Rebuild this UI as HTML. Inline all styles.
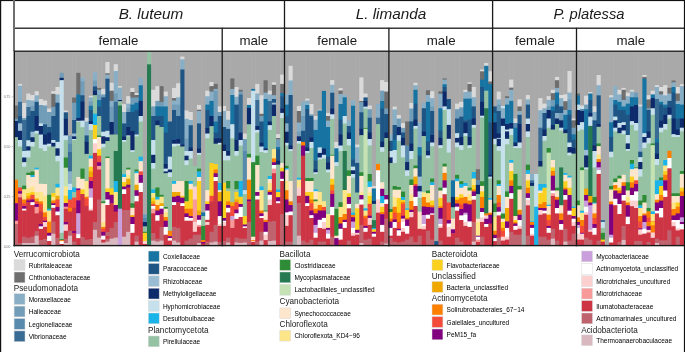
<!DOCTYPE html>
<html><head><meta charset="utf-8"><style>
html,body{margin:0;padding:0;background:#fff;}
body{width:685px;height:352px;overflow:hidden;position:relative;font-family:"Liberation Sans",sans-serif;color:#111;}
svg{position:absolute;left:0;top:0;}
.t{position:absolute;white-space:nowrap;line-height:1;}
</style></head><body>
<svg width="685" height="352" viewBox="0 0 685 352">
<rect x="13.80" y="51.00" width="4.76" height="55.00" fill="#a9a9a9"/>
<rect x="13.80" y="105.50" width="4.76" height="13.80" fill="#6e6e6e"/>
<rect x="13.80" y="118.80" width="4.76" height="2.70" fill="#729db9"/>
<rect x="13.80" y="121.00" width="4.76" height="16.70" fill="#0d2a6a"/>
<rect x="13.80" y="137.20" width="4.76" height="43.00" fill="#96c2a4"/>
<rect x="13.80" y="179.70" width="4.76" height="24.00" fill="#fd7f00"/>
<rect x="13.80" y="203.20" width="4.76" height="18.00" fill="#800080"/>
<rect x="13.80" y="220.70" width="4.76" height="3.80" fill="#f89a9a"/>
<rect x="13.80" y="224.00" width="4.76" height="21.50" fill="#bf636f"/>
<rect x="17.96" y="51.00" width="4.76" height="33.40" fill="#a9a9a9"/>
<rect x="17.96" y="83.90" width="4.76" height="2.30" fill="#dadada"/>
<rect x="17.96" y="85.70" width="4.76" height="16.60" fill="#88afc6"/>
<rect x="17.96" y="101.80" width="4.76" height="14.70" fill="#386c95"/>
<rect x="17.96" y="116.00" width="4.76" height="7.90" fill="#1e5585"/>
<rect x="17.96" y="123.40" width="4.76" height="7.90" fill="#9bbdd4"/>
<rect x="17.96" y="130.80" width="4.76" height="9.70" fill="#0d2a6a"/>
<rect x="17.96" y="140.00" width="4.76" height="7.00" fill="#c6e0ec"/>
<rect x="17.96" y="146.50" width="4.76" height="41.50" fill="#96c2a4"/>
<rect x="17.96" y="187.50" width="4.76" height="4.20" fill="#f44a3a"/>
<rect x="17.96" y="191.20" width="4.76" height="2.90" fill="#800080"/>
<rect x="17.96" y="193.60" width="4.76" height="4.20" fill="#f89a9a"/>
<rect x="17.96" y="197.30" width="4.76" height="46.20" fill="#cd3545"/>
<rect x="17.96" y="243.00" width="4.76" height="2.50" fill="#bf636f"/>
<rect x="22.13" y="51.00" width="4.76" height="52.50" fill="#a9a9a9"/>
<rect x="22.13" y="103.00" width="4.76" height="15.50" fill="#dadada"/>
<rect x="22.13" y="118.00" width="4.76" height="2.50" fill="#729db9"/>
<rect x="22.13" y="120.00" width="4.76" height="31.50" fill="#386c95"/>
<rect x="22.13" y="151.00" width="4.76" height="7.00" fill="#c6e0ec"/>
<rect x="22.13" y="157.50" width="4.76" height="5.20" fill="#0d2a6a"/>
<rect x="22.13" y="162.20" width="4.76" height="5.10" fill="#c6e0ec"/>
<rect x="22.13" y="166.80" width="4.76" height="19.30" fill="#96c2a4"/>
<rect x="22.13" y="185.60" width="4.76" height="4.20" fill="#2e8b36"/>
<rect x="22.13" y="189.30" width="4.76" height="10.70" fill="#fde68a"/>
<rect x="22.13" y="199.50" width="4.76" height="4.20" fill="#fd7f00"/>
<rect x="22.13" y="203.20" width="4.76" height="3.30" fill="#f44a3a"/>
<rect x="22.13" y="206.00" width="4.76" height="3.20" fill="#800080"/>
<rect x="22.13" y="208.70" width="4.76" height="2.30" fill="#ffffff"/>
<rect x="22.13" y="210.50" width="4.76" height="26.70" fill="#cd3545"/>
<rect x="22.13" y="236.70" width="4.76" height="6.80" fill="#bf636f"/>
<rect x="22.13" y="243.00" width="4.76" height="2.50" fill="#d9b9bf"/>
<rect x="26.29" y="51.00" width="4.76" height="43.00" fill="#a9a9a9"/>
<rect x="26.29" y="93.50" width="4.76" height="7.00" fill="#dadada"/>
<rect x="26.29" y="100.00" width="4.76" height="7.50" fill="#88afc6"/>
<rect x="26.29" y="107.00" width="4.76" height="9.50" fill="#386c95"/>
<rect x="26.29" y="116.00" width="4.76" height="24.80" fill="#1e5585"/>
<rect x="26.29" y="140.30" width="4.76" height="6.50" fill="#c6e0ec"/>
<rect x="26.29" y="146.30" width="4.76" height="4.70" fill="#0d2a6a"/>
<rect x="26.29" y="150.50" width="4.76" height="7.40" fill="#c6e0ec"/>
<rect x="26.29" y="157.40" width="4.76" height="15.80" fill="#96c2a4"/>
<rect x="26.29" y="172.70" width="4.76" height="2.80" fill="#2e8b36"/>
<rect x="26.29" y="175.00" width="4.76" height="13.90" fill="#fde6cc"/>
<rect x="26.29" y="188.40" width="4.76" height="5.10" fill="#fde68a"/>
<rect x="26.29" y="193.00" width="4.76" height="3.30" fill="#fbd01e"/>
<rect x="26.29" y="195.80" width="4.76" height="3.20" fill="#f0a800"/>
<rect x="26.29" y="198.50" width="4.76" height="2.40" fill="#f44a3a"/>
<rect x="26.29" y="200.40" width="4.76" height="2.30" fill="#800080"/>
<rect x="26.29" y="202.20" width="4.76" height="36.00" fill="#cd3545"/>
<rect x="26.29" y="237.70" width="4.76" height="5.80" fill="#bf636f"/>
<rect x="26.29" y="243.00" width="4.76" height="2.50" fill="#d9b9bf"/>
<rect x="30.45" y="51.00" width="4.76" height="44.50" fill="#a9a9a9"/>
<rect x="30.45" y="95.00" width="4.76" height="6.00" fill="#dadada"/>
<rect x="30.45" y="100.50" width="4.76" height="6.00" fill="#88afc6"/>
<rect x="30.45" y="106.00" width="4.76" height="5.50" fill="#729db9"/>
<rect x="30.45" y="111.00" width="4.76" height="21.20" fill="#1e5585"/>
<rect x="30.45" y="131.70" width="4.76" height="6.00" fill="#9bbdd4"/>
<rect x="30.45" y="137.20" width="4.76" height="5.20" fill="#0d2a6a"/>
<rect x="30.45" y="141.90" width="4.76" height="5.10" fill="#c6e0ec"/>
<rect x="30.45" y="146.50" width="4.76" height="25.40" fill="#96c2a4"/>
<rect x="30.45" y="171.40" width="4.76" height="4.10" fill="#2e8b36"/>
<rect x="30.45" y="175.00" width="4.76" height="2.50" fill="#1ab4e8"/>
<rect x="30.45" y="177.00" width="4.76" height="10.00" fill="#fde6cc"/>
<rect x="30.45" y="186.50" width="4.76" height="6.00" fill="#fde68a"/>
<rect x="30.45" y="192.00" width="4.76" height="3.30" fill="#fbd01e"/>
<rect x="30.45" y="194.80" width="4.76" height="5.20" fill="#f44a3a"/>
<rect x="30.45" y="199.50" width="4.76" height="3.20" fill="#800080"/>
<rect x="30.45" y="202.20" width="4.76" height="3.30" fill="#ffffff"/>
<rect x="30.45" y="205.00" width="4.76" height="32.20" fill="#cd3545"/>
<rect x="30.45" y="236.70" width="4.76" height="6.80" fill="#bf636f"/>
<rect x="30.45" y="243.00" width="4.76" height="2.50" fill="#d9b9bf"/>
<rect x="34.61" y="51.00" width="4.76" height="40.80" fill="#a9a9a9"/>
<rect x="34.61" y="91.30" width="4.76" height="4.50" fill="#dadada"/>
<rect x="34.61" y="95.30" width="4.76" height="7.00" fill="#88afc6"/>
<rect x="34.61" y="101.80" width="4.76" height="14.70" fill="#1e5585"/>
<rect x="34.61" y="116.00" width="4.76" height="15.30" fill="#0d2a6a"/>
<rect x="34.61" y="130.80" width="4.76" height="3.20" fill="#c6e0ec"/>
<rect x="34.61" y="133.50" width="4.76" height="34.70" fill="#96c2a4"/>
<rect x="34.61" y="167.70" width="4.76" height="2.30" fill="#1ab4e8"/>
<rect x="34.61" y="169.50" width="4.76" height="23.00" fill="#fde6cc"/>
<rect x="34.61" y="192.00" width="4.76" height="7.00" fill="#fde68a"/>
<rect x="34.61" y="198.50" width="4.76" height="3.30" fill="#f0a800"/>
<rect x="34.61" y="201.30" width="4.76" height="3.20" fill="#f44a3a"/>
<rect x="34.61" y="204.00" width="4.76" height="3.40" fill="#800080"/>
<rect x="34.61" y="206.90" width="4.76" height="6.90" fill="#f89a9a"/>
<rect x="34.61" y="213.30" width="4.76" height="18.50" fill="#cd3545"/>
<rect x="34.61" y="231.30" width="4.76" height="4.90" fill="#bf636f"/>
<rect x="34.61" y="235.70" width="4.76" height="9.80" fill="#d9b9bf"/>
<rect x="38.78" y="51.00" width="4.76" height="48.50" fill="#a9a9a9"/>
<rect x="38.78" y="99.00" width="4.76" height="6.50" fill="#dadada"/>
<rect x="38.78" y="105.00" width="4.76" height="18.90" fill="#729db9"/>
<rect x="38.78" y="123.40" width="4.76" height="3.10" fill="#c6e0ec"/>
<rect x="38.78" y="126.00" width="4.76" height="9.00" fill="#0d2a6a"/>
<rect x="38.78" y="134.50" width="4.76" height="14.30" fill="#c6e0ec"/>
<rect x="38.78" y="148.30" width="4.76" height="36.00" fill="#96c2a4"/>
<rect x="38.78" y="183.80" width="4.76" height="8.70" fill="#fde6cc"/>
<rect x="38.78" y="192.00" width="4.76" height="9.80" fill="#fde68a"/>
<rect x="38.78" y="201.30" width="4.76" height="3.20" fill="#fd7f00"/>
<rect x="38.78" y="204.00" width="4.76" height="8.00" fill="#f44a3a"/>
<rect x="38.78" y="211.50" width="4.76" height="13.00" fill="#cd3545"/>
<rect x="38.78" y="224.00" width="4.76" height="2.90" fill="#800080"/>
<rect x="38.78" y="226.40" width="4.76" height="2.90" fill="#ffffff"/>
<rect x="38.78" y="228.80" width="4.76" height="11.80" fill="#cd3545"/>
<rect x="38.78" y="240.10" width="4.76" height="5.40" fill="#bf636f"/>
<rect x="42.94" y="51.00" width="4.76" height="50.00" fill="#a9a9a9"/>
<rect x="42.94" y="100.50" width="4.76" height="5.50" fill="#dadada"/>
<rect x="42.94" y="105.50" width="4.76" height="19.30" fill="#729db9"/>
<rect x="42.94" y="124.30" width="4.76" height="10.70" fill="#1e5585"/>
<rect x="42.94" y="134.50" width="4.76" height="10.60" fill="#0d2a6a"/>
<rect x="42.94" y="144.60" width="4.76" height="6.90" fill="#c6e0ec"/>
<rect x="42.94" y="151.00" width="4.76" height="33.50" fill="#96c2a4"/>
<rect x="42.94" y="184.00" width="4.76" height="12.30" fill="#fde6cc"/>
<rect x="42.94" y="195.80" width="4.76" height="17.10" fill="#fde68a"/>
<rect x="42.94" y="212.40" width="4.76" height="5.10" fill="#fd7f00"/>
<rect x="42.94" y="217.00" width="4.76" height="4.20" fill="#f44a3a"/>
<rect x="42.94" y="220.70" width="4.76" height="1.80" fill="#800080"/>
<rect x="42.94" y="222.00" width="4.76" height="5.40" fill="#fdd0d0"/>
<rect x="42.94" y="226.90" width="4.76" height="12.70" fill="#cd3545"/>
<rect x="42.94" y="239.10" width="4.76" height="6.40" fill="#bf636f"/>
<rect x="47.10" y="51.00" width="4.76" height="58.10" fill="#a9a9a9"/>
<rect x="47.10" y="108.60" width="4.76" height="3.90" fill="#dadada"/>
<rect x="47.10" y="112.00" width="4.76" height="15.50" fill="#729db9"/>
<rect x="47.10" y="127.00" width="4.76" height="6.10" fill="#1e5585"/>
<rect x="47.10" y="132.60" width="4.76" height="11.60" fill="#0d2a6a"/>
<rect x="47.10" y="143.70" width="4.76" height="3.30" fill="#c6e0ec"/>
<rect x="47.10" y="146.50" width="4.76" height="48.80" fill="#96c2a4"/>
<rect x="47.10" y="194.80" width="4.76" height="14.40" fill="#2e8b36"/>
<rect x="47.10" y="208.70" width="4.76" height="2.30" fill="#1ab4e8"/>
<rect x="47.10" y="210.50" width="4.76" height="11.60" fill="#fde68a"/>
<rect x="47.10" y="221.60" width="4.76" height="11.70" fill="#fd7f00"/>
<rect x="47.10" y="232.80" width="4.76" height="3.40" fill="#800080"/>
<rect x="47.10" y="235.70" width="4.76" height="5.80" fill="#ffffff"/>
<rect x="47.10" y="241.00" width="4.76" height="4.50" fill="#cd3545"/>
<rect x="51.26" y="51.00" width="4.76" height="40.80" fill="#a9a9a9"/>
<rect x="51.26" y="91.30" width="4.76" height="3.00" fill="#dadada"/>
<rect x="51.26" y="93.80" width="4.76" height="13.50" fill="#6e6e6e"/>
<rect x="51.26" y="106.80" width="4.76" height="9.70" fill="#729db9"/>
<rect x="51.26" y="116.00" width="4.76" height="24.50" fill="#1e5585"/>
<rect x="51.26" y="140.00" width="4.76" height="3.30" fill="#c6e0ec"/>
<rect x="51.26" y="142.80" width="4.76" height="4.20" fill="#0d2a6a"/>
<rect x="51.26" y="146.50" width="4.76" height="47.00" fill="#96c2a4"/>
<rect x="51.26" y="193.00" width="4.76" height="4.20" fill="#fbd01e"/>
<rect x="51.26" y="196.70" width="4.76" height="4.20" fill="#fde68a"/>
<rect x="51.26" y="200.40" width="4.76" height="3.30" fill="#fd7f00"/>
<rect x="51.26" y="203.20" width="4.76" height="2.30" fill="#800080"/>
<rect x="51.26" y="205.00" width="4.76" height="3.30" fill="#ffffff"/>
<rect x="51.26" y="207.80" width="4.76" height="14.30" fill="#cd3545"/>
<rect x="51.26" y="221.60" width="4.76" height="12.60" fill="#bf636f"/>
<rect x="51.26" y="233.70" width="4.76" height="11.80" fill="#d9b9bf"/>
<rect x="55.43" y="51.00" width="4.76" height="36.50" fill="#a9a9a9"/>
<rect x="55.43" y="87.00" width="4.76" height="7.90" fill="#dadada"/>
<rect x="55.43" y="94.40" width="4.76" height="8.80" fill="#88afc6"/>
<rect x="55.43" y="102.70" width="4.76" height="39.70" fill="#1e5585"/>
<rect x="55.43" y="141.90" width="4.76" height="6.90" fill="#c6e0ec"/>
<rect x="55.43" y="148.30" width="4.76" height="7.90" fill="#0d2a6a"/>
<rect x="55.43" y="155.70" width="4.76" height="6.00" fill="#c6e0ec"/>
<rect x="55.43" y="161.20" width="4.76" height="23.10" fill="#96c2a4"/>
<rect x="55.43" y="183.80" width="4.76" height="4.20" fill="#1ab4e8"/>
<rect x="55.43" y="187.50" width="4.76" height="8.80" fill="#fde68a"/>
<rect x="55.43" y="195.80" width="4.76" height="4.20" fill="#f0a800"/>
<rect x="55.43" y="199.50" width="4.76" height="7.90" fill="#f44a3a"/>
<rect x="55.43" y="206.90" width="4.76" height="5.10" fill="#800080"/>
<rect x="55.43" y="211.50" width="4.76" height="4.20" fill="#ffffff"/>
<rect x="55.43" y="215.20" width="4.76" height="23.40" fill="#cd3545"/>
<rect x="55.43" y="238.10" width="4.76" height="7.40" fill="#bf636f"/>
<rect x="59.59" y="51.00" width="4.76" height="22.30" fill="#a9a9a9"/>
<rect x="59.59" y="72.80" width="4.76" height="5.50" fill="#729db9"/>
<rect x="59.59" y="77.80" width="4.76" height="2.90" fill="#0d2a6a"/>
<rect x="59.59" y="80.20" width="4.76" height="153.10" fill="#c6e0ec"/>
<rect x="59.59" y="232.80" width="4.76" height="6.80" fill="#96c2a4"/>
<rect x="59.59" y="239.10" width="4.76" height="1.50" fill="#2e8b36"/>
<rect x="59.59" y="240.10" width="4.76" height="1.50" fill="#fd7f00"/>
<rect x="59.59" y="241.10" width="4.76" height="3.40" fill="#ffffff"/>
<rect x="59.59" y="244.00" width="4.76" height="1.50" fill="#cd3545"/>
<rect x="63.75" y="51.00" width="4.76" height="60.00" fill="#a9a9a9"/>
<rect x="63.75" y="110.50" width="4.76" height="2.30" fill="#dadada"/>
<rect x="63.75" y="112.30" width="4.76" height="7.00" fill="#1e5585"/>
<rect x="63.75" y="118.80" width="4.76" height="17.10" fill="#0d2a6a"/>
<rect x="63.75" y="135.40" width="4.76" height="5.10" fill="#c6e0ec"/>
<rect x="63.75" y="140.00" width="4.76" height="18.00" fill="#96c2a4"/>
<rect x="63.75" y="157.50" width="4.76" height="10.70" fill="#2e8b36"/>
<rect x="63.75" y="167.70" width="4.76" height="19.30" fill="#c4e2b4"/>
<rect x="63.75" y="186.50" width="4.76" height="9.80" fill="#fde68a"/>
<rect x="63.75" y="195.80" width="4.76" height="7.70" fill="#fbd01e"/>
<rect x="63.75" y="203.00" width="4.76" height="4.20" fill="#800080"/>
<rect x="63.75" y="206.70" width="4.76" height="2.50" fill="#f89a9a"/>
<rect x="63.75" y="208.70" width="4.76" height="13.80" fill="#cd3545"/>
<rect x="63.75" y="222.00" width="4.76" height="2.90" fill="#800080"/>
<rect x="63.75" y="224.40" width="4.76" height="6.90" fill="#fdd0d0"/>
<rect x="63.75" y="230.80" width="4.76" height="8.30" fill="#cd3545"/>
<rect x="63.75" y="238.60" width="4.76" height="4.90" fill="#bf636f"/>
<rect x="63.75" y="243.00" width="4.76" height="2.50" fill="#d9b9bf"/>
<rect x="67.92" y="51.00" width="4.76" height="84.90" fill="#a9a9a9"/>
<rect x="67.92" y="135.40" width="4.76" height="8.80" fill="#729db9"/>
<rect x="67.92" y="143.70" width="4.76" height="8.80" fill="#588aad"/>
<rect x="67.92" y="152.00" width="4.76" height="19.90" fill="#386c95"/>
<rect x="67.92" y="171.40" width="4.76" height="12.90" fill="#88afc6"/>
<rect x="67.92" y="183.80" width="4.76" height="6.70" fill="#c6e0ec"/>
<rect x="67.92" y="190.00" width="4.76" height="10.00" fill="#1ab4e8"/>
<rect x="67.92" y="199.50" width="4.76" height="8.80" fill="#f44a3a"/>
<rect x="67.92" y="207.80" width="4.76" height="4.20" fill="#fd7f00"/>
<rect x="67.92" y="211.50" width="4.76" height="19.80" fill="#cd3545"/>
<rect x="67.92" y="230.80" width="4.76" height="5.40" fill="#bf636f"/>
<rect x="67.92" y="235.70" width="4.76" height="9.80" fill="#d9b9bf"/>
<rect x="72.08" y="51.00" width="4.76" height="47.00" fill="#a9a9a9"/>
<rect x="72.08" y="97.50" width="4.76" height="5.70" fill="#6e6e6e"/>
<rect x="72.08" y="102.70" width="4.76" height="17.80" fill="#729db9"/>
<rect x="72.08" y="120.00" width="4.76" height="14.00" fill="#1e5585"/>
<rect x="72.08" y="133.50" width="4.76" height="3.30" fill="#9bbdd4"/>
<rect x="72.08" y="136.30" width="4.76" height="3.20" fill="#0d2a6a"/>
<rect x="72.08" y="139.00" width="4.76" height="1.50" fill="#c6e0ec"/>
<rect x="72.08" y="140.00" width="4.76" height="48.00" fill="#96c2a4"/>
<rect x="72.08" y="187.50" width="4.76" height="5.00" fill="#1ab4e8"/>
<rect x="72.08" y="192.00" width="4.76" height="6.10" fill="#96c2a4"/>
<rect x="72.08" y="197.60" width="4.76" height="10.70" fill="#f44a3a"/>
<rect x="72.08" y="207.80" width="4.76" height="23.70" fill="#cd3545"/>
<rect x="72.08" y="231.00" width="4.76" height="2.50" fill="#800080"/>
<rect x="72.08" y="233.00" width="4.76" height="9.10" fill="#cd3545"/>
<rect x="72.08" y="241.60" width="4.76" height="3.90" fill="#bf636f"/>
<rect x="76.24" y="51.00" width="4.76" height="22.30" fill="#a9a9a9"/>
<rect x="76.24" y="72.80" width="4.76" height="22.10" fill="#6e6e6e"/>
<rect x="76.24" y="94.40" width="4.76" height="24.00" fill="#1774a2"/>
<rect x="76.24" y="117.90" width="4.76" height="3.40" fill="#0d2a6a"/>
<rect x="76.24" y="120.80" width="4.76" height="1.40" fill="#c6e0ec"/>
<rect x="76.24" y="121.70" width="4.76" height="55.80" fill="#96c2a4"/>
<rect x="76.24" y="177.00" width="4.76" height="11.90" fill="#fde6cc"/>
<rect x="76.24" y="188.40" width="4.76" height="2.30" fill="#800080"/>
<rect x="76.24" y="190.20" width="4.76" height="10.70" fill="#f44a3a"/>
<rect x="76.24" y="200.40" width="4.76" height="13.40" fill="#800080"/>
<rect x="76.24" y="213.30" width="4.76" height="21.40" fill="#c9a0dc"/>
<rect x="76.24" y="234.20" width="4.76" height="4.40" fill="#ffffff"/>
<rect x="76.24" y="238.10" width="4.76" height="7.40" fill="#cd3545"/>
<rect x="80.40" y="51.00" width="4.76" height="26.80" fill="#a9a9a9"/>
<rect x="80.40" y="77.30" width="4.76" height="4.30" fill="#88afc6"/>
<rect x="80.40" y="81.10" width="4.76" height="14.60" fill="#729db9"/>
<rect x="80.40" y="95.20" width="4.76" height="6.70" fill="#1e5585"/>
<rect x="80.40" y="101.40" width="4.76" height="19.70" fill="#0d2a6a"/>
<rect x="80.40" y="120.60" width="4.76" height="7.00" fill="#c6e0ec"/>
<rect x="80.40" y="127.10" width="4.76" height="42.00" fill="#96c2a4"/>
<rect x="80.40" y="168.60" width="4.76" height="10.70" fill="#2e8b36"/>
<rect x="80.40" y="178.80" width="4.76" height="11.00" fill="#fde6cc"/>
<rect x="80.40" y="189.30" width="4.76" height="5.20" fill="#fbd01e"/>
<rect x="80.40" y="194.00" width="4.76" height="43.70" fill="#cd3545"/>
<rect x="80.40" y="237.20" width="4.76" height="8.30" fill="#bf636f"/>
<rect x="84.57" y="51.00" width="4.76" height="67.30" fill="#a9a9a9"/>
<rect x="84.57" y="117.80" width="4.76" height="4.20" fill="#dadada"/>
<rect x="84.57" y="121.50" width="4.76" height="14.40" fill="#88afc6"/>
<rect x="84.57" y="135.40" width="4.76" height="7.00" fill="#1e5585"/>
<rect x="84.57" y="141.90" width="4.76" height="12.50" fill="#0d2a6a"/>
<rect x="84.57" y="153.90" width="4.76" height="27.60" fill="#96c2a4"/>
<rect x="84.57" y="181.00" width="4.76" height="16.20" fill="#fde68a"/>
<rect x="84.57" y="196.70" width="4.76" height="2.30" fill="#fd7f00"/>
<rect x="84.57" y="198.50" width="4.76" height="8.00" fill="#f44a3a"/>
<rect x="84.57" y="206.00" width="4.76" height="34.10" fill="#cd3545"/>
<rect x="84.57" y="239.60" width="4.76" height="5.90" fill="#bf636f"/>
<rect x="88.73" y="51.00" width="4.76" height="45.30" fill="#a9a9a9"/>
<rect x="88.73" y="95.80" width="4.76" height="2.00" fill="#dadada"/>
<rect x="88.73" y="97.30" width="4.76" height="4.60" fill="#88afc6"/>
<rect x="88.73" y="101.40" width="4.76" height="4.90" fill="#729db9"/>
<rect x="88.73" y="105.80" width="4.76" height="4.70" fill="#1774a2"/>
<rect x="88.73" y="110.00" width="4.76" height="11.50" fill="#1e5585"/>
<rect x="88.73" y="121.00" width="4.76" height="3.50" fill="#0d2a6a"/>
<rect x="88.73" y="124.00" width="4.76" height="6.50" fill="#c6e0ec"/>
<rect x="88.73" y="130.00" width="4.76" height="26.20" fill="#96c2a4"/>
<rect x="88.73" y="155.70" width="4.76" height="3.30" fill="#1ab4e8"/>
<rect x="88.73" y="158.50" width="4.76" height="8.80" fill="#fde6cc"/>
<rect x="88.73" y="166.80" width="4.76" height="5.10" fill="#fbd01e"/>
<rect x="88.73" y="171.40" width="4.76" height="6.10" fill="#f0a800"/>
<rect x="88.73" y="177.00" width="4.76" height="4.50" fill="#f44a3a"/>
<rect x="88.73" y="181.00" width="4.76" height="7.90" fill="#800080"/>
<rect x="88.73" y="188.40" width="4.76" height="9.70" fill="#c9a0dc"/>
<rect x="88.73" y="197.60" width="4.76" height="11.60" fill="#ffffff"/>
<rect x="88.73" y="208.70" width="4.76" height="2.30" fill="#fdd0d0"/>
<rect x="88.73" y="210.50" width="4.76" height="29.10" fill="#cd3545"/>
<rect x="88.73" y="239.10" width="4.76" height="6.40" fill="#bf636f"/>
<rect x="92.89" y="51.00" width="4.76" height="21.80" fill="#a9a9a9"/>
<rect x="92.89" y="72.30" width="4.76" height="8.40" fill="#88afc6"/>
<rect x="92.89" y="80.20" width="4.76" height="6.70" fill="#729db9"/>
<rect x="92.89" y="86.40" width="4.76" height="4.90" fill="#1e5585"/>
<rect x="92.89" y="90.80" width="4.76" height="4.90" fill="#0d2a6a"/>
<rect x="92.89" y="95.20" width="4.76" height="19.00" fill="#96c2a4"/>
<rect x="92.89" y="113.70" width="4.76" height="11.80" fill="#1ab4e8"/>
<rect x="92.89" y="125.00" width="4.76" height="14.60" fill="#fbd01e"/>
<rect x="92.89" y="139.10" width="4.76" height="4.70" fill="#ffffff"/>
<rect x="92.89" y="143.30" width="4.76" height="10.10" fill="#fdd0d0"/>
<rect x="92.89" y="152.90" width="4.76" height="69.60" fill="#cd3545"/>
<rect x="92.89" y="222.00" width="4.76" height="8.30" fill="#bf636f"/>
<rect x="92.89" y="229.80" width="4.76" height="15.70" fill="#d9b9bf"/>
<rect x="97.05" y="51.00" width="4.76" height="37.40" fill="#a9a9a9"/>
<rect x="97.05" y="87.90" width="4.76" height="2.40" fill="#6e6e6e"/>
<rect x="97.05" y="89.80" width="4.76" height="5.10" fill="#88afc6"/>
<rect x="97.05" y="94.40" width="4.76" height="6.10" fill="#729db9"/>
<rect x="97.05" y="100.00" width="4.76" height="6.90" fill="#1774a2"/>
<rect x="97.05" y="106.40" width="4.76" height="10.10" fill="#1e5585"/>
<rect x="97.05" y="116.00" width="4.76" height="19.90" fill="#96c2a4"/>
<rect x="97.05" y="135.40" width="4.76" height="2.10" fill="#2e8b36"/>
<rect x="97.05" y="137.00" width="4.76" height="12.70" fill="#fde6cc"/>
<rect x="97.05" y="149.20" width="4.76" height="7.00" fill="#fbd01e"/>
<rect x="97.05" y="155.70" width="4.76" height="7.00" fill="#f44a3a"/>
<rect x="97.05" y="162.20" width="4.76" height="4.20" fill="#800080"/>
<rect x="97.05" y="165.90" width="4.76" height="4.10" fill="#f89a9a"/>
<rect x="97.05" y="169.50" width="4.76" height="30.50" fill="#cd3545"/>
<rect x="97.05" y="199.50" width="4.76" height="38.60" fill="#bf636f"/>
<rect x="97.05" y="237.60" width="4.76" height="7.90" fill="#d9b9bf"/>
<rect x="101.22" y="51.00" width="4.76" height="38.40" fill="#a9a9a9"/>
<rect x="101.22" y="88.90" width="4.76" height="6.00" fill="#dadada"/>
<rect x="101.22" y="94.40" width="4.76" height="3.30" fill="#729db9"/>
<rect x="101.22" y="97.20" width="4.76" height="35.00" fill="#1e5585"/>
<rect x="101.22" y="131.70" width="4.76" height="5.10" fill="#c6e0ec"/>
<rect x="101.22" y="136.30" width="4.76" height="7.90" fill="#0d2a6a"/>
<rect x="101.22" y="143.70" width="4.76" height="4.20" fill="#c6e0ec"/>
<rect x="101.22" y="147.40" width="4.76" height="54.40" fill="#96c2a4"/>
<rect x="101.22" y="201.30" width="4.76" height="2.40" fill="#2e8b36"/>
<rect x="101.22" y="203.20" width="4.76" height="19.30" fill="#fde6cc"/>
<rect x="101.22" y="222.00" width="4.76" height="5.40" fill="#fde68a"/>
<rect x="101.22" y="226.90" width="4.76" height="2.40" fill="#fd7f00"/>
<rect x="101.22" y="228.80" width="4.76" height="3.50" fill="#f44a3a"/>
<rect x="101.22" y="231.80" width="4.76" height="4.40" fill="#800080"/>
<rect x="101.22" y="235.70" width="4.76" height="4.40" fill="#ffffff"/>
<rect x="101.22" y="239.60" width="4.76" height="3.40" fill="#cd3545"/>
<rect x="101.22" y="242.50" width="4.76" height="3.00" fill="#d9b9bf"/>
<rect x="105.38" y="51.00" width="4.76" height="11.60" fill="#a9a9a9"/>
<rect x="105.38" y="62.10" width="4.76" height="11.60" fill="#dadada"/>
<rect x="105.38" y="73.20" width="4.76" height="1.90" fill="#6e6e6e"/>
<rect x="105.38" y="74.60" width="4.76" height="4.60" fill="#88afc6"/>
<rect x="105.38" y="78.70" width="4.76" height="52.60" fill="#1e5585"/>
<rect x="105.38" y="130.80" width="4.76" height="6.90" fill="#c6e0ec"/>
<rect x="105.38" y="137.20" width="4.76" height="4.30" fill="#0d2a6a"/>
<rect x="105.38" y="141.00" width="4.76" height="16.10" fill="#96c2a4"/>
<rect x="105.38" y="156.60" width="4.76" height="2.00" fill="#2e8b36"/>
<rect x="105.38" y="158.10" width="4.76" height="30.80" fill="#fde6cc"/>
<rect x="105.38" y="188.40" width="4.76" height="4.10" fill="#fbd01e"/>
<rect x="105.38" y="192.00" width="4.76" height="8.00" fill="#800080"/>
<rect x="105.38" y="199.50" width="4.76" height="6.00" fill="#ffffff"/>
<rect x="105.38" y="205.00" width="4.76" height="27.50" fill="#cd3545"/>
<rect x="105.38" y="232.00" width="4.76" height="4.50" fill="#bf636f"/>
<rect x="105.38" y="236.00" width="4.76" height="3.10" fill="#cd3545"/>
<rect x="105.38" y="238.60" width="4.76" height="3.50" fill="#bf636f"/>
<rect x="105.38" y="241.60" width="4.76" height="3.90" fill="#d9b9bf"/>
<rect x="109.54" y="51.00" width="4.76" height="32.30" fill="#a9a9a9"/>
<rect x="109.54" y="82.80" width="4.76" height="8.40" fill="#dadada"/>
<rect x="109.54" y="90.70" width="4.76" height="10.70" fill="#6e6e6e"/>
<rect x="109.54" y="100.90" width="4.76" height="6.00" fill="#88afc6"/>
<rect x="109.54" y="106.40" width="4.76" height="16.10" fill="#729db9"/>
<rect x="109.54" y="122.00" width="4.76" height="13.00" fill="#0d2a6a"/>
<rect x="109.54" y="134.50" width="4.76" height="54.40" fill="#96c2a4"/>
<rect x="109.54" y="188.40" width="4.76" height="6.90" fill="#fbd01e"/>
<rect x="109.54" y="194.80" width="4.76" height="8.90" fill="#800080"/>
<rect x="109.54" y="203.20" width="4.76" height="25.20" fill="#cd3545"/>
<rect x="109.54" y="227.90" width="4.76" height="11.20" fill="#bf636f"/>
<rect x="109.54" y="238.60" width="4.76" height="6.90" fill="#d9b9bf"/>
<rect x="113.71" y="51.00" width="4.76" height="13.80" fill="#a9a9a9"/>
<rect x="113.71" y="64.30" width="4.76" height="7.20" fill="#dadada"/>
<rect x="113.71" y="71.00" width="4.76" height="23.00" fill="#88afc6"/>
<rect x="113.71" y="93.50" width="4.76" height="8.80" fill="#729db9"/>
<rect x="113.71" y="101.80" width="4.76" height="33.20" fill="#386c95"/>
<rect x="113.71" y="134.50" width="4.76" height="17.00" fill="#96c2a4"/>
<rect x="113.71" y="151.00" width="4.76" height="30.50" fill="#257a52"/>
<rect x="113.71" y="181.00" width="4.76" height="11.50" fill="#1ab4e8"/>
<rect x="113.71" y="192.00" width="4.76" height="13.50" fill="#fde68a"/>
<rect x="113.71" y="205.00" width="4.76" height="7.00" fill="#800080"/>
<rect x="113.71" y="211.50" width="4.76" height="11.00" fill="#cd3545"/>
<rect x="113.71" y="222.00" width="4.76" height="16.10" fill="#bf636f"/>
<rect x="113.71" y="237.60" width="4.76" height="7.90" fill="#d9b9bf"/>
<rect x="117.87" y="51.00" width="4.76" height="35.60" fill="#a9a9a9"/>
<rect x="117.87" y="86.10" width="4.76" height="2.00" fill="#dadada"/>
<rect x="117.87" y="87.60" width="4.76" height="12.90" fill="#88afc6"/>
<rect x="117.87" y="100.00" width="4.76" height="1.70" fill="#0d2a6a"/>
<rect x="117.87" y="101.20" width="4.76" height="4.80" fill="#96c2a4"/>
<rect x="117.87" y="105.50" width="4.76" height="103.70" fill="#257a52"/>
<rect x="117.87" y="208.70" width="4.76" height="36.80" fill="#c9a0dc"/>
<rect x="122.03" y="51.00" width="4.76" height="53.70" fill="#a9a9a9"/>
<rect x="122.03" y="104.20" width="4.76" height="8.30" fill="#dadada"/>
<rect x="122.03" y="112.00" width="4.76" height="11.90" fill="#88afc6"/>
<rect x="122.03" y="123.40" width="4.76" height="13.40" fill="#1e5585"/>
<rect x="122.03" y="136.30" width="4.76" height="4.20" fill="#0d2a6a"/>
<rect x="122.03" y="140.00" width="4.76" height="2.40" fill="#c6e0ec"/>
<rect x="122.03" y="141.90" width="4.76" height="32.80" fill="#96c2a4"/>
<rect x="122.03" y="174.20" width="4.76" height="3.30" fill="#1ab4e8"/>
<rect x="122.03" y="177.00" width="4.76" height="5.50" fill="#fde6cc"/>
<rect x="122.03" y="182.00" width="4.76" height="5.00" fill="#fbd01e"/>
<rect x="122.03" y="186.50" width="4.76" height="3.30" fill="#800080"/>
<rect x="122.03" y="189.30" width="4.76" height="5.20" fill="#ffffff"/>
<rect x="122.03" y="194.00" width="4.76" height="16.50" fill="#cd3545"/>
<rect x="122.03" y="210.00" width="4.76" height="27.20" fill="#bf636f"/>
<rect x="122.03" y="236.70" width="4.76" height="8.80" fill="#d9b9bf"/>
<rect x="126.19" y="51.00" width="4.76" height="45.70" fill="#a9a9a9"/>
<rect x="126.19" y="96.20" width="4.76" height="7.90" fill="#dadada"/>
<rect x="126.19" y="103.60" width="4.76" height="5.10" fill="#88afc6"/>
<rect x="126.19" y="108.20" width="4.76" height="4.30" fill="#729db9"/>
<rect x="126.19" y="112.00" width="4.76" height="15.50" fill="#1e5585"/>
<rect x="126.19" y="127.00" width="4.76" height="8.90" fill="#0d2a6a"/>
<rect x="126.19" y="135.40" width="4.76" height="1.40" fill="#c6e0ec"/>
<rect x="126.19" y="136.30" width="4.76" height="31.90" fill="#96c2a4"/>
<rect x="126.19" y="167.70" width="4.76" height="2.30" fill="#2e8b36"/>
<rect x="126.19" y="169.50" width="4.76" height="6.00" fill="#fde6cc"/>
<rect x="126.19" y="175.00" width="4.76" height="4.30" fill="#fde68a"/>
<rect x="126.19" y="178.80" width="4.76" height="6.40" fill="#f0a800"/>
<rect x="126.19" y="184.70" width="4.76" height="3.30" fill="#800080"/>
<rect x="126.19" y="187.50" width="4.76" height="23.00" fill="#cd3545"/>
<rect x="126.19" y="210.00" width="4.76" height="22.30" fill="#bf636f"/>
<rect x="126.19" y="231.80" width="4.76" height="13.70" fill="#d9b9bf"/>
<rect x="130.36" y="51.00" width="4.76" height="37.40" fill="#a9a9a9"/>
<rect x="130.36" y="87.90" width="4.76" height="4.60" fill="#dadada"/>
<rect x="130.36" y="92.00" width="4.76" height="6.00" fill="#6e6e6e"/>
<rect x="130.36" y="97.50" width="4.76" height="7.60" fill="#729db9"/>
<rect x="130.36" y="104.60" width="4.76" height="7.90" fill="#1774a2"/>
<rect x="130.36" y="112.00" width="4.76" height="19.50" fill="#1e5585"/>
<rect x="130.36" y="131.00" width="4.76" height="19.70" fill="#0d2a6a"/>
<rect x="130.36" y="150.20" width="4.76" height="2.30" fill="#c6e0ec"/>
<rect x="130.36" y="152.00" width="4.76" height="51.70" fill="#96c2a4"/>
<rect x="130.36" y="203.20" width="4.76" height="5.10" fill="#2e8b36"/>
<rect x="130.36" y="207.80" width="4.76" height="7.90" fill="#fde6cc"/>
<rect x="130.36" y="215.20" width="4.76" height="2.30" fill="#f0a800"/>
<rect x="130.36" y="217.00" width="4.76" height="7.50" fill="#800080"/>
<rect x="130.36" y="224.00" width="4.76" height="9.30" fill="#ffffff"/>
<rect x="130.36" y="232.80" width="4.76" height="12.70" fill="#cd3545"/>
<rect x="134.52" y="51.00" width="4.76" height="42.60" fill="#a9a9a9"/>
<rect x="134.52" y="93.10" width="4.76" height="2.40" fill="#dadada"/>
<rect x="134.52" y="95.00" width="4.76" height="3.00" fill="#6e6e6e"/>
<rect x="134.52" y="97.50" width="4.76" height="5.70" fill="#729db9"/>
<rect x="134.52" y="102.70" width="4.76" height="7.80" fill="#1774a2"/>
<rect x="134.52" y="110.00" width="4.76" height="25.00" fill="#1e5585"/>
<rect x="134.52" y="134.50" width="4.76" height="2.30" fill="#c6e0ec"/>
<rect x="134.52" y="136.30" width="4.76" height="33.70" fill="#96c2a4"/>
<rect x="134.52" y="169.50" width="4.76" height="2.40" fill="#2e8b36"/>
<rect x="134.52" y="171.40" width="4.76" height="2.30" fill="#1ab4e8"/>
<rect x="134.52" y="173.20" width="4.76" height="12.00" fill="#fde6cc"/>
<rect x="134.52" y="184.70" width="4.76" height="6.00" fill="#f0a800"/>
<rect x="134.52" y="190.20" width="4.76" height="6.10" fill="#800080"/>
<rect x="134.52" y="195.80" width="4.76" height="6.00" fill="#ffffff"/>
<rect x="134.52" y="201.30" width="4.76" height="34.90" fill="#cd3545"/>
<rect x="134.52" y="235.70" width="4.76" height="6.40" fill="#bf636f"/>
<rect x="134.52" y="241.60" width="4.76" height="3.90" fill="#d9b9bf"/>
<rect x="138.68" y="51.00" width="4.76" height="27.30" fill="#a9a9a9"/>
<rect x="138.68" y="77.80" width="4.76" height="7.90" fill="#88afc6"/>
<rect x="138.68" y="85.20" width="4.76" height="16.20" fill="#1774a2"/>
<rect x="138.68" y="100.90" width="4.76" height="15.60" fill="#0d2a6a"/>
<rect x="138.68" y="116.00" width="4.76" height="6.00" fill="#c6e0ec"/>
<rect x="138.68" y="121.50" width="4.76" height="35.60" fill="#96c2a4"/>
<rect x="138.68" y="156.60" width="4.76" height="5.10" fill="#1ab4e8"/>
<rect x="138.68" y="161.20" width="4.76" height="10.70" fill="#fde6cc"/>
<rect x="138.68" y="171.40" width="4.76" height="4.10" fill="#f44a3a"/>
<rect x="138.68" y="175.00" width="4.76" height="8.30" fill="#800080"/>
<rect x="138.68" y="182.80" width="4.76" height="9.70" fill="#ffffff"/>
<rect x="138.68" y="192.00" width="4.76" height="53.50" fill="#cd3545"/>
<rect x="142.84" y="51.00" width="4.76" height="163.70" fill="#a9a9a9"/>
<rect x="142.84" y="214.20" width="4.76" height="4.30" fill="#729db9"/>
<rect x="142.84" y="218.00" width="4.76" height="4.50" fill="#588aad"/>
<rect x="142.84" y="222.00" width="4.76" height="4.90" fill="#0d2a6a"/>
<rect x="142.84" y="226.40" width="4.76" height="5.90" fill="#96c2a4"/>
<rect x="142.84" y="231.80" width="4.76" height="1.50" fill="#2e8b36"/>
<rect x="142.84" y="232.80" width="4.76" height="8.70" fill="#fbd01e"/>
<rect x="142.84" y="241.00" width="4.76" height="3.50" fill="#fdd0d0"/>
<rect x="142.84" y="244.00" width="4.76" height="1.50" fill="#cd3545"/>
<rect x="147.01" y="51.00" width="4.76" height="13.80" fill="#96c2a4"/>
<rect x="147.01" y="64.30" width="4.76" height="181.20" fill="#257a52"/>
<rect x="151.17" y="51.00" width="4.76" height="39.30" fill="#a9a9a9"/>
<rect x="151.17" y="89.80" width="4.76" height="17.10" fill="#dadada"/>
<rect x="151.17" y="106.40" width="4.76" height="10.10" fill="#729db9"/>
<rect x="151.17" y="116.00" width="4.76" height="24.50" fill="#1e5585"/>
<rect x="151.17" y="140.00" width="4.76" height="15.30" fill="#c6e0ec"/>
<rect x="151.17" y="154.80" width="4.76" height="8.70" fill="#0d2a6a"/>
<rect x="151.17" y="163.00" width="4.76" height="6.10" fill="#c6e0ec"/>
<rect x="151.17" y="168.60" width="4.76" height="21.20" fill="#96c2a4"/>
<rect x="151.17" y="189.30" width="4.76" height="4.20" fill="#1ab4e8"/>
<rect x="151.17" y="193.00" width="4.76" height="5.10" fill="#fde68a"/>
<rect x="151.17" y="197.60" width="4.76" height="4.20" fill="#fbd01e"/>
<rect x="151.17" y="201.30" width="4.76" height="3.20" fill="#f0a800"/>
<rect x="151.17" y="204.00" width="4.76" height="2.50" fill="#f44a3a"/>
<rect x="151.17" y="206.00" width="4.76" height="3.20" fill="#ffffff"/>
<rect x="151.17" y="208.70" width="4.76" height="5.10" fill="#f89a9a"/>
<rect x="151.17" y="213.30" width="4.76" height="20.50" fill="#cd3545"/>
<rect x="151.17" y="233.30" width="4.76" height="7.80" fill="#bf636f"/>
<rect x="151.17" y="240.60" width="4.76" height="4.90" fill="#d9b9bf"/>
<rect x="155.33" y="51.00" width="4.76" height="35.60" fill="#a9a9a9"/>
<rect x="155.33" y="86.10" width="4.76" height="15.30" fill="#dadada"/>
<rect x="155.33" y="100.90" width="4.76" height="6.00" fill="#729db9"/>
<rect x="155.33" y="106.40" width="4.76" height="10.10" fill="#1774a2"/>
<rect x="155.33" y="116.00" width="4.76" height="5.10" fill="#1e5585"/>
<rect x="155.33" y="120.60" width="4.76" height="5.10" fill="#0d2a6a"/>
<rect x="155.33" y="125.20" width="4.76" height="62.80" fill="#96c2a4"/>
<rect x="155.33" y="187.50" width="4.76" height="9.70" fill="#2e8b36"/>
<rect x="155.33" y="196.70" width="4.76" height="3.30" fill="#1ab4e8"/>
<rect x="155.33" y="199.50" width="4.76" height="6.00" fill="#fde68a"/>
<rect x="155.33" y="205.00" width="4.76" height="6.00" fill="#fd7f00"/>
<rect x="155.33" y="210.50" width="4.76" height="5.20" fill="#800080"/>
<rect x="155.33" y="215.20" width="4.76" height="6.00" fill="#ffffff"/>
<rect x="155.33" y="220.70" width="4.76" height="18.40" fill="#cd3545"/>
<rect x="155.33" y="238.60" width="4.76" height="3.50" fill="#bf636f"/>
<rect x="155.33" y="241.60" width="4.76" height="3.90" fill="#d9b9bf"/>
<rect x="159.50" y="51.00" width="4.76" height="35.60" fill="#a9a9a9"/>
<rect x="159.50" y="86.10" width="4.76" height="16.70" fill="#6e6e6e"/>
<rect x="159.50" y="102.30" width="4.76" height="4.60" fill="#729db9"/>
<rect x="159.50" y="106.40" width="4.76" height="10.10" fill="#1774a2"/>
<rect x="159.50" y="116.00" width="4.76" height="11.50" fill="#1e5585"/>
<rect x="159.50" y="127.00" width="4.76" height="68.30" fill="#96c2a4"/>
<rect x="159.50" y="194.80" width="4.76" height="2.40" fill="#2e8b36"/>
<rect x="159.50" y="196.70" width="4.76" height="7.00" fill="#fde68a"/>
<rect x="159.50" y="203.20" width="4.76" height="3.30" fill="#f0a800"/>
<rect x="159.50" y="206.00" width="4.76" height="3.20" fill="#ffffff"/>
<rect x="159.50" y="208.70" width="4.76" height="6.00" fill="#800080"/>
<rect x="159.50" y="214.20" width="4.76" height="13.20" fill="#cd3545"/>
<rect x="159.50" y="226.90" width="4.76" height="14.20" fill="#bf636f"/>
<rect x="159.50" y="240.60" width="4.76" height="4.90" fill="#d9b9bf"/>
<rect x="163.66" y="51.00" width="4.76" height="41.10" fill="#a9a9a9"/>
<rect x="163.66" y="91.60" width="4.76" height="5.10" fill="#dadada"/>
<rect x="163.66" y="96.20" width="4.76" height="10.70" fill="#88afc6"/>
<rect x="163.66" y="106.40" width="4.76" height="26.70" fill="#1774a2"/>
<rect x="163.66" y="132.60" width="4.76" height="31.90" fill="#1e5585"/>
<rect x="163.66" y="164.00" width="4.76" height="5.10" fill="#0d2a6a"/>
<rect x="163.66" y="168.60" width="4.76" height="3.30" fill="#c6e0ec"/>
<rect x="163.66" y="171.40" width="4.76" height="2.30" fill="#0d2a6a"/>
<rect x="163.66" y="173.20" width="4.76" height="34.20" fill="#96c2a4"/>
<rect x="163.66" y="206.90" width="4.76" height="2.30" fill="#2e8b36"/>
<rect x="163.66" y="208.70" width="4.76" height="4.20" fill="#fde6cc"/>
<rect x="163.66" y="212.40" width="4.76" height="5.10" fill="#fde68a"/>
<rect x="163.66" y="217.00" width="4.76" height="4.20" fill="#fd7f00"/>
<rect x="163.66" y="220.70" width="4.76" height="6.70" fill="#800080"/>
<rect x="163.66" y="226.90" width="4.76" height="8.30" fill="#ffffff"/>
<rect x="163.66" y="234.70" width="4.76" height="10.80" fill="#cd3545"/>
<rect x="167.82" y="51.00" width="4.76" height="71.00" fill="#a9a9a9"/>
<rect x="167.82" y="121.50" width="4.76" height="35.60" fill="#1e5585"/>
<rect x="167.82" y="156.60" width="4.76" height="13.40" fill="#c6e0ec"/>
<rect x="167.82" y="169.50" width="4.76" height="3.30" fill="#0d2a6a"/>
<rect x="167.82" y="172.30" width="4.76" height="5.20" fill="#c6e0ec"/>
<rect x="167.82" y="177.00" width="4.76" height="54.30" fill="#96c2a4"/>
<rect x="167.82" y="230.80" width="4.76" height="5.90" fill="#fd7f00"/>
<rect x="167.82" y="236.20" width="4.76" height="2.40" fill="#800080"/>
<rect x="167.82" y="238.10" width="4.76" height="3.00" fill="#ffffff"/>
<rect x="167.82" y="240.60" width="4.76" height="4.90" fill="#cd3545"/>
<rect x="171.98" y="51.00" width="4.76" height="37.40" fill="#a9a9a9"/>
<rect x="171.98" y="87.90" width="4.76" height="10.70" fill="#dadada"/>
<rect x="171.98" y="98.10" width="4.76" height="2.90" fill="#6e6e6e"/>
<rect x="171.98" y="100.50" width="4.76" height="4.60" fill="#88afc6"/>
<rect x="171.98" y="104.60" width="4.76" height="5.90" fill="#729db9"/>
<rect x="171.98" y="110.00" width="4.76" height="30.50" fill="#1e5585"/>
<rect x="171.98" y="140.00" width="4.76" height="4.20" fill="#0d2a6a"/>
<rect x="171.98" y="143.70" width="4.76" height="3.30" fill="#c6e0ec"/>
<rect x="171.98" y="146.50" width="4.76" height="35.00" fill="#96c2a4"/>
<rect x="171.98" y="181.00" width="4.76" height="3.30" fill="#1ab4e8"/>
<rect x="171.98" y="183.80" width="4.76" height="8.70" fill="#fde6cc"/>
<rect x="171.98" y="192.00" width="4.76" height="5.20" fill="#f0a800"/>
<rect x="171.98" y="196.70" width="4.76" height="6.00" fill="#800080"/>
<rect x="171.98" y="202.20" width="4.76" height="3.30" fill="#ffffff"/>
<rect x="171.98" y="205.00" width="4.76" height="22.40" fill="#cd3545"/>
<rect x="171.98" y="226.90" width="4.76" height="14.20" fill="#bf636f"/>
<rect x="171.98" y="240.60" width="4.76" height="4.90" fill="#d9b9bf"/>
<rect x="176.15" y="51.00" width="4.76" height="32.80" fill="#a9a9a9"/>
<rect x="176.15" y="83.30" width="4.76" height="14.40" fill="#dadada"/>
<rect x="176.15" y="97.20" width="4.76" height="7.90" fill="#88afc6"/>
<rect x="176.15" y="104.60" width="4.76" height="11.90" fill="#729db9"/>
<rect x="176.15" y="116.00" width="4.76" height="23.50" fill="#1e5585"/>
<rect x="176.15" y="139.00" width="4.76" height="5.20" fill="#0d2a6a"/>
<rect x="176.15" y="143.70" width="4.76" height="2.30" fill="#c6e0ec"/>
<rect x="176.15" y="145.50" width="4.76" height="36.00" fill="#96c2a4"/>
<rect x="176.15" y="181.00" width="4.76" height="11.50" fill="#fde6cc"/>
<rect x="176.15" y="192.00" width="4.76" height="4.30" fill="#f0a800"/>
<rect x="176.15" y="195.80" width="4.76" height="6.90" fill="#800080"/>
<rect x="176.15" y="202.20" width="4.76" height="26.20" fill="#cd3545"/>
<rect x="176.15" y="227.90" width="4.76" height="15.10" fill="#bf636f"/>
<rect x="176.15" y="242.50" width="4.76" height="3.00" fill="#d9b9bf"/>
<rect x="180.31" y="51.00" width="4.76" height="6.00" fill="#a9a9a9"/>
<rect x="180.31" y="56.50" width="4.76" height="3.30" fill="#dadada"/>
<rect x="180.31" y="59.30" width="4.76" height="10.70" fill="#88afc6"/>
<rect x="180.31" y="69.50" width="4.76" height="75.60" fill="#1e5585"/>
<rect x="180.31" y="144.60" width="4.76" height="2.40" fill="#0d2a6a"/>
<rect x="180.31" y="146.50" width="4.76" height="35.00" fill="#96c2a4"/>
<rect x="180.31" y="181.00" width="4.76" height="15.30" fill="#fde6cc"/>
<rect x="180.31" y="195.80" width="4.76" height="2.30" fill="#fbd01e"/>
<rect x="180.31" y="197.60" width="4.76" height="6.10" fill="#800080"/>
<rect x="180.31" y="203.20" width="4.76" height="3.30" fill="#ffffff"/>
<rect x="180.31" y="206.00" width="4.76" height="39.50" fill="#cd3545"/>
<rect x="184.47" y="51.00" width="4.76" height="60.00" fill="#a9a9a9"/>
<rect x="184.47" y="110.50" width="4.76" height="8.80" fill="#dadada"/>
<rect x="184.47" y="118.80" width="4.76" height="19.90" fill="#88afc6"/>
<rect x="184.47" y="138.20" width="4.76" height="13.30" fill="#729db9"/>
<rect x="184.47" y="151.00" width="4.76" height="5.20" fill="#c6e0ec"/>
<rect x="184.47" y="155.70" width="4.76" height="5.10" fill="#0d2a6a"/>
<rect x="184.47" y="160.30" width="4.76" height="5.20" fill="#c6e0ec"/>
<rect x="184.47" y="165.00" width="4.76" height="16.50" fill="#96c2a4"/>
<rect x="184.47" y="181.00" width="4.76" height="20.80" fill="#2e8b36"/>
<rect x="184.47" y="201.30" width="4.76" height="7.90" fill="#fbd01e"/>
<rect x="184.47" y="208.70" width="4.76" height="5.10" fill="#fd7f00"/>
<rect x="184.47" y="213.30" width="4.76" height="4.20" fill="#800080"/>
<rect x="184.47" y="217.00" width="4.76" height="4.20" fill="#ffffff"/>
<rect x="184.47" y="220.70" width="4.76" height="20.40" fill="#cd3545"/>
<rect x="184.47" y="240.60" width="4.76" height="4.90" fill="#bf636f"/>
<rect x="188.63" y="51.00" width="4.76" height="61.50" fill="#a9a9a9"/>
<rect x="188.63" y="112.00" width="4.76" height="8.50" fill="#dadada"/>
<rect x="188.63" y="120.00" width="4.76" height="5.70" fill="#88afc6"/>
<rect x="188.63" y="125.20" width="4.76" height="22.70" fill="#1e5585"/>
<rect x="188.63" y="147.40" width="4.76" height="4.10" fill="#0d2a6a"/>
<rect x="188.63" y="151.00" width="4.76" height="8.00" fill="#c6e0ec"/>
<rect x="188.63" y="158.50" width="4.76" height="23.00" fill="#96c2a4"/>
<rect x="188.63" y="181.00" width="4.76" height="3.30" fill="#1ab4e8"/>
<rect x="188.63" y="183.80" width="4.76" height="6.00" fill="#fde6cc"/>
<rect x="188.63" y="189.30" width="4.76" height="19.90" fill="#fbd01e"/>
<rect x="188.63" y="208.70" width="4.76" height="7.90" fill="#fd7f00"/>
<rect x="188.63" y="216.10" width="4.76" height="2.40" fill="#800080"/>
<rect x="188.63" y="218.00" width="4.76" height="3.20" fill="#ffffff"/>
<rect x="188.63" y="220.70" width="4.76" height="18.40" fill="#cd3545"/>
<rect x="188.63" y="238.60" width="4.76" height="6.90" fill="#bf636f"/>
<rect x="192.80" y="51.00" width="4.76" height="115.40" fill="#a9a9a9"/>
<rect x="192.80" y="165.90" width="4.76" height="21.10" fill="#96c2a4"/>
<rect x="192.80" y="186.50" width="4.76" height="13.50" fill="#fdd0d0"/>
<rect x="192.80" y="199.50" width="4.76" height="23.00" fill="#f89a9a"/>
<rect x="192.80" y="222.00" width="4.76" height="10.30" fill="#fdd0d0"/>
<rect x="192.80" y="231.80" width="4.76" height="3.40" fill="#cd3545"/>
<rect x="192.80" y="234.70" width="4.76" height="10.80" fill="#bf636f"/>
<rect x="196.96" y="51.00" width="4.76" height="54.40" fill="#a9a9a9"/>
<rect x="196.96" y="104.90" width="4.76" height="5.30" fill="#dadada"/>
<rect x="196.96" y="109.70" width="4.76" height="1.80" fill="#6e6e6e"/>
<rect x="196.96" y="111.00" width="4.76" height="12.90" fill="#88afc6"/>
<rect x="196.96" y="123.40" width="4.76" height="25.40" fill="#1e5585"/>
<rect x="196.96" y="148.30" width="4.76" height="5.10" fill="#0d2a6a"/>
<rect x="196.96" y="152.90" width="4.76" height="2.40" fill="#c6e0ec"/>
<rect x="196.96" y="154.80" width="4.76" height="14.30" fill="#96c2a4"/>
<rect x="196.96" y="168.60" width="4.76" height="3.30" fill="#2e8b36"/>
<rect x="196.96" y="171.40" width="4.76" height="6.10" fill="#1ab4e8"/>
<rect x="196.96" y="177.00" width="4.76" height="4.50" fill="#fde6cc"/>
<rect x="196.96" y="181.00" width="4.76" height="30.00" fill="#fbd01e"/>
<rect x="196.96" y="210.50" width="4.76" height="5.20" fill="#f0a800"/>
<rect x="196.96" y="215.20" width="4.76" height="5.10" fill="#800080"/>
<rect x="196.96" y="219.80" width="4.76" height="5.60" fill="#ffffff"/>
<rect x="196.96" y="224.90" width="4.76" height="2.50" fill="#f89a9a"/>
<rect x="196.96" y="226.90" width="4.76" height="8.30" fill="#cd3545"/>
<rect x="196.96" y="234.70" width="4.76" height="8.80" fill="#bf636f"/>
<rect x="196.96" y="243.00" width="4.76" height="2.50" fill="#d9b9bf"/>
<rect x="201.12" y="51.00" width="4.76" height="161.90" fill="#a9a9a9"/>
<rect x="201.12" y="212.40" width="4.76" height="4.20" fill="#1774a2"/>
<rect x="201.12" y="216.10" width="4.76" height="10.30" fill="#96c2a4"/>
<rect x="201.12" y="225.90" width="4.76" height="14.70" fill="#2e8b36"/>
<rect x="201.12" y="240.10" width="4.76" height="2.40" fill="#fd7f00"/>
<rect x="201.12" y="242.00" width="4.76" height="2.00" fill="#800080"/>
<rect x="201.12" y="243.50" width="4.76" height="2.00" fill="#cd3545"/>
<rect x="205.29" y="51.00" width="4.76" height="40.20" fill="#a9a9a9"/>
<rect x="205.29" y="90.70" width="4.76" height="6.00" fill="#dadada"/>
<rect x="205.29" y="96.20" width="4.76" height="8.90" fill="#88afc6"/>
<rect x="205.29" y="104.60" width="4.76" height="5.90" fill="#1774a2"/>
<rect x="205.29" y="110.00" width="4.76" height="18.50" fill="#1e5585"/>
<rect x="205.29" y="128.00" width="4.76" height="6.00" fill="#0d2a6a"/>
<rect x="205.29" y="133.50" width="4.76" height="5.20" fill="#c6e0ec"/>
<rect x="205.29" y="138.20" width="4.76" height="52.50" fill="#96c2a4"/>
<rect x="205.29" y="190.20" width="4.76" height="11.60" fill="#fde6cc"/>
<rect x="205.29" y="201.30" width="4.76" height="3.20" fill="#fbd01e"/>
<rect x="205.29" y="204.00" width="4.76" height="7.00" fill="#800080"/>
<rect x="205.29" y="210.50" width="4.76" height="9.80" fill="#ffffff"/>
<rect x="205.29" y="219.80" width="4.76" height="2.70" fill="#cd3545"/>
<rect x="205.29" y="222.00" width="4.76" height="3.40" fill="#fdd0d0"/>
<rect x="205.29" y="224.90" width="4.76" height="17.20" fill="#cd3545"/>
<rect x="205.29" y="241.60" width="4.76" height="3.90" fill="#bf636f"/>
<rect x="209.45" y="51.00" width="4.76" height="31.50" fill="#a9a9a9"/>
<rect x="209.45" y="82.00" width="4.76" height="4.60" fill="#dadada"/>
<rect x="209.45" y="86.10" width="4.76" height="6.00" fill="#6e6e6e"/>
<rect x="209.45" y="91.60" width="4.76" height="9.80" fill="#88afc6"/>
<rect x="209.45" y="100.90" width="4.76" height="15.60" fill="#1774a2"/>
<rect x="209.45" y="116.00" width="4.76" height="10.70" fill="#0d2a6a"/>
<rect x="209.45" y="126.20" width="4.76" height="37.30" fill="#96c2a4"/>
<rect x="209.45" y="163.00" width="4.76" height="33.30" fill="#fbd01e"/>
<rect x="209.45" y="195.80" width="4.76" height="6.00" fill="#f44a3a"/>
<rect x="209.45" y="201.30" width="4.76" height="31.00" fill="#cd3545"/>
<rect x="209.45" y="231.80" width="4.76" height="11.20" fill="#bf636f"/>
<rect x="209.45" y="242.50" width="4.76" height="3.00" fill="#d9b9bf"/>
<rect x="213.61" y="51.00" width="4.76" height="33.40" fill="#a9a9a9"/>
<rect x="213.61" y="83.90" width="4.76" height="5.50" fill="#6e6e6e"/>
<rect x="213.61" y="88.90" width="4.76" height="2.30" fill="#88afc6"/>
<rect x="213.61" y="90.70" width="4.76" height="31.30" fill="#729db9"/>
<rect x="213.61" y="121.50" width="4.76" height="11.60" fill="#1774a2"/>
<rect x="213.61" y="132.60" width="4.76" height="6.10" fill="#1e5585"/>
<rect x="213.61" y="138.20" width="4.76" height="6.00" fill="#0d2a6a"/>
<rect x="213.61" y="143.70" width="4.76" height="20.80" fill="#96c2a4"/>
<rect x="213.61" y="164.00" width="4.76" height="6.00" fill="#fbd01e"/>
<rect x="213.61" y="169.50" width="4.76" height="4.20" fill="#fd7f00"/>
<rect x="213.61" y="173.20" width="4.76" height="4.30" fill="#800080"/>
<rect x="213.61" y="177.00" width="4.76" height="4.50" fill="#ffffff"/>
<rect x="213.61" y="181.00" width="4.76" height="44.40" fill="#cd3545"/>
<rect x="213.61" y="224.90" width="4.76" height="17.20" fill="#bf636f"/>
<rect x="213.61" y="241.60" width="4.76" height="3.90" fill="#d9b9bf"/>
<rect x="217.77" y="51.00" width="4.76" height="55.90" fill="#a9a9a9"/>
<rect x="217.77" y="106.40" width="4.76" height="6.10" fill="#dadada"/>
<rect x="217.77" y="112.00" width="4.76" height="4.50" fill="#729db9"/>
<rect x="217.77" y="116.00" width="4.76" height="22.70" fill="#1e5585"/>
<rect x="217.77" y="138.20" width="4.76" height="5.10" fill="#0d2a6a"/>
<rect x="217.77" y="142.80" width="4.76" height="2.30" fill="#c6e0ec"/>
<rect x="217.77" y="144.60" width="4.76" height="38.70" fill="#96c2a4"/>
<rect x="217.77" y="182.80" width="4.76" height="7.90" fill="#1ab4e8"/>
<rect x="217.77" y="190.20" width="4.76" height="2.30" fill="#fde6cc"/>
<rect x="217.77" y="192.00" width="4.76" height="9.80" fill="#f0a800"/>
<rect x="217.77" y="201.30" width="4.76" height="15.30" fill="#800080"/>
<rect x="217.77" y="216.10" width="4.76" height="8.40" fill="#ffffff"/>
<rect x="217.77" y="224.00" width="4.76" height="2.40" fill="#fdd0d0"/>
<rect x="217.77" y="225.90" width="4.76" height="16.60" fill="#cd3545"/>
<rect x="217.77" y="242.00" width="4.76" height="3.50" fill="#bf636f"/>
<rect x="221.94" y="51.00" width="4.76" height="55.50" fill="#a9a9a9"/>
<rect x="221.94" y="106.00" width="4.76" height="5.50" fill="#dadada"/>
<rect x="221.94" y="111.00" width="4.76" height="16.50" fill="#88afc6"/>
<rect x="221.94" y="127.00" width="4.76" height="18.10" fill="#1e5585"/>
<rect x="221.94" y="144.60" width="4.76" height="6.90" fill="#0d2a6a"/>
<rect x="221.94" y="151.00" width="4.76" height="9.80" fill="#c6e0ec"/>
<rect x="221.94" y="160.30" width="4.76" height="23.00" fill="#96c2a4"/>
<rect x="221.94" y="182.80" width="4.76" height="35.70" fill="#fbd01e"/>
<rect x="221.94" y="218.00" width="4.76" height="3.20" fill="#800080"/>
<rect x="221.94" y="220.70" width="4.76" height="1.80" fill="#ffffff"/>
<rect x="221.94" y="222.00" width="4.76" height="4.40" fill="#fdd0d0"/>
<rect x="221.94" y="225.90" width="4.76" height="15.60" fill="#cd3545"/>
<rect x="221.94" y="241.00" width="4.76" height="4.50" fill="#bf636f"/>
<rect x="226.10" y="51.00" width="4.76" height="60.50" fill="#a9a9a9"/>
<rect x="226.10" y="111.00" width="4.76" height="9.20" fill="#dadada"/>
<rect x="226.10" y="119.70" width="4.76" height="9.70" fill="#88afc6"/>
<rect x="226.10" y="128.90" width="4.76" height="22.60" fill="#1e5585"/>
<rect x="226.10" y="151.00" width="4.76" height="5.20" fill="#0d2a6a"/>
<rect x="226.10" y="155.70" width="4.76" height="5.10" fill="#c6e0ec"/>
<rect x="226.10" y="160.30" width="4.76" height="21.20" fill="#96c2a4"/>
<rect x="226.10" y="181.00" width="4.76" height="7.90" fill="#2e8b36"/>
<rect x="226.10" y="188.40" width="4.76" height="3.30" fill="#96c2a4"/>
<rect x="226.10" y="191.20" width="4.76" height="10.60" fill="#fbd01e"/>
<rect x="226.10" y="201.30" width="4.76" height="4.20" fill="#fd7f00"/>
<rect x="226.10" y="205.00" width="4.76" height="3.30" fill="#800080"/>
<rect x="226.10" y="207.80" width="4.76" height="5.10" fill="#ffffff"/>
<rect x="226.10" y="212.40" width="4.76" height="25.80" fill="#cd3545"/>
<rect x="226.10" y="237.70" width="4.76" height="5.30" fill="#bf636f"/>
<rect x="226.10" y="242.50" width="4.76" height="3.00" fill="#d9b9bf"/>
<rect x="230.26" y="51.00" width="4.76" height="27.80" fill="#a9a9a9"/>
<rect x="230.26" y="78.30" width="4.76" height="11.10" fill="#6e6e6e"/>
<rect x="230.26" y="88.90" width="4.76" height="6.60" fill="#88afc6"/>
<rect x="230.26" y="95.00" width="4.76" height="29.80" fill="#1774a2"/>
<rect x="230.26" y="124.30" width="4.76" height="14.40" fill="#c6e0ec"/>
<rect x="230.26" y="138.20" width="4.76" height="64.50" fill="#96c2a4"/>
<rect x="230.26" y="202.20" width="4.76" height="4.30" fill="#f0a800"/>
<rect x="230.26" y="206.00" width="4.76" height="10.60" fill="#f44a3a"/>
<rect x="230.26" y="216.10" width="4.76" height="4.20" fill="#c9a0dc"/>
<rect x="230.26" y="219.80" width="4.76" height="8.60" fill="#f89a9a"/>
<rect x="230.26" y="227.90" width="4.76" height="17.60" fill="#cd3545"/>
<rect x="234.42" y="51.00" width="4.76" height="36.50" fill="#a9a9a9"/>
<rect x="234.42" y="87.00" width="4.76" height="10.30" fill="#dadada"/>
<rect x="234.42" y="96.80" width="4.76" height="8.30" fill="#88afc6"/>
<rect x="234.42" y="104.60" width="4.76" height="35.90" fill="#1e5585"/>
<rect x="234.42" y="140.00" width="4.76" height="11.50" fill="#0d2a6a"/>
<rect x="234.42" y="151.00" width="4.76" height="5.20" fill="#c6e0ec"/>
<rect x="234.42" y="155.70" width="4.76" height="25.80" fill="#96c2a4"/>
<rect x="234.42" y="181.00" width="4.76" height="8.80" fill="#2e8b36"/>
<rect x="234.42" y="189.30" width="4.76" height="3.20" fill="#96c2a4"/>
<rect x="234.42" y="192.00" width="4.76" height="8.00" fill="#fbd01e"/>
<rect x="234.42" y="199.50" width="4.76" height="3.20" fill="#f0a800"/>
<rect x="234.42" y="202.20" width="4.76" height="7.90" fill="#f44a3a"/>
<rect x="234.42" y="209.60" width="4.76" height="4.20" fill="#800080"/>
<rect x="234.42" y="213.30" width="4.76" height="6.10" fill="#ffffff"/>
<rect x="234.42" y="218.90" width="4.76" height="19.30" fill="#cd3545"/>
<rect x="234.42" y="237.70" width="4.76" height="5.30" fill="#bf636f"/>
<rect x="234.42" y="242.50" width="4.76" height="3.00" fill="#d9b9bf"/>
<rect x="238.59" y="51.00" width="4.76" height="39.30" fill="#a9a9a9"/>
<rect x="238.59" y="89.80" width="4.76" height="2.30" fill="#6e6e6e"/>
<rect x="238.59" y="91.60" width="4.76" height="3.30" fill="#729db9"/>
<rect x="238.59" y="94.40" width="4.76" height="38.70" fill="#386c95"/>
<rect x="238.59" y="132.60" width="4.76" height="7.90" fill="#0d2a6a"/>
<rect x="238.59" y="140.00" width="4.76" height="6.00" fill="#c6e0ec"/>
<rect x="238.59" y="145.50" width="4.76" height="36.00" fill="#96c2a4"/>
<rect x="238.59" y="181.00" width="4.76" height="16.20" fill="#1ab4e8"/>
<rect x="238.59" y="196.70" width="4.76" height="7.80" fill="#fbd01e"/>
<rect x="238.59" y="204.00" width="4.76" height="3.40" fill="#800080"/>
<rect x="238.59" y="206.90" width="4.76" height="10.60" fill="#ffffff"/>
<rect x="238.59" y="217.00" width="4.76" height="22.10" fill="#cd3545"/>
<rect x="238.59" y="238.60" width="4.76" height="4.90" fill="#bf636f"/>
<rect x="238.59" y="243.00" width="4.76" height="2.50" fill="#d9b9bf"/>
<rect x="242.75" y="51.00" width="4.76" height="83.00" fill="#a9a9a9"/>
<rect x="242.75" y="133.50" width="4.76" height="6.10" fill="#dadada"/>
<rect x="242.75" y="139.10" width="4.76" height="12.40" fill="#729db9"/>
<rect x="242.75" y="151.00" width="4.76" height="39.70" fill="#588aad"/>
<rect x="242.75" y="190.20" width="4.76" height="4.30" fill="#c6e0ec"/>
<rect x="242.75" y="194.00" width="4.76" height="22.60" fill="#96c2a4"/>
<rect x="242.75" y="216.10" width="4.76" height="8.90" fill="#fbd01e"/>
<rect x="242.75" y="224.50" width="4.76" height="2.40" fill="#800080"/>
<rect x="242.75" y="226.40" width="4.76" height="2.00" fill="#ffffff"/>
<rect x="242.75" y="227.90" width="4.76" height="11.20" fill="#cd3545"/>
<rect x="242.75" y="238.60" width="4.76" height="4.40" fill="#bf636f"/>
<rect x="242.75" y="242.50" width="4.76" height="3.00" fill="#d9b9bf"/>
<rect x="246.91" y="51.00" width="4.76" height="47.60" fill="#a9a9a9"/>
<rect x="246.91" y="98.10" width="4.76" height="7.30" fill="#dadada"/>
<rect x="246.91" y="104.90" width="4.76" height="3.50" fill="#1774a2"/>
<rect x="246.91" y="107.90" width="4.76" height="16.90" fill="#0d2a6a"/>
<rect x="246.91" y="124.30" width="4.76" height="30.10" fill="#96c2a4"/>
<rect x="246.91" y="153.90" width="4.76" height="4.10" fill="#2e8b36"/>
<rect x="246.91" y="157.50" width="4.76" height="22.70" fill="#fde6cc"/>
<rect x="246.91" y="179.70" width="4.76" height="20.30" fill="#fd7f00"/>
<rect x="246.91" y="199.50" width="4.76" height="2.30" fill="#800080"/>
<rect x="246.91" y="201.30" width="4.76" height="21.20" fill="#cd3545"/>
<rect x="246.91" y="222.00" width="4.76" height="23.50" fill="#bf636f"/>
<rect x="251.08" y="51.00" width="4.76" height="38.40" fill="#a9a9a9"/>
<rect x="251.08" y="88.90" width="4.76" height="2.30" fill="#1774a2"/>
<rect x="251.08" y="90.70" width="4.76" height="72.00" fill="#c6e0ec"/>
<rect x="251.08" y="162.20" width="4.76" height="75.00" fill="#2e8b36"/>
<rect x="251.08" y="236.70" width="4.76" height="3.90" fill="#fde6cc"/>
<rect x="251.08" y="240.10" width="4.76" height="1.50" fill="#fd7f00"/>
<rect x="251.08" y="241.10" width="4.76" height="1.40" fill="#fdd0d0"/>
<rect x="251.08" y="242.00" width="4.76" height="3.50" fill="#cd3545"/>
<rect x="255.24" y="51.00" width="4.76" height="33.40" fill="#a9a9a9"/>
<rect x="255.24" y="83.90" width="4.76" height="10.10" fill="#dadada"/>
<rect x="255.24" y="93.50" width="4.76" height="7.00" fill="#88afc6"/>
<rect x="255.24" y="100.00" width="4.76" height="26.50" fill="#386c95"/>
<rect x="255.24" y="126.00" width="4.76" height="4.40" fill="#0d2a6a"/>
<rect x="255.24" y="129.90" width="4.76" height="3.20" fill="#c6e0ec"/>
<rect x="255.24" y="132.60" width="4.76" height="23.60" fill="#96c2a4"/>
<rect x="255.24" y="155.70" width="4.76" height="9.80" fill="#2e8b36"/>
<rect x="255.24" y="165.00" width="4.76" height="27.50" fill="#fde6cc"/>
<rect x="255.24" y="192.00" width="4.76" height="4.30" fill="#800080"/>
<rect x="255.24" y="195.80" width="4.76" height="4.20" fill="#ffffff"/>
<rect x="255.24" y="199.50" width="4.76" height="42.60" fill="#cd3545"/>
<rect x="255.24" y="241.60" width="4.76" height="3.90" fill="#bf636f"/>
<rect x="259.40" y="51.00" width="4.76" height="44.80" fill="#a9a9a9"/>
<rect x="259.40" y="95.30" width="4.76" height="19.00" fill="#dadada"/>
<rect x="259.40" y="113.80" width="4.76" height="2.70" fill="#6e6e6e"/>
<rect x="259.40" y="116.00" width="4.76" height="6.00" fill="#729db9"/>
<rect x="259.40" y="121.50" width="4.76" height="21.80" fill="#1e5585"/>
<rect x="259.40" y="142.80" width="4.76" height="4.20" fill="#0d2a6a"/>
<rect x="259.40" y="146.50" width="4.76" height="6.00" fill="#c6e0ec"/>
<rect x="259.40" y="152.00" width="4.76" height="35.00" fill="#96c2a4"/>
<rect x="259.40" y="186.50" width="4.76" height="4.20" fill="#1ab4e8"/>
<rect x="259.40" y="190.20" width="4.76" height="20.80" fill="#fde68a"/>
<rect x="259.40" y="210.50" width="4.76" height="3.30" fill="#fd7f00"/>
<rect x="259.40" y="213.30" width="4.76" height="3.30" fill="#800080"/>
<rect x="259.40" y="216.10" width="4.76" height="2.40" fill="#ffffff"/>
<rect x="259.40" y="218.00" width="4.76" height="14.30" fill="#cd3545"/>
<rect x="259.40" y="231.80" width="4.76" height="9.30" fill="#bf636f"/>
<rect x="259.40" y="240.60" width="4.76" height="4.90" fill="#d9b9bf"/>
<rect x="263.56" y="51.00" width="4.76" height="29.70" fill="#a9a9a9"/>
<rect x="263.56" y="80.20" width="4.76" height="12.90" fill="#6e6e6e"/>
<rect x="263.56" y="92.60" width="4.76" height="6.90" fill="#88afc6"/>
<rect x="263.56" y="99.00" width="4.76" height="49.80" fill="#1774a2"/>
<rect x="263.56" y="148.30" width="4.76" height="2.40" fill="#0d2a6a"/>
<rect x="263.56" y="150.20" width="4.76" height="3.20" fill="#c6e0ec"/>
<rect x="263.56" y="152.90" width="4.76" height="58.10" fill="#96c2a4"/>
<rect x="263.56" y="210.50" width="4.76" height="1.50" fill="#2e8b36"/>
<rect x="263.56" y="211.50" width="4.76" height="8.80" fill="#fde6cc"/>
<rect x="263.56" y="219.80" width="4.76" height="2.70" fill="#fd7f00"/>
<rect x="263.56" y="222.00" width="4.76" height="10.30" fill="#800080"/>
<rect x="263.56" y="231.80" width="4.76" height="3.40" fill="#ffffff"/>
<rect x="263.56" y="234.70" width="4.76" height="5.90" fill="#fdd0d0"/>
<rect x="263.56" y="240.10" width="4.76" height="5.40" fill="#cd3545"/>
<rect x="267.73" y="51.00" width="4.76" height="40.20" fill="#a9a9a9"/>
<rect x="267.73" y="90.70" width="4.76" height="4.20" fill="#dadada"/>
<rect x="267.73" y="94.40" width="4.76" height="7.10" fill="#88afc6"/>
<rect x="267.73" y="101.00" width="4.76" height="21.00" fill="#386c95"/>
<rect x="267.73" y="121.50" width="4.76" height="4.20" fill="#0d2a6a"/>
<rect x="267.73" y="125.20" width="4.76" height="5.20" fill="#c6e0ec"/>
<rect x="267.73" y="129.90" width="4.76" height="46.60" fill="#96c2a4"/>
<rect x="267.73" y="176.00" width="4.76" height="3.50" fill="#1ab4e8"/>
<rect x="267.73" y="179.00" width="4.76" height="4.50" fill="#fde6cc"/>
<rect x="267.73" y="183.00" width="4.76" height="7.70" fill="#fde68a"/>
<rect x="267.73" y="190.20" width="4.76" height="2.30" fill="#fd7f00"/>
<rect x="267.73" y="192.00" width="4.76" height="3.30" fill="#800080"/>
<rect x="267.73" y="194.80" width="4.76" height="5.20" fill="#ffffff"/>
<rect x="267.73" y="199.50" width="4.76" height="6.00" fill="#fdd0d0"/>
<rect x="267.73" y="205.00" width="4.76" height="17.10" fill="#cd3545"/>
<rect x="267.73" y="221.60" width="4.76" height="20.00" fill="#bf636f"/>
<rect x="267.73" y="241.10" width="4.76" height="4.40" fill="#d9b9bf"/>
<rect x="271.89" y="51.00" width="4.76" height="31.90" fill="#a9a9a9"/>
<rect x="271.89" y="82.40" width="4.76" height="2.90" fill="#dadada"/>
<rect x="271.89" y="84.80" width="4.76" height="11.00" fill="#6e6e6e"/>
<rect x="271.89" y="95.30" width="4.76" height="4.20" fill="#88afc6"/>
<rect x="271.89" y="99.00" width="4.76" height="4.20" fill="#1e5585"/>
<rect x="271.89" y="102.70" width="4.76" height="2.40" fill="#9bbdd4"/>
<rect x="271.89" y="104.60" width="4.76" height="11.90" fill="#0d2a6a"/>
<rect x="271.89" y="116.00" width="4.76" height="33.70" fill="#96c2a4"/>
<rect x="271.89" y="149.20" width="4.76" height="9.80" fill="#fde68a"/>
<rect x="271.89" y="158.50" width="4.76" height="4.20" fill="#fd7f00"/>
<rect x="271.89" y="162.20" width="4.76" height="3.30" fill="#800080"/>
<rect x="271.89" y="165.00" width="4.76" height="4.10" fill="#ffffff"/>
<rect x="271.89" y="168.60" width="4.76" height="5.10" fill="#f89a9a"/>
<rect x="271.89" y="173.20" width="4.76" height="48.30" fill="#cd3545"/>
<rect x="271.89" y="221.00" width="4.76" height="20.10" fill="#bf636f"/>
<rect x="271.89" y="240.60" width="4.76" height="4.90" fill="#d9b9bf"/>
<rect x="276.05" y="51.00" width="4.76" height="83.70" fill="#a9a9a9"/>
<rect x="276.05" y="134.20" width="4.76" height="4.30" fill="#dadada"/>
<rect x="276.05" y="138.00" width="4.76" height="1.80" fill="#6e6e6e"/>
<rect x="276.05" y="139.30" width="4.76" height="8.20" fill="#729db9"/>
<rect x="276.05" y="147.00" width="4.76" height="3.00" fill="#1774a2"/>
<rect x="276.05" y="149.50" width="4.76" height="11.80" fill="#1e5585"/>
<rect x="276.05" y="160.80" width="4.76" height="4.30" fill="#0d2a6a"/>
<rect x="276.05" y="164.60" width="4.76" height="25.40" fill="#96c2a4"/>
<rect x="276.05" y="189.50" width="4.76" height="3.00" fill="#1ab4e8"/>
<rect x="276.05" y="192.00" width="4.76" height="5.70" fill="#fbd01e"/>
<rect x="276.05" y="197.20" width="4.76" height="4.60" fill="#800080"/>
<rect x="276.05" y="201.30" width="4.76" height="2.40" fill="#ffffff"/>
<rect x="276.05" y="203.20" width="4.76" height="42.30" fill="#cd3545"/>
<rect x="280.21" y="51.00" width="4.76" height="24.10" fill="#a9a9a9"/>
<rect x="280.21" y="74.60" width="4.76" height="9.80" fill="#dadada"/>
<rect x="280.21" y="83.90" width="4.76" height="9.70" fill="#6e6e6e"/>
<rect x="280.21" y="93.10" width="4.76" height="3.60" fill="#1774a2"/>
<rect x="280.21" y="96.20" width="4.76" height="12.50" fill="#1e5585"/>
<rect x="280.21" y="108.20" width="4.76" height="5.20" fill="#0d2a6a"/>
<rect x="280.21" y="112.90" width="4.76" height="5.60" fill="#c6e0ec"/>
<rect x="280.21" y="118.00" width="4.76" height="45.50" fill="#96c2a4"/>
<rect x="280.21" y="163.00" width="4.76" height="5.20" fill="#fde6cc"/>
<rect x="280.21" y="167.70" width="4.76" height="4.20" fill="#fbd01e"/>
<rect x="280.21" y="171.40" width="4.76" height="7.90" fill="#800080"/>
<rect x="280.21" y="178.80" width="4.76" height="2.70" fill="#ffffff"/>
<rect x="280.21" y="181.00" width="4.76" height="33.70" fill="#cd3545"/>
<rect x="280.21" y="214.20" width="4.76" height="31.30" fill="#bf636f"/>
<rect x="284.38" y="51.00" width="4.76" height="43.70" fill="#a9a9a9"/>
<rect x="284.38" y="94.20" width="4.76" height="10.90" fill="#88afc6"/>
<rect x="284.38" y="104.60" width="4.76" height="11.90" fill="#1774a2"/>
<rect x="284.38" y="116.00" width="4.76" height="7.90" fill="#1e5585"/>
<rect x="284.38" y="123.40" width="4.76" height="8.80" fill="#88afc6"/>
<rect x="284.38" y="131.70" width="4.76" height="11.60" fill="#0d2a6a"/>
<rect x="284.38" y="142.80" width="4.76" height="3.20" fill="#c6e0ec"/>
<rect x="284.38" y="145.50" width="4.76" height="20.90" fill="#96c2a4"/>
<rect x="284.38" y="165.90" width="4.76" height="2.60" fill="#2e8b36"/>
<rect x="284.38" y="168.00" width="4.76" height="2.00" fill="#1ab4e8"/>
<rect x="284.38" y="169.50" width="4.76" height="12.00" fill="#fde6cc"/>
<rect x="284.38" y="181.00" width="4.76" height="9.70" fill="#fde68a"/>
<rect x="284.38" y="190.20" width="4.76" height="9.80" fill="#fd7f00"/>
<rect x="284.38" y="199.50" width="4.76" height="13.40" fill="#800080"/>
<rect x="284.38" y="212.40" width="4.76" height="3.10" fill="#ffffff"/>
<rect x="284.38" y="215.00" width="4.76" height="11.40" fill="#fdd0d0"/>
<rect x="284.38" y="225.90" width="4.76" height="16.20" fill="#cd3545"/>
<rect x="284.38" y="241.60" width="4.76" height="3.90" fill="#bf636f"/>
<rect x="288.54" y="51.00" width="4.76" height="15.30" fill="#a9a9a9"/>
<rect x="288.54" y="65.80" width="4.76" height="15.20" fill="#dadada"/>
<rect x="288.54" y="80.50" width="4.76" height="15.00" fill="#88afc6"/>
<rect x="288.54" y="95.00" width="4.76" height="51.00" fill="#1e5585"/>
<rect x="288.54" y="145.50" width="4.76" height="4.20" fill="#0d2a6a"/>
<rect x="288.54" y="149.20" width="4.76" height="2.30" fill="#c6e0ec"/>
<rect x="288.54" y="151.00" width="4.76" height="30.50" fill="#96c2a4"/>
<rect x="288.54" y="181.00" width="4.76" height="20.80" fill="#fde6cc"/>
<rect x="288.54" y="201.30" width="4.76" height="4.20" fill="#fd7f00"/>
<rect x="288.54" y="205.00" width="4.76" height="7.00" fill="#800080"/>
<rect x="288.54" y="211.50" width="4.76" height="4.20" fill="#ffffff"/>
<rect x="288.54" y="215.20" width="4.76" height="26.90" fill="#cd3545"/>
<rect x="288.54" y="241.60" width="4.76" height="3.90" fill="#bf636f"/>
<rect x="292.70" y="51.00" width="4.76" height="194.50" fill="#a9a9a9"/>
<rect x="296.87" y="51.00" width="4.76" height="55.50" fill="#a9a9a9"/>
<rect x="296.87" y="106.00" width="4.76" height="5.50" fill="#dadada"/>
<rect x="296.87" y="111.00" width="4.76" height="12.00" fill="#6e6e6e"/>
<rect x="296.87" y="122.50" width="4.76" height="9.70" fill="#88afc6"/>
<rect x="296.87" y="131.70" width="4.76" height="5.10" fill="#729db9"/>
<rect x="296.87" y="136.30" width="4.76" height="5.20" fill="#0d2a6a"/>
<rect x="296.87" y="141.00" width="4.76" height="3.20" fill="#c6e0ec"/>
<rect x="296.87" y="143.70" width="4.76" height="34.50" fill="#96c2a4"/>
<rect x="296.87" y="177.70" width="4.76" height="2.50" fill="#1ab4e8"/>
<rect x="296.87" y="179.70" width="4.76" height="8.30" fill="#fde68a"/>
<rect x="296.87" y="187.50" width="4.76" height="8.80" fill="#fdd0d0"/>
<rect x="296.87" y="195.80" width="4.76" height="7.90" fill="#cd3545"/>
<rect x="296.87" y="203.20" width="4.76" height="33.00" fill="#bf636f"/>
<rect x="296.87" y="235.70" width="4.76" height="9.80" fill="#d9b9bf"/>
<rect x="301.03" y="51.00" width="4.76" height="51.30" fill="#a9a9a9"/>
<rect x="301.03" y="101.80" width="4.76" height="14.70" fill="#88afc6"/>
<rect x="301.03" y="116.00" width="4.76" height="15.30" fill="#729db9"/>
<rect x="301.03" y="130.80" width="4.76" height="11.60" fill="#1e5585"/>
<rect x="301.03" y="141.90" width="4.76" height="4.10" fill="#fd7f00"/>
<rect x="301.03" y="145.50" width="4.76" height="10.70" fill="#800080"/>
<rect x="301.03" y="155.70" width="4.76" height="85.40" fill="#cd3545"/>
<rect x="301.03" y="240.60" width="4.76" height="4.90" fill="#bf636f"/>
<rect x="305.19" y="51.00" width="4.76" height="48.10" fill="#a9a9a9"/>
<rect x="305.19" y="98.60" width="4.76" height="2.40" fill="#dadada"/>
<rect x="305.19" y="100.50" width="4.76" height="5.00" fill="#88afc6"/>
<rect x="305.19" y="105.00" width="4.76" height="4.50" fill="#1774a2"/>
<rect x="305.19" y="109.00" width="4.76" height="38.90" fill="#1e5585"/>
<rect x="305.19" y="147.40" width="4.76" height="4.10" fill="#0d2a6a"/>
<rect x="305.19" y="151.00" width="4.76" height="2.50" fill="#c6e0ec"/>
<rect x="305.19" y="153.00" width="4.76" height="25.50" fill="#96c2a4"/>
<rect x="305.19" y="178.00" width="4.76" height="3.50" fill="#2e8b36"/>
<rect x="305.19" y="181.00" width="4.76" height="11.50" fill="#fde6cc"/>
<rect x="305.19" y="192.00" width="4.76" height="4.30" fill="#fbd01e"/>
<rect x="305.19" y="195.80" width="4.76" height="7.90" fill="#800080"/>
<rect x="305.19" y="203.20" width="4.76" height="3.30" fill="#ffffff"/>
<rect x="305.19" y="206.00" width="4.76" height="37.00" fill="#cd3545"/>
<rect x="305.19" y="242.50" width="4.76" height="3.00" fill="#bf636f"/>
<rect x="309.35" y="51.00" width="4.76" height="53.50" fill="#a9a9a9"/>
<rect x="309.35" y="104.00" width="4.76" height="10.80" fill="#dadada"/>
<rect x="309.35" y="114.30" width="4.76" height="2.20" fill="#729db9"/>
<rect x="309.35" y="116.00" width="4.76" height="21.70" fill="#1e5585"/>
<rect x="309.35" y="137.20" width="4.76" height="5.20" fill="#0d2a6a"/>
<rect x="309.35" y="141.90" width="4.76" height="6.60" fill="#c6e0ec"/>
<rect x="309.35" y="148.00" width="4.76" height="30.50" fill="#96c2a4"/>
<rect x="309.35" y="178.00" width="4.76" height="3.50" fill="#2e8b36"/>
<rect x="309.35" y="181.00" width="4.76" height="11.50" fill="#fde6cc"/>
<rect x="309.35" y="192.00" width="4.76" height="8.00" fill="#fbd01e"/>
<rect x="309.35" y="199.50" width="4.76" height="4.20" fill="#fd7f00"/>
<rect x="309.35" y="203.20" width="4.76" height="7.80" fill="#f44a3a"/>
<rect x="309.35" y="210.50" width="4.76" height="5.20" fill="#800080"/>
<rect x="309.35" y="215.20" width="4.76" height="3.30" fill="#ffffff"/>
<rect x="309.35" y="218.00" width="4.76" height="22.10" fill="#cd3545"/>
<rect x="309.35" y="239.60" width="4.76" height="5.90" fill="#bf636f"/>
<rect x="313.52" y="51.00" width="4.76" height="65.50" fill="#a9a9a9"/>
<rect x="313.52" y="116.00" width="4.76" height="4.20" fill="#dadada"/>
<rect x="313.52" y="119.70" width="4.76" height="10.70" fill="#88afc6"/>
<rect x="313.52" y="129.90" width="4.76" height="30.90" fill="#1774a2"/>
<rect x="313.52" y="160.30" width="4.76" height="9.70" fill="#1e5585"/>
<rect x="313.52" y="169.50" width="4.76" height="3.30" fill="#0d2a6a"/>
<rect x="313.52" y="172.30" width="4.76" height="2.20" fill="#c6e0ec"/>
<rect x="313.52" y="174.00" width="4.76" height="15.80" fill="#96c2a4"/>
<rect x="313.52" y="189.30" width="4.76" height="2.40" fill="#1ab4e8"/>
<rect x="313.52" y="191.20" width="4.76" height="8.80" fill="#fde6cc"/>
<rect x="313.52" y="199.50" width="4.76" height="2.30" fill="#2e8b36"/>
<rect x="313.52" y="201.30" width="4.76" height="7.90" fill="#fde68a"/>
<rect x="313.52" y="208.70" width="4.76" height="5.10" fill="#fd7f00"/>
<rect x="313.52" y="213.30" width="4.76" height="12.10" fill="#800080"/>
<rect x="313.52" y="224.90" width="4.76" height="8.40" fill="#c9a0dc"/>
<rect x="313.52" y="232.80" width="4.76" height="5.40" fill="#ffffff"/>
<rect x="313.52" y="237.70" width="4.76" height="7.80" fill="#cd3545"/>
<rect x="317.68" y="51.00" width="4.76" height="59.20" fill="#a9a9a9"/>
<rect x="317.68" y="109.70" width="4.76" height="1.30" fill="#dadada"/>
<rect x="317.68" y="110.50" width="4.76" height="37.40" fill="#1774a2"/>
<rect x="317.68" y="147.40" width="4.76" height="6.00" fill="#c6e0ec"/>
<rect x="317.68" y="152.90" width="4.76" height="5.10" fill="#0d2a6a"/>
<rect x="317.68" y="157.50" width="4.76" height="2.40" fill="#c6e0ec"/>
<rect x="317.68" y="159.40" width="4.76" height="33.10" fill="#96c2a4"/>
<rect x="317.68" y="192.00" width="4.76" height="13.50" fill="#fde68a"/>
<rect x="317.68" y="205.00" width="4.76" height="6.00" fill="#fd7f00"/>
<rect x="317.68" y="210.50" width="4.76" height="9.80" fill="#800080"/>
<rect x="317.68" y="219.80" width="4.76" height="8.60" fill="#ffffff"/>
<rect x="317.68" y="227.90" width="4.76" height="14.20" fill="#cd3545"/>
<rect x="317.68" y="241.60" width="4.76" height="3.90" fill="#bf636f"/>
<rect x="321.84" y="51.00" width="4.76" height="40.40" fill="#a9a9a9"/>
<rect x="321.84" y="90.90" width="4.76" height="57.90" fill="#1774a2"/>
<rect x="321.84" y="148.30" width="4.76" height="7.00" fill="#0d2a6a"/>
<rect x="321.84" y="154.80" width="4.76" height="4.20" fill="#c6e0ec"/>
<rect x="321.84" y="158.50" width="4.76" height="43.30" fill="#96c2a4"/>
<rect x="321.84" y="201.30" width="4.76" height="6.10" fill="#fde68a"/>
<rect x="321.84" y="206.90" width="4.76" height="4.10" fill="#f44a3a"/>
<rect x="321.84" y="210.50" width="4.76" height="7.90" fill="#800080"/>
<rect x="321.84" y="217.90" width="4.76" height="4.60" fill="#ffffff"/>
<rect x="321.84" y="222.00" width="4.76" height="7.30" fill="#fdd0d0"/>
<rect x="321.84" y="228.80" width="4.76" height="13.30" fill="#cd3545"/>
<rect x="321.84" y="241.60" width="4.76" height="3.90" fill="#bf636f"/>
<rect x="326.00" y="51.00" width="4.76" height="62.40" fill="#a9a9a9"/>
<rect x="326.00" y="112.90" width="4.76" height="3.60" fill="#dadada"/>
<rect x="326.00" y="116.00" width="4.76" height="5.10" fill="#6e6e6e"/>
<rect x="326.00" y="120.60" width="4.76" height="6.90" fill="#88afc6"/>
<rect x="326.00" y="127.00" width="4.76" height="30.10" fill="#1774a2"/>
<rect x="326.00" y="156.60" width="4.76" height="6.10" fill="#1e5585"/>
<rect x="326.00" y="162.20" width="4.76" height="7.80" fill="#0d2a6a"/>
<rect x="326.00" y="169.50" width="4.76" height="3.30" fill="#c6e0ec"/>
<rect x="326.00" y="172.30" width="4.76" height="42.40" fill="#96c2a4"/>
<rect x="326.00" y="214.20" width="4.76" height="14.20" fill="#fde68a"/>
<rect x="326.00" y="227.90" width="4.76" height="2.40" fill="#800080"/>
<rect x="326.00" y="229.80" width="4.76" height="4.40" fill="#c9a0dc"/>
<rect x="326.00" y="233.70" width="4.76" height="5.40" fill="#ffffff"/>
<rect x="326.00" y="238.60" width="4.76" height="6.90" fill="#cd3545"/>
<rect x="330.17" y="51.00" width="4.76" height="29.70" fill="#a9a9a9"/>
<rect x="330.17" y="80.20" width="4.76" height="5.10" fill="#dadada"/>
<rect x="330.17" y="84.80" width="4.76" height="8.40" fill="#88afc6"/>
<rect x="330.17" y="92.70" width="4.76" height="16.40" fill="#1e5585"/>
<rect x="330.17" y="108.60" width="4.76" height="6.20" fill="#0d2a6a"/>
<rect x="330.17" y="114.30" width="4.76" height="5.10" fill="#c6e0ec"/>
<rect x="330.17" y="118.90" width="4.76" height="36.40" fill="#96c2a4"/>
<rect x="330.17" y="154.80" width="4.76" height="1.40" fill="#2e8b36"/>
<rect x="330.17" y="155.70" width="4.76" height="23.60" fill="#fde6cc"/>
<rect x="330.17" y="178.80" width="4.76" height="6.40" fill="#fbd01e"/>
<rect x="330.17" y="184.70" width="4.76" height="6.00" fill="#fd7f00"/>
<rect x="330.17" y="190.20" width="4.76" height="4.20" fill="#f44a3a"/>
<rect x="330.17" y="193.90" width="4.76" height="13.50" fill="#800080"/>
<rect x="330.17" y="206.90" width="4.76" height="8.80" fill="#ffffff"/>
<rect x="330.17" y="215.20" width="4.76" height="22.00" fill="#cd3545"/>
<rect x="330.17" y="236.70" width="4.76" height="8.80" fill="#bf636f"/>
<rect x="334.33" y="51.00" width="4.76" height="91.40" fill="#a9a9a9"/>
<rect x="334.33" y="141.90" width="4.76" height="6.90" fill="#dadada"/>
<rect x="334.33" y="148.30" width="4.76" height="14.40" fill="#1774a2"/>
<rect x="334.33" y="162.20" width="4.76" height="4.20" fill="#c6e0ec"/>
<rect x="334.33" y="165.90" width="4.76" height="43.30" fill="#96c2a4"/>
<rect x="334.33" y="208.70" width="4.76" height="27.50" fill="#2e8b36"/>
<rect x="334.33" y="235.70" width="4.76" height="2.90" fill="#fde6cc"/>
<rect x="334.33" y="238.10" width="4.76" height="7.40" fill="#800080"/>
<rect x="338.49" y="51.00" width="4.76" height="37.70" fill="#a9a9a9"/>
<rect x="338.49" y="88.20" width="4.76" height="2.80" fill="#dadada"/>
<rect x="338.49" y="90.50" width="4.76" height="3.90" fill="#6e6e6e"/>
<rect x="338.49" y="93.90" width="4.76" height="10.60" fill="#88afc6"/>
<rect x="338.49" y="104.00" width="4.76" height="16.20" fill="#1774a2"/>
<rect x="338.49" y="119.70" width="4.76" height="15.30" fill="#1e5585"/>
<rect x="338.49" y="134.50" width="4.76" height="11.50" fill="#0d2a6a"/>
<rect x="338.49" y="145.50" width="4.76" height="6.00" fill="#c6e0ec"/>
<rect x="338.49" y="151.00" width="4.76" height="51.70" fill="#96c2a4"/>
<rect x="338.49" y="202.20" width="4.76" height="5.20" fill="#2e8b36"/>
<rect x="338.49" y="206.90" width="4.76" height="10.60" fill="#fde68a"/>
<rect x="338.49" y="217.00" width="4.76" height="7.00" fill="#fd7f00"/>
<rect x="338.49" y="223.50" width="4.76" height="5.80" fill="#800080"/>
<rect x="338.49" y="228.80" width="4.76" height="11.30" fill="#ffffff"/>
<rect x="338.49" y="239.60" width="4.76" height="5.90" fill="#cd3545"/>
<rect x="342.66" y="51.00" width="4.76" height="44.50" fill="#a9a9a9"/>
<rect x="342.66" y="95.00" width="4.76" height="2.80" fill="#88afc6"/>
<rect x="342.66" y="97.30" width="4.76" height="19.20" fill="#1774a2"/>
<rect x="342.66" y="116.00" width="4.76" height="7.90" fill="#c6e0ec"/>
<rect x="342.66" y="123.40" width="4.76" height="28.10" fill="#96c2a4"/>
<rect x="342.66" y="151.00" width="4.76" height="39.50" fill="#257a52"/>
<rect x="342.66" y="190.00" width="4.76" height="24.50" fill="#fde68a"/>
<rect x="342.66" y="214.00" width="4.76" height="6.30" fill="#fd7f00"/>
<rect x="342.66" y="219.80" width="4.76" height="2.70" fill="#800080"/>
<rect x="342.66" y="222.00" width="4.76" height="6.40" fill="#ffffff"/>
<rect x="342.66" y="227.90" width="4.76" height="17.60" fill="#cd3545"/>
<rect x="346.82" y="51.00" width="4.76" height="70.00" fill="#a9a9a9"/>
<rect x="346.82" y="120.50" width="4.76" height="6.00" fill="#88afc6"/>
<rect x="346.82" y="126.00" width="4.76" height="7.00" fill="#1e5585"/>
<rect x="346.82" y="132.50" width="4.76" height="7.00" fill="#0d2a6a"/>
<rect x="346.82" y="139.00" width="4.76" height="6.90" fill="#c6e0ec"/>
<rect x="346.82" y="145.40" width="4.76" height="25.40" fill="#96c2a4"/>
<rect x="346.82" y="170.30" width="4.76" height="6.10" fill="#2e8b36"/>
<rect x="346.82" y="175.90" width="4.76" height="18.00" fill="#fde6cc"/>
<rect x="346.82" y="193.40" width="4.76" height="4.10" fill="#fbd01e"/>
<rect x="346.82" y="197.00" width="4.76" height="7.40" fill="#800080"/>
<rect x="346.82" y="203.90" width="4.76" height="4.90" fill="#ffffff"/>
<rect x="346.82" y="208.30" width="4.76" height="32.80" fill="#cd3545"/>
<rect x="346.82" y="240.60" width="4.76" height="4.90" fill="#bf636f"/>
<rect x="350.98" y="51.00" width="4.76" height="49.70" fill="#a9a9a9"/>
<rect x="350.98" y="100.20" width="4.76" height="6.00" fill="#88afc6"/>
<rect x="350.98" y="105.70" width="4.76" height="54.00" fill="#1774a2"/>
<rect x="350.98" y="159.20" width="4.76" height="7.90" fill="#1e5585"/>
<rect x="350.98" y="166.60" width="4.76" height="4.20" fill="#c6e0ec"/>
<rect x="350.98" y="170.30" width="4.76" height="4.20" fill="#0d2a6a"/>
<rect x="350.98" y="174.00" width="4.76" height="4.20" fill="#c6e0ec"/>
<rect x="350.98" y="177.70" width="4.76" height="35.50" fill="#96c2a4"/>
<rect x="350.98" y="212.70" width="4.76" height="2.70" fill="#1ab4e8"/>
<rect x="350.98" y="214.90" width="4.76" height="2.80" fill="#fd7f00"/>
<rect x="350.98" y="217.20" width="4.76" height="4.90" fill="#800080"/>
<rect x="350.98" y="221.60" width="4.76" height="6.80" fill="#c9a0dc"/>
<rect x="350.98" y="227.90" width="4.76" height="5.40" fill="#ffffff"/>
<rect x="350.98" y="232.80" width="4.76" height="3.40" fill="#fdd0d0"/>
<rect x="350.98" y="235.70" width="4.76" height="9.80" fill="#cd3545"/>
<rect x="355.14" y="51.00" width="4.76" height="94.00" fill="#a9a9a9"/>
<rect x="355.14" y="144.50" width="4.76" height="3.20" fill="#dadada"/>
<rect x="355.14" y="147.20" width="4.76" height="16.20" fill="#88afc6"/>
<rect x="355.14" y="162.90" width="4.76" height="30.10" fill="#1e5585"/>
<rect x="355.14" y="192.50" width="4.76" height="11.90" fill="#96c2a4"/>
<rect x="355.14" y="203.90" width="4.76" height="4.90" fill="#fde6cc"/>
<rect x="355.14" y="208.30" width="4.76" height="22.00" fill="#fbd01e"/>
<rect x="355.14" y="229.80" width="4.76" height="3.50" fill="#800080"/>
<rect x="355.14" y="232.80" width="4.76" height="2.40" fill="#fdd0d0"/>
<rect x="355.14" y="234.70" width="4.76" height="10.80" fill="#cd3545"/>
<rect x="359.31" y="51.00" width="4.76" height="26.90" fill="#a9a9a9"/>
<rect x="359.31" y="77.40" width="4.76" height="24.10" fill="#dadada"/>
<rect x="359.31" y="101.00" width="4.76" height="1.50" fill="#6e6e6e"/>
<rect x="359.31" y="102.00" width="4.76" height="10.70" fill="#729db9"/>
<rect x="359.31" y="112.20" width="4.76" height="17.10" fill="#1e5585"/>
<rect x="359.31" y="128.80" width="4.76" height="6.90" fill="#0d2a6a"/>
<rect x="359.31" y="135.20" width="4.76" height="37.50" fill="#96c2a4"/>
<rect x="359.31" y="172.20" width="4.76" height="4.20" fill="#2e8b36"/>
<rect x="359.31" y="175.90" width="4.76" height="17.10" fill="#fde6cc"/>
<rect x="359.31" y="192.50" width="4.76" height="3.00" fill="#fde68a"/>
<rect x="359.31" y="195.00" width="4.76" height="4.90" fill="#800080"/>
<rect x="359.31" y="199.40" width="4.76" height="5.70" fill="#ffffff"/>
<rect x="359.31" y="204.60" width="4.76" height="20.80" fill="#cd3545"/>
<rect x="359.31" y="224.90" width="4.76" height="18.60" fill="#bf636f"/>
<rect x="359.31" y="243.00" width="4.76" height="2.50" fill="#d9b9bf"/>
<rect x="363.47" y="51.00" width="4.76" height="43.00" fill="#a9a9a9"/>
<rect x="363.47" y="93.50" width="4.76" height="4.40" fill="#dadada"/>
<rect x="363.47" y="97.40" width="4.76" height="4.10" fill="#1e5585"/>
<rect x="363.47" y="101.00" width="4.76" height="6.10" fill="#0d2a6a"/>
<rect x="363.47" y="106.60" width="4.76" height="2.40" fill="#c6e0ec"/>
<rect x="363.47" y="108.50" width="4.76" height="19.90" fill="#96c2a4"/>
<rect x="363.47" y="127.90" width="4.76" height="1.40" fill="#2e8b36"/>
<rect x="363.47" y="128.80" width="4.76" height="80.00" fill="#c4e2b4"/>
<rect x="363.47" y="208.30" width="4.76" height="2.70" fill="#1ab4e8"/>
<rect x="363.47" y="210.50" width="4.76" height="5.70" fill="#fde68a"/>
<rect x="363.47" y="215.70" width="4.76" height="2.70" fill="#fd7f00"/>
<rect x="363.47" y="217.90" width="4.76" height="8.50" fill="#f44a3a"/>
<rect x="363.47" y="225.90" width="4.76" height="2.50" fill="#800080"/>
<rect x="363.47" y="227.90" width="4.76" height="4.40" fill="#ffffff"/>
<rect x="363.47" y="231.80" width="4.76" height="8.30" fill="#cd3545"/>
<rect x="363.47" y="239.60" width="4.76" height="5.90" fill="#bf636f"/>
<rect x="367.63" y="51.00" width="4.76" height="55.00" fill="#a9a9a9"/>
<rect x="367.63" y="105.50" width="4.76" height="4.20" fill="#dadada"/>
<rect x="367.63" y="109.20" width="4.76" height="9.00" fill="#729db9"/>
<rect x="367.63" y="117.70" width="4.76" height="15.30" fill="#1e5585"/>
<rect x="367.63" y="132.50" width="4.76" height="7.00" fill="#0d2a6a"/>
<rect x="367.63" y="139.00" width="4.76" height="6.90" fill="#c6e0ec"/>
<rect x="367.63" y="145.40" width="4.76" height="29.10" fill="#96c2a4"/>
<rect x="367.63" y="174.00" width="4.76" height="7.90" fill="#2e8b36"/>
<rect x="367.63" y="181.40" width="4.76" height="6.00" fill="#1ab4e8"/>
<rect x="367.63" y="186.90" width="4.76" height="6.10" fill="#fde6cc"/>
<rect x="367.63" y="192.50" width="4.76" height="4.00" fill="#fde68a"/>
<rect x="367.63" y="196.00" width="4.76" height="8.40" fill="#fbd01e"/>
<rect x="367.63" y="203.90" width="4.76" height="12.30" fill="#f44a3a"/>
<rect x="367.63" y="215.70" width="4.76" height="2.70" fill="#800080"/>
<rect x="367.63" y="217.90" width="4.76" height="7.50" fill="#fdd0d0"/>
<rect x="367.63" y="224.90" width="4.76" height="14.20" fill="#cd3545"/>
<rect x="367.63" y="238.60" width="4.76" height="6.90" fill="#bf636f"/>
<rect x="371.80" y="51.00" width="4.76" height="135.50" fill="#a9a9a9"/>
<rect x="371.80" y="186.00" width="4.76" height="3.00" fill="#dadada"/>
<rect x="371.80" y="188.50" width="4.76" height="12.90" fill="#1774a2"/>
<rect x="371.80" y="200.90" width="4.76" height="3.50" fill="#0d2a6a"/>
<rect x="371.80" y="203.90" width="4.76" height="16.70" fill="#96c2a4"/>
<rect x="371.80" y="220.10" width="4.76" height="8.30" fill="#257a52"/>
<rect x="371.80" y="227.90" width="4.76" height="1.90" fill="#1ab4e8"/>
<rect x="371.80" y="229.30" width="4.76" height="3.00" fill="#fbd01e"/>
<rect x="371.80" y="231.80" width="4.76" height="2.40" fill="#800080"/>
<rect x="371.80" y="233.70" width="4.76" height="3.50" fill="#ffffff"/>
<rect x="371.80" y="236.70" width="4.76" height="8.80" fill="#cd3545"/>
<rect x="375.96" y="51.00" width="4.76" height="53.40" fill="#a9a9a9"/>
<rect x="375.96" y="103.90" width="4.76" height="14.30" fill="#88afc6"/>
<rect x="375.96" y="117.70" width="4.76" height="7.00" fill="#386c95"/>
<rect x="375.96" y="124.20" width="4.76" height="40.20" fill="#96c2a4"/>
<rect x="375.96" y="163.90" width="4.76" height="6.90" fill="#fd7f00"/>
<rect x="375.96" y="170.30" width="4.76" height="29.60" fill="#ffffff"/>
<rect x="375.96" y="199.40" width="4.76" height="13.80" fill="#fdd0d0"/>
<rect x="375.96" y="212.70" width="4.76" height="32.80" fill="#cd3545"/>
<rect x="380.12" y="51.00" width="4.76" height="29.70" fill="#a9a9a9"/>
<rect x="380.12" y="80.20" width="4.76" height="11.00" fill="#dadada"/>
<rect x="380.12" y="90.70" width="4.76" height="10.80" fill="#729db9"/>
<rect x="380.12" y="101.00" width="4.76" height="8.00" fill="#1774a2"/>
<rect x="380.12" y="108.50" width="4.76" height="33.70" fill="#1e5585"/>
<rect x="380.12" y="141.70" width="4.76" height="6.00" fill="#0d2a6a"/>
<rect x="380.12" y="147.20" width="4.76" height="5.10" fill="#c6e0ec"/>
<rect x="380.12" y="151.80" width="4.76" height="31.00" fill="#96c2a4"/>
<rect x="380.12" y="182.30" width="4.76" height="7.00" fill="#fde6cc"/>
<rect x="380.12" y="188.80" width="4.76" height="7.70" fill="#800080"/>
<rect x="380.12" y="196.00" width="4.76" height="7.60" fill="#1ab4e8"/>
<rect x="380.12" y="203.10" width="4.76" height="4.20" fill="#fde6cc"/>
<rect x="380.12" y="206.80" width="4.76" height="5.70" fill="#fbd01e"/>
<rect x="380.12" y="212.00" width="4.76" height="2.70" fill="#fd7f00"/>
<rect x="380.12" y="214.20" width="4.76" height="11.20" fill="#800080"/>
<rect x="380.12" y="224.90" width="4.76" height="7.40" fill="#ffffff"/>
<rect x="380.12" y="231.80" width="4.76" height="10.30" fill="#cd3545"/>
<rect x="380.12" y="241.60" width="4.76" height="3.90" fill="#bf636f"/>
<rect x="384.28" y="51.00" width="4.76" height="31.50" fill="#a9a9a9"/>
<rect x="384.28" y="82.00" width="4.76" height="10.10" fill="#dadada"/>
<rect x="384.28" y="91.60" width="4.76" height="17.40" fill="#6e6e6e"/>
<rect x="384.28" y="108.50" width="4.76" height="6.00" fill="#729db9"/>
<rect x="384.28" y="114.00" width="4.76" height="19.00" fill="#1e5585"/>
<rect x="384.28" y="132.50" width="4.76" height="6.00" fill="#0d2a6a"/>
<rect x="384.28" y="138.00" width="4.76" height="57.50" fill="#96c2a4"/>
<rect x="384.28" y="195.00" width="4.76" height="4.90" fill="#800080"/>
<rect x="384.28" y="199.40" width="4.76" height="5.00" fill="#ffffff"/>
<rect x="384.28" y="203.90" width="4.76" height="15.20" fill="#cd3545"/>
<rect x="384.28" y="218.60" width="4.76" height="25.40" fill="#bf636f"/>
<rect x="384.28" y="243.50" width="4.76" height="2.00" fill="#d9b9bf"/>
<rect x="388.45" y="51.00" width="4.76" height="83.80" fill="#a9a9a9"/>
<rect x="388.45" y="134.30" width="4.76" height="7.00" fill="#88afc6"/>
<rect x="388.45" y="140.80" width="4.76" height="10.70" fill="#1e5585"/>
<rect x="388.45" y="151.00" width="4.76" height="6.90" fill="#c6e0ec"/>
<rect x="388.45" y="157.40" width="4.76" height="6.10" fill="#0d2a6a"/>
<rect x="388.45" y="163.00" width="4.76" height="46.50" fill="#96c2a4"/>
<rect x="388.45" y="209.00" width="4.76" height="3.50" fill="#2e8b36"/>
<rect x="388.45" y="212.00" width="4.76" height="7.10" fill="#fbd01e"/>
<rect x="388.45" y="218.60" width="4.76" height="3.50" fill="#fd7f00"/>
<rect x="388.45" y="221.60" width="4.76" height="6.80" fill="#800080"/>
<rect x="388.45" y="227.90" width="4.76" height="8.30" fill="#ffffff"/>
<rect x="388.45" y="235.70" width="4.76" height="2.90" fill="#cd3545"/>
<rect x="388.45" y="238.10" width="4.76" height="7.40" fill="#bf636f"/>
<rect x="392.61" y="51.00" width="4.76" height="56.10" fill="#a9a9a9"/>
<rect x="392.61" y="106.60" width="4.76" height="3.30" fill="#dadada"/>
<rect x="392.61" y="109.40" width="4.76" height="16.10" fill="#88afc6"/>
<rect x="392.61" y="125.00" width="4.76" height="15.40" fill="#1e5585"/>
<rect x="392.61" y="139.90" width="4.76" height="10.60" fill="#1774a2"/>
<rect x="392.61" y="150.00" width="4.76" height="13.50" fill="#c6e0ec"/>
<rect x="392.61" y="163.00" width="4.76" height="23.50" fill="#96c2a4"/>
<rect x="392.61" y="186.00" width="4.76" height="4.20" fill="#2e8b36"/>
<rect x="392.61" y="189.70" width="4.76" height="7.80" fill="#fde6cc"/>
<rect x="392.61" y="197.00" width="4.76" height="10.30" fill="#fde68a"/>
<rect x="392.61" y="206.80" width="4.76" height="6.40" fill="#fd7f00"/>
<rect x="392.61" y="212.70" width="4.76" height="7.20" fill="#f44a3a"/>
<rect x="392.61" y="219.40" width="4.76" height="3.10" fill="#800080"/>
<rect x="392.61" y="222.00" width="4.76" height="6.40" fill="#ffffff"/>
<rect x="392.61" y="227.90" width="4.76" height="14.20" fill="#cd3545"/>
<rect x="392.61" y="241.60" width="4.76" height="3.90" fill="#bf636f"/>
<rect x="396.77" y="51.00" width="4.76" height="64.40" fill="#a9a9a9"/>
<rect x="396.77" y="114.90" width="4.76" height="4.20" fill="#dadada"/>
<rect x="396.77" y="118.60" width="4.76" height="8.80" fill="#729db9"/>
<rect x="396.77" y="126.90" width="4.76" height="8.80" fill="#0d2a6a"/>
<rect x="396.77" y="135.20" width="4.76" height="6.10" fill="#c6e0ec"/>
<rect x="396.77" y="140.80" width="4.76" height="46.70" fill="#96c2a4"/>
<rect x="396.77" y="187.00" width="4.76" height="3.20" fill="#2e8b36"/>
<rect x="396.77" y="189.70" width="4.76" height="8.80" fill="#fde6cc"/>
<rect x="396.77" y="198.00" width="4.76" height="15.20" fill="#fbd01e"/>
<rect x="396.77" y="212.70" width="4.76" height="9.80" fill="#fd7f00"/>
<rect x="396.77" y="222.00" width="4.76" height="7.30" fill="#f44a3a"/>
<rect x="396.77" y="228.80" width="4.76" height="2.00" fill="#800080"/>
<rect x="396.77" y="230.30" width="4.76" height="5.90" fill="#ffffff"/>
<rect x="396.77" y="235.70" width="4.76" height="7.30" fill="#cd3545"/>
<rect x="396.77" y="242.50" width="4.76" height="3.00" fill="#bf636f"/>
<rect x="400.93" y="51.00" width="4.76" height="72.70" fill="#a9a9a9"/>
<rect x="400.93" y="123.20" width="4.76" height="5.20" fill="#dadada"/>
<rect x="400.93" y="127.90" width="4.76" height="5.10" fill="#729db9"/>
<rect x="400.93" y="132.50" width="4.76" height="6.00" fill="#1e5585"/>
<rect x="400.93" y="138.00" width="4.76" height="7.90" fill="#0d2a6a"/>
<rect x="400.93" y="145.40" width="4.76" height="12.50" fill="#c6e0ec"/>
<rect x="400.93" y="157.40" width="4.76" height="34.70" fill="#96c2a4"/>
<rect x="400.93" y="191.60" width="4.76" height="5.90" fill="#2e8b36"/>
<rect x="400.93" y="197.00" width="4.76" height="3.40" fill="#1ab4e8"/>
<rect x="400.93" y="199.90" width="4.76" height="2.60" fill="#fbd01e"/>
<rect x="400.93" y="202.00" width="4.76" height="2.40" fill="#fd7f00"/>
<rect x="400.93" y="203.90" width="4.76" height="12.30" fill="#f44a3a"/>
<rect x="400.93" y="215.70" width="4.76" height="3.40" fill="#800080"/>
<rect x="400.93" y="218.60" width="4.76" height="3.90" fill="#fdd0d0"/>
<rect x="400.93" y="222.00" width="4.76" height="6.40" fill="#ffffff"/>
<rect x="400.93" y="227.90" width="4.76" height="4.40" fill="#fdd0d0"/>
<rect x="400.93" y="231.80" width="4.76" height="10.30" fill="#cd3545"/>
<rect x="400.93" y="241.60" width="4.76" height="3.90" fill="#bf636f"/>
<rect x="405.10" y="51.00" width="4.76" height="70.90" fill="#a9a9a9"/>
<rect x="405.10" y="121.40" width="4.76" height="24.50" fill="#6e6e6e"/>
<rect x="405.10" y="145.40" width="4.76" height="17.10" fill="#588aad"/>
<rect x="405.10" y="162.00" width="4.76" height="8.80" fill="#0d2a6a"/>
<rect x="405.10" y="170.30" width="4.76" height="6.10" fill="#c6e0ec"/>
<rect x="405.10" y="175.90" width="4.76" height="32.90" fill="#96c2a4"/>
<rect x="405.10" y="208.30" width="4.76" height="2.00" fill="#1ab4e8"/>
<rect x="405.10" y="209.80" width="4.76" height="8.60" fill="#fbd01e"/>
<rect x="405.10" y="217.90" width="4.76" height="2.00" fill="#fd7f00"/>
<rect x="405.10" y="219.40" width="4.76" height="7.00" fill="#800080"/>
<rect x="405.10" y="225.90" width="4.76" height="8.30" fill="#ffffff"/>
<rect x="405.10" y="233.70" width="4.76" height="6.40" fill="#cd3545"/>
<rect x="405.10" y="239.60" width="4.76" height="5.90" fill="#bf636f"/>
<rect x="409.26" y="51.00" width="4.76" height="52.40" fill="#a9a9a9"/>
<rect x="409.26" y="102.90" width="4.76" height="6.10" fill="#dadada"/>
<rect x="409.26" y="108.50" width="4.76" height="13.40" fill="#729db9"/>
<rect x="409.26" y="121.40" width="4.76" height="22.70" fill="#1e5585"/>
<rect x="409.26" y="143.60" width="4.76" height="7.90" fill="#0d2a6a"/>
<rect x="409.26" y="151.00" width="4.76" height="8.50" fill="#c6e0ec"/>
<rect x="409.26" y="159.00" width="4.76" height="21.00" fill="#96c2a4"/>
<rect x="409.26" y="179.50" width="4.76" height="6.00" fill="#2e8b36"/>
<rect x="409.26" y="185.00" width="4.76" height="9.80" fill="#fde6cc"/>
<rect x="409.26" y="194.30" width="4.76" height="7.20" fill="#fde68a"/>
<rect x="409.26" y="201.00" width="4.76" height="9.30" fill="#fd7f00"/>
<rect x="409.26" y="209.80" width="4.76" height="2.70" fill="#800080"/>
<rect x="409.26" y="212.00" width="4.76" height="5.70" fill="#fdd0d0"/>
<rect x="409.26" y="217.20" width="4.76" height="20.00" fill="#cd3545"/>
<rect x="409.26" y="236.70" width="4.76" height="8.80" fill="#bf636f"/>
<rect x="413.42" y="51.00" width="4.76" height="32.30" fill="#a9a9a9"/>
<rect x="413.42" y="82.80" width="4.76" height="2.90" fill="#dadada"/>
<rect x="413.42" y="85.20" width="4.76" height="5.10" fill="#88afc6"/>
<rect x="413.42" y="89.80" width="4.76" height="14.30" fill="#1774a2"/>
<rect x="413.42" y="103.60" width="4.76" height="16.30" fill="#1e5585"/>
<rect x="413.42" y="119.40" width="4.76" height="7.00" fill="#0d2a6a"/>
<rect x="413.42" y="125.90" width="4.76" height="3.20" fill="#c6e0ec"/>
<rect x="413.42" y="128.60" width="4.76" height="37.40" fill="#96c2a4"/>
<rect x="413.42" y="165.50" width="4.76" height="3.30" fill="#2e8b36"/>
<rect x="413.42" y="168.30" width="4.76" height="8.80" fill="#fde6cc"/>
<rect x="413.42" y="176.60" width="4.76" height="7.90" fill="#f0a800"/>
<rect x="413.42" y="184.00" width="4.76" height="2.40" fill="#f44a3a"/>
<rect x="413.42" y="185.90" width="4.76" height="11.50" fill="#800080"/>
<rect x="413.42" y="196.90" width="4.76" height="9.60" fill="#ffffff"/>
<rect x="413.42" y="206.00" width="4.76" height="36.50" fill="#cd3545"/>
<rect x="413.42" y="242.00" width="4.76" height="3.50" fill="#bf636f"/>
<rect x="417.59" y="51.00" width="4.76" height="71.70" fill="#a9a9a9"/>
<rect x="417.59" y="122.20" width="4.76" height="25.40" fill="#88afc6"/>
<rect x="417.59" y="147.10" width="4.76" height="8.80" fill="#1774a2"/>
<rect x="417.59" y="155.40" width="4.76" height="21.70" fill="#1e5585"/>
<rect x="417.59" y="176.60" width="4.76" height="9.80" fill="#9bbdd4"/>
<rect x="417.59" y="185.90" width="4.76" height="6.00" fill="#0d2a6a"/>
<rect x="417.59" y="191.40" width="4.76" height="7.00" fill="#c6e0ec"/>
<rect x="417.59" y="197.90" width="4.76" height="14.30" fill="#96c2a4"/>
<rect x="417.59" y="211.70" width="4.76" height="17.60" fill="#fde6cc"/>
<rect x="417.59" y="228.80" width="4.76" height="7.40" fill="#cd3545"/>
<rect x="417.59" y="235.70" width="4.76" height="9.80" fill="#bf636f"/>
<rect x="421.75" y="51.00" width="4.76" height="52.20" fill="#a9a9a9"/>
<rect x="421.75" y="102.70" width="4.76" height="6.00" fill="#88afc6"/>
<rect x="421.75" y="108.20" width="4.76" height="23.70" fill="#1e5585"/>
<rect x="421.75" y="131.40" width="4.76" height="5.10" fill="#0d2a6a"/>
<rect x="421.75" y="136.00" width="4.76" height="56.80" fill="#96c2a4"/>
<rect x="421.75" y="192.30" width="4.76" height="5.20" fill="#fde68a"/>
<rect x="421.75" y="197.00" width="4.76" height="10.00" fill="#fd7f00"/>
<rect x="421.75" y="206.50" width="4.76" height="9.00" fill="#800080"/>
<rect x="421.75" y="215.00" width="4.76" height="9.50" fill="#c9a0dc"/>
<rect x="421.75" y="224.00" width="4.76" height="2.40" fill="#ffffff"/>
<rect x="421.75" y="225.90" width="4.76" height="3.90" fill="#fdd0d0"/>
<rect x="421.75" y="229.30" width="4.76" height="16.20" fill="#cd3545"/>
<rect x="425.91" y="51.00" width="4.76" height="39.70" fill="#a9a9a9"/>
<rect x="425.91" y="90.20" width="4.76" height="5.30" fill="#6e6e6e"/>
<rect x="425.91" y="95.00" width="4.76" height="7.30" fill="#88afc6"/>
<rect x="425.91" y="101.80" width="4.76" height="40.20" fill="#1774a2"/>
<rect x="425.91" y="141.50" width="4.76" height="9.80" fill="#1e5585"/>
<rect x="425.91" y="150.80" width="4.76" height="5.10" fill="#0d2a6a"/>
<rect x="425.91" y="155.40" width="4.76" height="3.30" fill="#c6e0ec"/>
<rect x="425.91" y="158.20" width="4.76" height="32.80" fill="#96c2a4"/>
<rect x="425.91" y="190.50" width="4.76" height="3.20" fill="#2e8b36"/>
<rect x="425.91" y="193.20" width="4.76" height="9.80" fill="#fde68a"/>
<rect x="425.91" y="202.50" width="4.76" height="5.00" fill="#fd7f00"/>
<rect x="425.91" y="207.00" width="4.76" height="8.20" fill="#800080"/>
<rect x="425.91" y="214.70" width="4.76" height="4.50" fill="#ffffff"/>
<rect x="425.91" y="218.70" width="4.76" height="12.60" fill="#cd3545"/>
<rect x="425.91" y="230.80" width="4.76" height="14.70" fill="#bf636f"/>
<rect x="430.07" y="51.00" width="4.76" height="40.80" fill="#a9a9a9"/>
<rect x="430.07" y="91.30" width="4.76" height="7.30" fill="#dadada"/>
<rect x="430.07" y="98.10" width="4.76" height="8.80" fill="#88afc6"/>
<rect x="430.07" y="106.40" width="4.76" height="5.10" fill="#729db9"/>
<rect x="430.07" y="111.00" width="4.76" height="24.50" fill="#1e5585"/>
<rect x="430.07" y="135.00" width="4.76" height="8.00" fill="#0d2a6a"/>
<rect x="430.07" y="142.50" width="4.76" height="4.20" fill="#c6e0ec"/>
<rect x="430.07" y="146.20" width="4.76" height="32.80" fill="#96c2a4"/>
<rect x="430.07" y="178.50" width="4.76" height="4.20" fill="#2e8b36"/>
<rect x="430.07" y="182.20" width="4.76" height="3.30" fill="#1ab4e8"/>
<rect x="430.07" y="185.00" width="4.76" height="16.10" fill="#fde6cc"/>
<rect x="430.07" y="200.60" width="4.76" height="5.20" fill="#fbd01e"/>
<rect x="430.07" y="205.30" width="4.76" height="2.50" fill="#fd7f00"/>
<rect x="430.07" y="207.30" width="4.76" height="6.60" fill="#800080"/>
<rect x="430.07" y="213.40" width="4.76" height="1.80" fill="#ffffff"/>
<rect x="430.07" y="214.70" width="4.76" height="25.40" fill="#cd3545"/>
<rect x="430.07" y="239.60" width="4.76" height="5.90" fill="#bf636f"/>
<rect x="434.24" y="51.00" width="4.76" height="190.60" fill="#a9a9a9"/>
<rect x="434.24" y="241.10" width="4.76" height="4.40" fill="#1e5585"/>
<rect x="438.40" y="51.00" width="4.76" height="40.80" fill="#a9a9a9"/>
<rect x="438.40" y="91.30" width="4.76" height="3.00" fill="#6e6e6e"/>
<rect x="438.40" y="93.80" width="4.76" height="14.90" fill="#88afc6"/>
<rect x="438.40" y="108.20" width="4.76" height="22.80" fill="#1774a2"/>
<rect x="438.40" y="130.50" width="4.76" height="7.90" fill="#1e5585"/>
<rect x="438.40" y="137.90" width="4.76" height="7.80" fill="#0d2a6a"/>
<rect x="438.40" y="145.20" width="4.76" height="3.30" fill="#c6e0ec"/>
<rect x="438.40" y="148.00" width="4.76" height="40.20" fill="#96c2a4"/>
<rect x="438.40" y="187.70" width="4.76" height="3.30" fill="#2e8b36"/>
<rect x="438.40" y="190.50" width="4.76" height="7.90" fill="#fde6cc"/>
<rect x="438.40" y="197.90" width="4.76" height="8.80" fill="#fbd01e"/>
<rect x="438.40" y="206.20" width="4.76" height="2.30" fill="#fd7f00"/>
<rect x="438.40" y="208.00" width="4.76" height="11.20" fill="#800080"/>
<rect x="438.40" y="218.70" width="4.76" height="5.80" fill="#c9a0dc"/>
<rect x="438.40" y="224.00" width="4.76" height="2.40" fill="#ffffff"/>
<rect x="438.40" y="225.90" width="4.76" height="2.50" fill="#fdd0d0"/>
<rect x="438.40" y="227.90" width="4.76" height="13.20" fill="#cd3545"/>
<rect x="438.40" y="240.60" width="4.76" height="4.90" fill="#bf636f"/>
<rect x="442.56" y="51.00" width="4.76" height="27.80" fill="#a9a9a9"/>
<rect x="442.56" y="78.30" width="4.76" height="1.80" fill="#6e6e6e"/>
<rect x="442.56" y="79.60" width="4.76" height="5.10" fill="#88afc6"/>
<rect x="442.56" y="84.20" width="4.76" height="3.30" fill="#1774a2"/>
<rect x="442.56" y="87.00" width="4.76" height="5.10" fill="#1e5585"/>
<rect x="442.56" y="91.60" width="4.76" height="15.30" fill="#0d2a6a"/>
<rect x="442.56" y="106.40" width="4.76" height="4.10" fill="#c6e0ec"/>
<rect x="442.56" y="110.00" width="4.76" height="54.20" fill="#96c2a4"/>
<rect x="442.56" y="163.70" width="4.76" height="3.30" fill="#2e8b36"/>
<rect x="442.56" y="166.50" width="4.76" height="6.90" fill="#fde6cc"/>
<rect x="442.56" y="172.90" width="4.76" height="7.90" fill="#fd7f00"/>
<rect x="442.56" y="180.30" width="4.76" height="7.90" fill="#800080"/>
<rect x="442.56" y="187.70" width="4.76" height="7.00" fill="#ffffff"/>
<rect x="442.56" y="194.20" width="4.76" height="51.30" fill="#cd3545"/>
<rect x="446.72" y="51.00" width="4.76" height="48.50" fill="#a9a9a9"/>
<rect x="446.72" y="99.00" width="4.76" height="10.70" fill="#1e5585"/>
<rect x="446.72" y="109.20" width="4.76" height="16.20" fill="#c6e0ec"/>
<rect x="446.72" y="124.90" width="4.76" height="14.40" fill="#0d2a6a"/>
<rect x="446.72" y="138.80" width="4.76" height="14.30" fill="#c6e0ec"/>
<rect x="446.72" y="152.60" width="4.76" height="50.40" fill="#96c2a4"/>
<rect x="446.72" y="202.50" width="4.76" height="18.00" fill="#f44a3a"/>
<rect x="446.72" y="220.00" width="4.76" height="4.00" fill="#800080"/>
<rect x="446.72" y="223.50" width="4.76" height="3.90" fill="#ffffff"/>
<rect x="446.72" y="226.90" width="4.76" height="10.30" fill="#fdd0d0"/>
<rect x="446.72" y="236.70" width="4.76" height="8.80" fill="#cd3545"/>
<rect x="450.89" y="51.00" width="4.76" height="129.80" fill="#a9a9a9"/>
<rect x="450.89" y="180.30" width="4.76" height="17.10" fill="#1774a2"/>
<rect x="450.89" y="196.90" width="4.76" height="10.90" fill="#0d2a6a"/>
<rect x="450.89" y="207.30" width="4.76" height="11.90" fill="#96c2a4"/>
<rect x="450.89" y="218.70" width="4.76" height="11.10" fill="#fde6cc"/>
<rect x="450.89" y="229.30" width="4.76" height="4.50" fill="#800080"/>
<rect x="450.89" y="233.30" width="4.76" height="12.20" fill="#cd3545"/>
<rect x="455.05" y="51.00" width="4.76" height="53.10" fill="#a9a9a9"/>
<rect x="455.05" y="103.60" width="4.76" height="6.10" fill="#dadada"/>
<rect x="455.05" y="109.20" width="4.76" height="9.80" fill="#729db9"/>
<rect x="455.05" y="118.50" width="4.76" height="15.20" fill="#1e5585"/>
<rect x="455.05" y="133.20" width="4.76" height="5.20" fill="#c6e0ec"/>
<rect x="455.05" y="137.90" width="4.76" height="5.10" fill="#0d2a6a"/>
<rect x="455.05" y="142.50" width="4.76" height="5.10" fill="#c6e0ec"/>
<rect x="455.05" y="147.10" width="4.76" height="28.20" fill="#96c2a4"/>
<rect x="455.05" y="174.80" width="4.76" height="4.20" fill="#2e8b36"/>
<rect x="455.05" y="178.50" width="4.76" height="3.20" fill="#1ab4e8"/>
<rect x="455.05" y="181.20" width="4.76" height="16.20" fill="#fde6cc"/>
<rect x="455.05" y="196.90" width="4.76" height="3.30" fill="#fbd01e"/>
<rect x="455.05" y="199.70" width="4.76" height="4.20" fill="#fd7f00"/>
<rect x="455.05" y="203.40" width="4.76" height="3.80" fill="#800080"/>
<rect x="455.05" y="206.70" width="4.76" height="4.50" fill="#ffffff"/>
<rect x="455.05" y="210.70" width="4.76" height="27.50" fill="#cd3545"/>
<rect x="455.05" y="237.70" width="4.76" height="7.80" fill="#bf636f"/>
<rect x="459.21" y="51.00" width="4.76" height="51.30" fill="#a9a9a9"/>
<rect x="459.21" y="101.80" width="4.76" height="6.10" fill="#dadada"/>
<rect x="459.21" y="107.40" width="4.76" height="9.70" fill="#729db9"/>
<rect x="459.21" y="116.60" width="4.76" height="20.80" fill="#1e5585"/>
<rect x="459.21" y="136.90" width="4.76" height="8.80" fill="#0d2a6a"/>
<rect x="459.21" y="145.20" width="4.76" height="5.20" fill="#c6e0ec"/>
<rect x="459.21" y="149.90" width="4.76" height="31.80" fill="#96c2a4"/>
<rect x="459.21" y="181.20" width="4.76" height="3.30" fill="#2e8b36"/>
<rect x="459.21" y="184.00" width="4.76" height="4.20" fill="#1ab4e8"/>
<rect x="459.21" y="187.70" width="4.76" height="7.00" fill="#fde6cc"/>
<rect x="459.21" y="194.20" width="4.76" height="4.20" fill="#fbd01e"/>
<rect x="459.21" y="197.90" width="4.76" height="6.90" fill="#fd7f00"/>
<rect x="459.21" y="204.30" width="4.76" height="5.20" fill="#f44a3a"/>
<rect x="459.21" y="209.00" width="4.76" height="6.90" fill="#800080"/>
<rect x="459.21" y="215.40" width="4.76" height="5.10" fill="#ffffff"/>
<rect x="459.21" y="220.00" width="4.76" height="22.10" fill="#cd3545"/>
<rect x="459.21" y="241.60" width="4.76" height="3.90" fill="#bf636f"/>
<rect x="463.38" y="51.00" width="4.76" height="39.30" fill="#a9a9a9"/>
<rect x="463.38" y="89.80" width="4.76" height="2.70" fill="#dadada"/>
<rect x="463.38" y="92.00" width="4.76" height="7.10" fill="#88afc6"/>
<rect x="463.38" y="98.60" width="4.76" height="22.20" fill="#1774a2"/>
<rect x="463.38" y="120.30" width="4.76" height="2.40" fill="#1e5585"/>
<rect x="463.38" y="122.20" width="4.76" height="11.50" fill="#0d2a6a"/>
<rect x="463.38" y="133.20" width="4.76" height="3.30" fill="#c6e0ec"/>
<rect x="463.38" y="136.00" width="4.76" height="47.50" fill="#96c2a4"/>
<rect x="463.38" y="183.00" width="4.76" height="3.40" fill="#1ab4e8"/>
<rect x="463.38" y="185.90" width="4.76" height="11.50" fill="#fde6cc"/>
<rect x="463.38" y="196.90" width="4.76" height="7.00" fill="#fd7f00"/>
<rect x="463.38" y="203.40" width="4.76" height="9.80" fill="#800080"/>
<rect x="463.38" y="212.70" width="4.76" height="2.50" fill="#c9a0dc"/>
<rect x="463.38" y="214.70" width="4.76" height="7.80" fill="#ffffff"/>
<rect x="463.38" y="222.00" width="4.76" height="4.40" fill="#fdd0d0"/>
<rect x="463.38" y="225.90" width="4.76" height="19.60" fill="#cd3545"/>
<rect x="467.54" y="51.00" width="4.76" height="31.90" fill="#a9a9a9"/>
<rect x="467.54" y="82.40" width="4.76" height="2.00" fill="#dadada"/>
<rect x="467.54" y="83.90" width="4.76" height="8.20" fill="#6e6e6e"/>
<rect x="467.54" y="91.60" width="4.76" height="7.50" fill="#88afc6"/>
<rect x="467.54" y="98.60" width="4.76" height="21.30" fill="#1774a2"/>
<rect x="467.54" y="119.40" width="4.76" height="18.00" fill="#1e5585"/>
<rect x="467.54" y="136.90" width="4.76" height="8.80" fill="#0d2a6a"/>
<rect x="467.54" y="145.20" width="4.76" height="3.30" fill="#c6e0ec"/>
<rect x="467.54" y="148.00" width="4.76" height="40.20" fill="#96c2a4"/>
<rect x="467.54" y="187.70" width="4.76" height="3.30" fill="#2e8b36"/>
<rect x="467.54" y="190.50" width="4.76" height="4.20" fill="#fde6cc"/>
<rect x="467.54" y="194.20" width="4.76" height="6.90" fill="#fde68a"/>
<rect x="467.54" y="200.60" width="4.76" height="4.20" fill="#fd7f00"/>
<rect x="467.54" y="204.30" width="4.76" height="17.60" fill="#800080"/>
<rect x="467.54" y="221.40" width="4.76" height="6.00" fill="#ffffff"/>
<rect x="467.54" y="226.90" width="4.76" height="18.60" fill="#cd3545"/>
<rect x="471.70" y="51.00" width="4.76" height="36.50" fill="#a9a9a9"/>
<rect x="471.70" y="87.00" width="4.76" height="10.70" fill="#dadada"/>
<rect x="471.70" y="97.20" width="4.76" height="9.70" fill="#88afc6"/>
<rect x="471.70" y="106.40" width="4.76" height="12.60" fill="#1e5585"/>
<rect x="471.70" y="118.50" width="4.76" height="6.90" fill="#0d2a6a"/>
<rect x="471.70" y="124.90" width="4.76" height="3.30" fill="#c6e0ec"/>
<rect x="471.70" y="127.70" width="4.76" height="44.80" fill="#96c2a4"/>
<rect x="471.70" y="172.00" width="4.76" height="7.00" fill="#1ab4e8"/>
<rect x="471.70" y="178.50" width="4.76" height="7.00" fill="#fde68a"/>
<rect x="471.70" y="185.00" width="4.76" height="5.00" fill="#fbd01e"/>
<rect x="471.70" y="189.50" width="4.76" height="2.40" fill="#fd7f00"/>
<rect x="471.70" y="191.40" width="4.76" height="5.10" fill="#800080"/>
<rect x="471.70" y="196.00" width="4.76" height="4.20" fill="#ffffff"/>
<rect x="471.70" y="199.70" width="4.76" height="22.80" fill="#cd3545"/>
<rect x="471.70" y="222.00" width="4.76" height="20.10" fill="#bf636f"/>
<rect x="471.70" y="241.60" width="4.76" height="3.90" fill="#d9b9bf"/>
<rect x="475.86" y="51.00" width="4.76" height="118.70" fill="#a9a9a9"/>
<rect x="475.86" y="169.20" width="4.76" height="11.60" fill="#6e6e6e"/>
<rect x="475.86" y="180.30" width="4.76" height="5.10" fill="#588aad"/>
<rect x="475.86" y="184.90" width="4.76" height="9.80" fill="#0d2a6a"/>
<rect x="475.86" y="194.20" width="4.76" height="25.00" fill="#96c2a4"/>
<rect x="475.86" y="218.70" width="4.76" height="3.80" fill="#fde6cc"/>
<rect x="475.86" y="222.00" width="4.76" height="14.20" fill="#fde68a"/>
<rect x="475.86" y="235.70" width="4.76" height="1.50" fill="#800080"/>
<rect x="475.86" y="236.70" width="4.76" height="3.40" fill="#ffffff"/>
<rect x="475.86" y="239.60" width="4.76" height="2.90" fill="#f89a9a"/>
<rect x="475.86" y="242.00" width="4.76" height="3.50" fill="#cd3545"/>
<rect x="480.03" y="51.00" width="4.76" height="19.00" fill="#a9a9a9"/>
<rect x="480.03" y="69.50" width="4.76" height="2.30" fill="#dadada"/>
<rect x="480.03" y="71.30" width="4.76" height="8.80" fill="#6e6e6e"/>
<rect x="480.03" y="79.60" width="4.76" height="7.90" fill="#1774a2"/>
<rect x="480.03" y="87.00" width="4.76" height="15.30" fill="#1e5585"/>
<rect x="480.03" y="101.80" width="4.76" height="14.40" fill="#0d2a6a"/>
<rect x="480.03" y="115.70" width="4.76" height="2.30" fill="#c6e0ec"/>
<rect x="480.03" y="117.50" width="4.76" height="64.20" fill="#96c2a4"/>
<rect x="480.03" y="181.20" width="4.76" height="5.20" fill="#2e8b36"/>
<rect x="480.03" y="185.90" width="4.76" height="6.00" fill="#fde6cc"/>
<rect x="480.03" y="191.40" width="4.76" height="6.00" fill="#fbd01e"/>
<rect x="480.03" y="196.90" width="4.76" height="11.60" fill="#fd7f00"/>
<rect x="480.03" y="208.00" width="4.76" height="4.50" fill="#800080"/>
<rect x="480.03" y="212.00" width="4.76" height="5.90" fill="#ffffff"/>
<rect x="480.03" y="217.40" width="4.76" height="5.10" fill="#fdd0d0"/>
<rect x="480.03" y="222.00" width="4.76" height="15.20" fill="#cd3545"/>
<rect x="480.03" y="236.70" width="4.76" height="8.80" fill="#bf636f"/>
<rect x="484.19" y="51.00" width="4.76" height="12.50" fill="#a9a9a9"/>
<rect x="484.19" y="63.00" width="4.76" height="3.30" fill="#dadada"/>
<rect x="484.19" y="65.80" width="4.76" height="25.40" fill="#1774a2"/>
<rect x="484.19" y="90.70" width="4.76" height="18.00" fill="#96c2a4"/>
<rect x="484.19" y="108.20" width="4.76" height="105.70" fill="#257a52"/>
<rect x="484.19" y="213.40" width="4.76" height="2.50" fill="#fd7f00"/>
<rect x="484.19" y="215.40" width="4.76" height="3.80" fill="#fdd0d0"/>
<rect x="484.19" y="218.70" width="4.76" height="5.80" fill="#800080"/>
<rect x="484.19" y="224.00" width="4.76" height="3.40" fill="#ffffff"/>
<rect x="484.19" y="226.90" width="4.76" height="18.60" fill="#cd3545"/>
<rect x="488.35" y="51.00" width="4.76" height="20.80" fill="#a9a9a9"/>
<rect x="488.35" y="71.30" width="4.76" height="10.70" fill="#dadada"/>
<rect x="488.35" y="81.50" width="4.76" height="3.00" fill="#6e6e6e"/>
<rect x="488.35" y="84.00" width="4.76" height="38.70" fill="#1774a2"/>
<rect x="488.35" y="122.20" width="4.76" height="53.10" fill="#1e5585"/>
<rect x="488.35" y="174.80" width="4.76" height="2.30" fill="#0d2a6a"/>
<rect x="488.35" y="176.60" width="4.76" height="2.40" fill="#c6e0ec"/>
<rect x="488.35" y="178.50" width="4.76" height="19.90" fill="#96c2a4"/>
<rect x="488.35" y="197.90" width="4.76" height="2.30" fill="#1ab4e8"/>
<rect x="488.35" y="199.70" width="4.76" height="13.50" fill="#fde6cc"/>
<rect x="488.35" y="212.70" width="4.76" height="2.50" fill="#fd7f00"/>
<rect x="488.35" y="214.70" width="4.76" height="9.30" fill="#800080"/>
<rect x="488.35" y="223.50" width="4.76" height="22.00" fill="#cd3545"/>
<rect x="492.51" y="51.00" width="4.76" height="55.90" fill="#a9a9a9"/>
<rect x="492.51" y="106.40" width="4.76" height="7.00" fill="#1e5585"/>
<rect x="492.51" y="112.90" width="4.76" height="9.80" fill="#1774a2"/>
<rect x="492.51" y="122.20" width="4.76" height="17.10" fill="#0d2a6a"/>
<rect x="492.51" y="138.80" width="4.76" height="6.00" fill="#c6e0ec"/>
<rect x="492.51" y="144.30" width="4.76" height="59.60" fill="#96c2a4"/>
<rect x="492.51" y="203.40" width="4.76" height="9.10" fill="#2e8b36"/>
<rect x="492.51" y="212.00" width="4.76" height="5.20" fill="#c4e2b4"/>
<rect x="492.51" y="216.70" width="4.76" height="14.60" fill="#fde68a"/>
<rect x="492.51" y="230.80" width="4.76" height="4.40" fill="#fd7f00"/>
<rect x="492.51" y="234.70" width="4.76" height="3.90" fill="#800080"/>
<rect x="492.51" y="238.10" width="4.76" height="3.50" fill="#ffffff"/>
<rect x="492.51" y="241.10" width="4.76" height="4.40" fill="#cd3545"/>
<rect x="496.68" y="51.00" width="4.76" height="41.10" fill="#a9a9a9"/>
<rect x="496.68" y="91.60" width="4.76" height="8.30" fill="#dadada"/>
<rect x="496.68" y="99.40" width="4.76" height="5.70" fill="#88afc6"/>
<rect x="496.68" y="104.60" width="4.76" height="6.90" fill="#729db9"/>
<rect x="496.68" y="111.00" width="4.76" height="22.70" fill="#1e5585"/>
<rect x="496.68" y="133.20" width="4.76" height="5.20" fill="#0d2a6a"/>
<rect x="496.68" y="137.90" width="4.76" height="1.40" fill="#c6e0ec"/>
<rect x="496.68" y="138.80" width="4.76" height="7.90" fill="#0d2a6a"/>
<rect x="496.68" y="146.20" width="4.76" height="5.10" fill="#c6e0ec"/>
<rect x="496.68" y="150.80" width="4.76" height="30.00" fill="#96c2a4"/>
<rect x="496.68" y="180.30" width="4.76" height="4.20" fill="#2e8b36"/>
<rect x="496.68" y="184.00" width="4.76" height="2.40" fill="#1ab4e8"/>
<rect x="496.68" y="185.90" width="4.76" height="9.60" fill="#fde6cc"/>
<rect x="496.68" y="195.00" width="4.76" height="8.00" fill="#fd7f00"/>
<rect x="496.68" y="202.50" width="4.76" height="5.10" fill="#f44a3a"/>
<rect x="496.68" y="207.10" width="4.76" height="5.10" fill="#800080"/>
<rect x="496.68" y="211.70" width="4.76" height="4.20" fill="#ffffff"/>
<rect x="496.68" y="215.40" width="4.76" height="22.80" fill="#cd3545"/>
<rect x="496.68" y="237.70" width="4.76" height="7.80" fill="#bf636f"/>
<rect x="500.84" y="51.00" width="4.76" height="55.50" fill="#a9a9a9"/>
<rect x="500.84" y="106.00" width="4.76" height="2.70" fill="#c6e0ec"/>
<rect x="500.84" y="108.20" width="4.76" height="10.80" fill="#88afc6"/>
<rect x="500.84" y="118.50" width="4.76" height="7.90" fill="#0d2a6a"/>
<rect x="500.84" y="125.90" width="4.76" height="88.10" fill="#c6e0ec"/>
<rect x="500.84" y="213.50" width="4.76" height="5.70" fill="#2e8b36"/>
<rect x="500.84" y="218.70" width="4.76" height="3.80" fill="#fde6cc"/>
<rect x="500.84" y="222.00" width="4.76" height="6.40" fill="#fbd01e"/>
<rect x="500.84" y="227.90" width="4.76" height="3.40" fill="#fd7f00"/>
<rect x="500.84" y="230.80" width="4.76" height="6.40" fill="#f44a3a"/>
<rect x="500.84" y="236.70" width="4.76" height="4.40" fill="#fdd0d0"/>
<rect x="500.84" y="240.60" width="4.76" height="4.90" fill="#cd3545"/>
<rect x="505.00" y="51.00" width="4.76" height="45.70" fill="#a9a9a9"/>
<rect x="505.00" y="96.20" width="4.76" height="2.40" fill="#6e6e6e"/>
<rect x="505.00" y="98.10" width="4.76" height="7.00" fill="#88afc6"/>
<rect x="505.00" y="104.60" width="4.76" height="19.90" fill="#1774a2"/>
<rect x="505.00" y="124.00" width="4.76" height="6.00" fill="#0d2a6a"/>
<rect x="505.00" y="129.50" width="4.76" height="2.40" fill="#c6e0ec"/>
<rect x="505.00" y="131.40" width="4.76" height="7.90" fill="#0d2a6a"/>
<rect x="505.00" y="138.80" width="4.76" height="6.00" fill="#c6e0ec"/>
<rect x="505.00" y="144.30" width="4.76" height="47.60" fill="#96c2a4"/>
<rect x="505.00" y="191.40" width="4.76" height="6.00" fill="#2e8b36"/>
<rect x="505.00" y="196.90" width="4.76" height="11.60" fill="#fde6cc"/>
<rect x="505.00" y="208.00" width="4.76" height="13.90" fill="#f0a800"/>
<rect x="505.00" y="221.40" width="4.76" height="7.00" fill="#800080"/>
<rect x="505.00" y="227.90" width="4.76" height="9.30" fill="#ffffff"/>
<rect x="505.00" y="236.70" width="4.76" height="3.40" fill="#fdd0d0"/>
<rect x="505.00" y="239.60" width="4.76" height="5.90" fill="#cd3545"/>
<rect x="509.17" y="51.00" width="4.76" height="29.10" fill="#a9a9a9"/>
<rect x="509.17" y="79.60" width="4.76" height="8.50" fill="#dadada"/>
<rect x="509.17" y="87.60" width="4.76" height="2.70" fill="#6e6e6e"/>
<rect x="509.17" y="89.80" width="4.76" height="11.60" fill="#88afc6"/>
<rect x="509.17" y="100.90" width="4.76" height="22.60" fill="#1774a2"/>
<rect x="509.17" y="123.00" width="4.76" height="6.10" fill="#0d2a6a"/>
<rect x="509.17" y="128.60" width="4.76" height="6.90" fill="#c6e0ec"/>
<rect x="509.17" y="135.00" width="4.76" height="25.50" fill="#96c2a4"/>
<rect x="509.17" y="160.00" width="4.76" height="3.30" fill="#1ab4e8"/>
<rect x="509.17" y="162.80" width="4.76" height="8.70" fill="#fde6cc"/>
<rect x="509.17" y="171.00" width="4.76" height="9.80" fill="#fbd01e"/>
<rect x="509.17" y="180.30" width="4.76" height="6.10" fill="#fd7f00"/>
<rect x="509.17" y="185.90" width="4.76" height="7.80" fill="#800080"/>
<rect x="509.17" y="193.20" width="4.76" height="6.10" fill="#ffffff"/>
<rect x="509.17" y="198.80" width="4.76" height="33.50" fill="#cd3545"/>
<rect x="509.17" y="231.80" width="4.76" height="13.70" fill="#bf636f"/>
<rect x="513.33" y="51.00" width="4.76" height="68.00" fill="#a9a9a9"/>
<rect x="513.33" y="118.50" width="4.76" height="5.00" fill="#dadada"/>
<rect x="513.33" y="123.00" width="4.76" height="5.20" fill="#588aad"/>
<rect x="513.33" y="127.70" width="4.76" height="15.30" fill="#1774a2"/>
<rect x="513.33" y="142.50" width="4.76" height="4.20" fill="#0d2a6a"/>
<rect x="513.33" y="146.20" width="4.76" height="2.30" fill="#c6e0ec"/>
<rect x="513.33" y="148.00" width="4.76" height="26.40" fill="#96c2a4"/>
<rect x="513.33" y="173.90" width="4.76" height="42.60" fill="#2e8b36"/>
<rect x="513.33" y="216.00" width="4.76" height="4.50" fill="#fde6cc"/>
<rect x="513.33" y="220.00" width="4.76" height="2.50" fill="#fbd01e"/>
<rect x="513.33" y="222.00" width="4.76" height="2.00" fill="#fd7f00"/>
<rect x="513.33" y="223.50" width="4.76" height="2.90" fill="#800080"/>
<rect x="513.33" y="225.90" width="4.76" height="4.40" fill="#ffffff"/>
<rect x="513.33" y="229.80" width="4.76" height="5.40" fill="#cd3545"/>
<rect x="513.33" y="234.70" width="4.76" height="10.80" fill="#bf636f"/>
<rect x="517.49" y="51.00" width="4.76" height="48.90" fill="#a9a9a9"/>
<rect x="517.49" y="99.40" width="4.76" height="7.50" fill="#dadada"/>
<rect x="517.49" y="106.40" width="4.76" height="5.10" fill="#6e6e6e"/>
<rect x="517.49" y="111.00" width="4.76" height="4.30" fill="#88afc6"/>
<rect x="517.49" y="114.80" width="4.76" height="9.70" fill="#1e5585"/>
<rect x="517.49" y="124.00" width="4.76" height="19.00" fill="#0d2a6a"/>
<rect x="517.49" y="142.50" width="4.76" height="6.00" fill="#c6e0ec"/>
<rect x="517.49" y="148.00" width="4.76" height="38.40" fill="#96c2a4"/>
<rect x="517.49" y="185.90" width="4.76" height="4.10" fill="#2e8b36"/>
<rect x="517.49" y="189.50" width="4.76" height="20.00" fill="#fde6cc"/>
<rect x="517.49" y="209.00" width="4.76" height="1.50" fill="#fde68a"/>
<rect x="517.49" y="210.00" width="4.76" height="5.20" fill="#fd7f00"/>
<rect x="517.49" y="214.70" width="4.76" height="5.80" fill="#800080"/>
<rect x="517.49" y="220.00" width="4.76" height="6.40" fill="#ffffff"/>
<rect x="517.49" y="225.90" width="4.76" height="3.40" fill="#fdd0d0"/>
<rect x="517.49" y="228.80" width="4.76" height="6.40" fill="#cd3545"/>
<rect x="517.49" y="234.70" width="4.76" height="10.80" fill="#bf636f"/>
<rect x="521.65" y="51.00" width="4.76" height="194.50" fill="#a9a9a9"/>
<rect x="525.82" y="51.00" width="4.76" height="44.50" fill="#a9a9a9"/>
<rect x="525.82" y="95.00" width="4.76" height="4.90" fill="#dadada"/>
<rect x="525.82" y="99.40" width="4.76" height="5.70" fill="#88afc6"/>
<rect x="525.82" y="104.60" width="4.76" height="14.40" fill="#1e5585"/>
<rect x="525.82" y="118.50" width="4.76" height="6.00" fill="#c6e0ec"/>
<rect x="525.82" y="124.00" width="4.76" height="7.90" fill="#0d2a6a"/>
<rect x="525.82" y="131.40" width="4.76" height="6.10" fill="#c6e0ec"/>
<rect x="525.82" y="137.00" width="4.76" height="28.10" fill="#96c2a4"/>
<rect x="525.82" y="164.60" width="4.76" height="6.10" fill="#2e8b36"/>
<rect x="525.82" y="170.20" width="4.76" height="4.20" fill="#1ab4e8"/>
<rect x="525.82" y="173.90" width="4.76" height="6.90" fill="#fde6cc"/>
<rect x="525.82" y="180.30" width="4.76" height="7.90" fill="#fbd01e"/>
<rect x="525.82" y="187.70" width="4.76" height="6.00" fill="#fd7f00"/>
<rect x="525.82" y="193.20" width="4.76" height="5.20" fill="#800080"/>
<rect x="525.82" y="197.90" width="4.76" height="2.30" fill="#ffffff"/>
<rect x="525.82" y="199.70" width="4.76" height="6.10" fill="#fdd0d0"/>
<rect x="525.82" y="205.30" width="4.76" height="30.90" fill="#cd3545"/>
<rect x="525.82" y="235.70" width="4.76" height="9.80" fill="#bf636f"/>
<rect x="529.98" y="51.00" width="4.76" height="123.40" fill="#a9a9a9"/>
<rect x="529.98" y="173.90" width="4.76" height="6.90" fill="#88afc6"/>
<rect x="529.98" y="180.30" width="4.76" height="3.20" fill="#386c95"/>
<rect x="529.98" y="183.00" width="4.76" height="3.40" fill="#0d2a6a"/>
<rect x="529.98" y="185.90" width="4.76" height="36.00" fill="#96c2a4"/>
<rect x="529.98" y="221.40" width="4.76" height="1.10" fill="#1ab4e8"/>
<rect x="529.98" y="222.00" width="4.76" height="3.40" fill="#fd7f00"/>
<rect x="529.98" y="224.90" width="4.76" height="3.50" fill="#800080"/>
<rect x="529.98" y="227.90" width="4.76" height="6.30" fill="#ffffff"/>
<rect x="529.98" y="233.70" width="4.76" height="2.50" fill="#fdd0d0"/>
<rect x="529.98" y="235.70" width="4.76" height="9.80" fill="#cd3545"/>
<rect x="534.14" y="51.00" width="4.76" height="123.40" fill="#a9a9a9"/>
<rect x="534.14" y="173.90" width="4.76" height="33.30" fill="#c6e0ec"/>
<rect x="534.14" y="206.70" width="4.76" height="38.80" fill="#1ab4e8"/>
<rect x="538.30" y="51.00" width="4.76" height="47.60" fill="#a9a9a9"/>
<rect x="538.30" y="98.10" width="4.76" height="12.60" fill="#dadada"/>
<rect x="538.30" y="110.20" width="4.76" height="18.00" fill="#88afc6"/>
<rect x="538.30" y="127.70" width="4.76" height="33.80" fill="#386c95"/>
<rect x="538.30" y="161.00" width="4.76" height="6.00" fill="#0d2a6a"/>
<rect x="538.30" y="166.50" width="4.76" height="18.00" fill="#96c2a4"/>
<rect x="538.30" y="184.00" width="4.76" height="7.00" fill="#1ab4e8"/>
<rect x="538.30" y="190.50" width="4.76" height="3.00" fill="#fde6cc"/>
<rect x="538.30" y="193.00" width="4.76" height="11.50" fill="#fbd01e"/>
<rect x="538.30" y="204.00" width="4.76" height="4.50" fill="#fd7f00"/>
<rect x="538.30" y="208.00" width="4.76" height="2.50" fill="#800080"/>
<rect x="538.30" y="210.00" width="4.76" height="5.20" fill="#fdd0d0"/>
<rect x="538.30" y="214.70" width="4.76" height="22.50" fill="#cd3545"/>
<rect x="538.30" y="236.70" width="4.76" height="8.80" fill="#bf636f"/>
<rect x="542.47" y="51.00" width="4.76" height="53.10" fill="#a9a9a9"/>
<rect x="542.47" y="103.60" width="4.76" height="5.10" fill="#dadada"/>
<rect x="542.47" y="108.20" width="4.76" height="5.30" fill="#88afc6"/>
<rect x="542.47" y="113.00" width="4.76" height="17.00" fill="#1e5585"/>
<rect x="542.47" y="129.50" width="4.76" height="7.00" fill="#0d2a6a"/>
<rect x="542.47" y="136.00" width="4.76" height="5.10" fill="#c6e0ec"/>
<rect x="542.47" y="140.60" width="4.76" height="43.90" fill="#96c2a4"/>
<rect x="542.47" y="184.00" width="4.76" height="4.20" fill="#1ab4e8"/>
<rect x="542.47" y="187.70" width="4.76" height="14.80" fill="#fbd01e"/>
<rect x="542.47" y="202.00" width="4.76" height="6.50" fill="#fd7f00"/>
<rect x="542.47" y="208.00" width="4.76" height="3.20" fill="#800080"/>
<rect x="542.47" y="210.70" width="4.76" height="3.20" fill="#ffffff"/>
<rect x="542.47" y="213.40" width="4.76" height="23.80" fill="#cd3545"/>
<rect x="542.47" y="236.70" width="4.76" height="8.80" fill="#bf636f"/>
<rect x="546.63" y="51.00" width="4.76" height="45.70" fill="#a9a9a9"/>
<rect x="546.63" y="96.20" width="4.76" height="4.20" fill="#dadada"/>
<rect x="546.63" y="99.90" width="4.76" height="7.00" fill="#88afc6"/>
<rect x="546.63" y="106.40" width="4.76" height="4.10" fill="#729db9"/>
<rect x="546.63" y="110.00" width="4.76" height="9.00" fill="#0d2a6a"/>
<rect x="546.63" y="118.50" width="4.76" height="9.70" fill="#c6e0ec"/>
<rect x="546.63" y="127.70" width="4.76" height="20.80" fill="#96c2a4"/>
<rect x="546.63" y="148.00" width="4.76" height="5.10" fill="#2e8b36"/>
<rect x="546.63" y="152.60" width="4.76" height="52.60" fill="#c4e2b4"/>
<rect x="546.63" y="204.70" width="4.76" height="1.80" fill="#1ab4e8"/>
<rect x="546.63" y="206.00" width="4.76" height="9.20" fill="#fde6cc"/>
<rect x="546.63" y="214.70" width="4.76" height="5.80" fill="#fd7f00"/>
<rect x="546.63" y="220.00" width="4.76" height="6.40" fill="#f44a3a"/>
<rect x="546.63" y="225.90" width="4.76" height="2.50" fill="#800080"/>
<rect x="546.63" y="227.90" width="4.76" height="5.40" fill="#ffffff"/>
<rect x="546.63" y="232.80" width="4.76" height="7.30" fill="#cd3545"/>
<rect x="546.63" y="239.60" width="4.76" height="5.90" fill="#bf636f"/>
<rect x="550.79" y="51.00" width="4.76" height="39.30" fill="#a9a9a9"/>
<rect x="550.79" y="89.80" width="4.76" height="3.80" fill="#dadada"/>
<rect x="550.79" y="93.10" width="4.76" height="7.40" fill="#6e6e6e"/>
<rect x="550.79" y="100.00" width="4.76" height="6.90" fill="#729db9"/>
<rect x="550.79" y="106.40" width="4.76" height="5.10" fill="#1774a2"/>
<rect x="550.79" y="111.00" width="4.76" height="14.50" fill="#1e5585"/>
<rect x="550.79" y="125.00" width="4.76" height="5.00" fill="#0d2a6a"/>
<rect x="550.79" y="129.50" width="4.76" height="31.00" fill="#96c2a4"/>
<rect x="550.79" y="160.00" width="4.76" height="7.90" fill="#fde6cc"/>
<rect x="550.79" y="167.40" width="4.76" height="4.10" fill="#fbd01e"/>
<rect x="550.79" y="171.00" width="4.76" height="5.20" fill="#fd7f00"/>
<rect x="550.79" y="175.70" width="4.76" height="15.30" fill="#800080"/>
<rect x="550.79" y="190.50" width="4.76" height="3.20" fill="#ffffff"/>
<rect x="550.79" y="193.20" width="4.76" height="3.30" fill="#f89a9a"/>
<rect x="550.79" y="196.00" width="4.76" height="33.30" fill="#cd3545"/>
<rect x="550.79" y="228.80" width="4.76" height="10.30" fill="#bf636f"/>
<rect x="550.79" y="238.60" width="4.76" height="6.90" fill="#d9b9bf"/>
<rect x="554.96" y="51.00" width="4.76" height="26.40" fill="#a9a9a9"/>
<rect x="554.96" y="76.90" width="4.76" height="3.80" fill="#dadada"/>
<rect x="554.96" y="80.20" width="4.76" height="8.20" fill="#6e6e6e"/>
<rect x="554.96" y="87.90" width="4.76" height="5.10" fill="#88afc6"/>
<rect x="554.96" y="92.50" width="4.76" height="12.60" fill="#1774a2"/>
<rect x="554.96" y="104.60" width="4.76" height="8.90" fill="#1e5585"/>
<rect x="554.96" y="113.00" width="4.76" height="6.00" fill="#88afc6"/>
<rect x="554.96" y="118.50" width="4.76" height="6.00" fill="#0d2a6a"/>
<rect x="554.96" y="124.00" width="4.76" height="64.20" fill="#96c2a4"/>
<rect x="554.96" y="187.70" width="4.76" height="3.30" fill="#2e8b36"/>
<rect x="554.96" y="190.50" width="4.76" height="6.90" fill="#fde6cc"/>
<rect x="554.96" y="196.90" width="4.76" height="3.30" fill="#fd7f00"/>
<rect x="554.96" y="199.70" width="4.76" height="8.80" fill="#800080"/>
<rect x="554.96" y="208.00" width="4.76" height="5.90" fill="#ffffff"/>
<rect x="554.96" y="213.40" width="4.76" height="27.70" fill="#cd3545"/>
<rect x="554.96" y="240.60" width="4.76" height="4.90" fill="#bf636f"/>
<rect x="559.12" y="51.00" width="4.76" height="44.50" fill="#a9a9a9"/>
<rect x="559.12" y="95.00" width="4.76" height="3.60" fill="#dadada"/>
<rect x="559.12" y="98.10" width="4.76" height="8.80" fill="#88afc6"/>
<rect x="559.12" y="106.40" width="4.76" height="7.10" fill="#1e5585"/>
<rect x="559.12" y="113.00" width="4.76" height="7.80" fill="#729db9"/>
<rect x="559.12" y="120.30" width="4.76" height="7.90" fill="#0d2a6a"/>
<rect x="559.12" y="127.70" width="4.76" height="3.30" fill="#c6e0ec"/>
<rect x="559.12" y="130.50" width="4.76" height="37.40" fill="#96c2a4"/>
<rect x="559.12" y="167.40" width="4.76" height="38.40" fill="#257a52"/>
<rect x="559.12" y="205.30" width="4.76" height="8.60" fill="#fde6cc"/>
<rect x="559.12" y="213.40" width="4.76" height="7.10" fill="#fd7f00"/>
<rect x="559.12" y="220.00" width="4.76" height="4.50" fill="#800080"/>
<rect x="559.12" y="224.00" width="4.76" height="6.30" fill="#ffffff"/>
<rect x="559.12" y="229.80" width="4.76" height="15.70" fill="#cd3545"/>
<rect x="563.28" y="51.00" width="4.76" height="43.90" fill="#a9a9a9"/>
<rect x="563.28" y="94.40" width="4.76" height="7.30" fill="#dadada"/>
<rect x="563.28" y="101.20" width="4.76" height="9.30" fill="#6e6e6e"/>
<rect x="563.28" y="110.00" width="4.76" height="5.30" fill="#88afc6"/>
<rect x="563.28" y="114.80" width="4.76" height="15.20" fill="#1774a2"/>
<rect x="563.28" y="129.50" width="4.76" height="4.20" fill="#0d2a6a"/>
<rect x="563.28" y="133.20" width="4.76" height="40.30" fill="#96c2a4"/>
<rect x="563.28" y="173.00" width="4.76" height="2.30" fill="#1ab4e8"/>
<rect x="563.28" y="174.80" width="4.76" height="6.90" fill="#fde6cc"/>
<rect x="563.28" y="181.20" width="4.76" height="7.00" fill="#fbd01e"/>
<rect x="563.28" y="187.70" width="4.76" height="2.30" fill="#fd7f00"/>
<rect x="563.28" y="189.50" width="4.76" height="6.00" fill="#800080"/>
<rect x="563.28" y="195.00" width="4.76" height="5.20" fill="#ffffff"/>
<rect x="563.28" y="199.70" width="4.76" height="29.60" fill="#cd3545"/>
<rect x="563.28" y="228.80" width="4.76" height="13.30" fill="#bf636f"/>
<rect x="563.28" y="241.60" width="4.76" height="3.90" fill="#d9b9bf"/>
<rect x="567.44" y="51.00" width="4.76" height="20.50" fill="#a9a9a9"/>
<rect x="567.44" y="71.00" width="4.76" height="22.10" fill="#dadada"/>
<rect x="567.44" y="92.60" width="4.76" height="7.30" fill="#88afc6"/>
<rect x="567.44" y="99.40" width="4.76" height="11.10" fill="#729db9"/>
<rect x="567.44" y="110.00" width="4.76" height="5.30" fill="#1774a2"/>
<rect x="567.44" y="114.80" width="4.76" height="28.20" fill="#1e5585"/>
<rect x="567.44" y="142.50" width="4.76" height="5.00" fill="#c6e0ec"/>
<rect x="567.44" y="147.00" width="4.76" height="6.10" fill="#0d2a6a"/>
<rect x="567.44" y="152.60" width="4.76" height="3.30" fill="#c6e0ec"/>
<rect x="567.44" y="155.40" width="4.76" height="20.80" fill="#96c2a4"/>
<rect x="567.44" y="175.70" width="4.76" height="2.30" fill="#1ab4e8"/>
<rect x="567.44" y="177.50" width="4.76" height="10.70" fill="#fde6cc"/>
<rect x="567.44" y="187.70" width="4.76" height="7.80" fill="#fbd01e"/>
<rect x="567.44" y="195.00" width="4.76" height="16.20" fill="#800080"/>
<rect x="567.44" y="210.70" width="4.76" height="4.50" fill="#ffffff"/>
<rect x="567.44" y="214.70" width="4.76" height="26.40" fill="#cd3545"/>
<rect x="567.44" y="240.60" width="4.76" height="4.90" fill="#bf636f"/>
<rect x="571.61" y="51.00" width="4.76" height="68.00" fill="#a9a9a9"/>
<rect x="571.61" y="118.50" width="4.76" height="2.30" fill="#dadada"/>
<rect x="571.61" y="120.30" width="4.76" height="7.90" fill="#6e6e6e"/>
<rect x="571.61" y="127.70" width="4.76" height="7.00" fill="#729db9"/>
<rect x="571.61" y="134.20" width="4.76" height="6.00" fill="#1774a2"/>
<rect x="571.61" y="139.70" width="4.76" height="8.80" fill="#1e5585"/>
<rect x="571.61" y="148.00" width="4.76" height="6.10" fill="#0d2a6a"/>
<rect x="571.61" y="153.60" width="4.76" height="53.60" fill="#96c2a4"/>
<rect x="571.61" y="206.70" width="4.76" height="1.80" fill="#1ab4e8"/>
<rect x="571.61" y="208.00" width="4.76" height="8.50" fill="#fbd01e"/>
<rect x="571.61" y="216.00" width="4.76" height="3.20" fill="#800080"/>
<rect x="571.61" y="218.70" width="4.76" height="3.80" fill="#ffffff"/>
<rect x="571.61" y="222.00" width="4.76" height="4.40" fill="#fdd0d0"/>
<rect x="571.61" y="225.90" width="4.76" height="8.30" fill="#cd3545"/>
<rect x="571.61" y="233.70" width="4.76" height="11.80" fill="#bf636f"/>
<rect x="575.77" y="51.00" width="4.76" height="43.00" fill="#a9a9a9"/>
<rect x="575.77" y="93.50" width="4.76" height="2.30" fill="#6e6e6e"/>
<rect x="575.77" y="95.30" width="4.76" height="9.80" fill="#1774a2"/>
<rect x="575.77" y="104.60" width="4.76" height="5.90" fill="#c6e0ec"/>
<rect x="575.77" y="110.00" width="4.76" height="15.50" fill="#0d2a6a"/>
<rect x="575.77" y="125.00" width="4.76" height="6.50" fill="#c6e0ec"/>
<rect x="575.77" y="131.00" width="4.76" height="70.10" fill="#96c2a4"/>
<rect x="575.77" y="200.60" width="4.76" height="5.20" fill="#2e8b36"/>
<rect x="575.77" y="205.30" width="4.76" height="12.60" fill="#fde6cc"/>
<rect x="575.77" y="217.40" width="4.76" height="5.10" fill="#fd7f00"/>
<rect x="575.77" y="222.00" width="4.76" height="3.40" fill="#800080"/>
<rect x="575.77" y="224.90" width="4.76" height="3.50" fill="#c9a0dc"/>
<rect x="575.77" y="227.90" width="4.76" height="6.30" fill="#ffffff"/>
<rect x="575.77" y="233.70" width="4.76" height="6.40" fill="#fdd0d0"/>
<rect x="575.77" y="239.60" width="4.76" height="5.90" fill="#cd3545"/>
<rect x="579.93" y="51.00" width="4.76" height="55.00" fill="#a9a9a9"/>
<rect x="579.93" y="105.50" width="4.76" height="2.00" fill="#dadada"/>
<rect x="579.93" y="107.00" width="4.76" height="2.50" fill="#c6e0ec"/>
<rect x="579.93" y="109.00" width="4.76" height="2.50" fill="#588aad"/>
<rect x="579.93" y="111.00" width="4.76" height="11.70" fill="#0d2a6a"/>
<rect x="579.93" y="122.20" width="4.76" height="7.80" fill="#c6e0ec"/>
<rect x="579.93" y="129.50" width="4.76" height="38.40" fill="#96c2a4"/>
<rect x="579.93" y="167.40" width="4.76" height="3.30" fill="#2e8b36"/>
<rect x="579.93" y="170.20" width="4.76" height="41.00" fill="#c4e2b4"/>
<rect x="579.93" y="210.70" width="4.76" height="2.50" fill="#1ab4e8"/>
<rect x="579.93" y="212.70" width="4.76" height="7.80" fill="#fde68a"/>
<rect x="579.93" y="220.00" width="4.76" height="6.40" fill="#fd7f00"/>
<rect x="579.93" y="225.90" width="4.76" height="7.40" fill="#f44a3a"/>
<rect x="579.93" y="232.80" width="4.76" height="1.40" fill="#800080"/>
<rect x="579.93" y="233.70" width="4.76" height="6.40" fill="#fdd0d0"/>
<rect x="579.93" y="239.60" width="4.76" height="5.90" fill="#cd3545"/>
<rect x="584.09" y="51.00" width="4.76" height="45.20" fill="#a9a9a9"/>
<rect x="584.09" y="95.70" width="4.76" height="9.40" fill="#dadada"/>
<rect x="584.09" y="104.60" width="4.76" height="5.10" fill="#729db9"/>
<rect x="584.09" y="109.20" width="4.76" height="41.20" fill="#1774a2"/>
<rect x="584.09" y="149.90" width="4.76" height="6.00" fill="#9bbdd4"/>
<rect x="584.09" y="155.40" width="4.76" height="12.50" fill="#0d2a6a"/>
<rect x="584.09" y="167.40" width="4.76" height="2.30" fill="#c6e0ec"/>
<rect x="584.09" y="169.20" width="4.76" height="19.90" fill="#96c2a4"/>
<rect x="584.09" y="188.60" width="4.76" height="6.90" fill="#f0a800"/>
<rect x="584.09" y="195.00" width="4.76" height="6.10" fill="#800080"/>
<rect x="584.09" y="200.60" width="4.76" height="6.60" fill="#c9a0dc"/>
<rect x="584.09" y="206.70" width="4.76" height="5.80" fill="#ffffff"/>
<rect x="584.09" y="212.00" width="4.76" height="3.20" fill="#fdd0d0"/>
<rect x="584.09" y="214.70" width="4.76" height="23.50" fill="#cd3545"/>
<rect x="584.09" y="237.70" width="4.76" height="7.80" fill="#bf636f"/>
<rect x="588.26" y="51.00" width="4.76" height="41.50" fill="#a9a9a9"/>
<rect x="588.26" y="92.00" width="4.76" height="2.00" fill="#dadada"/>
<rect x="588.26" y="93.50" width="4.76" height="7.00" fill="#1774a2"/>
<rect x="588.26" y="100.00" width="4.76" height="13.40" fill="#1e5585"/>
<rect x="588.26" y="112.90" width="4.76" height="4.20" fill="#0d2a6a"/>
<rect x="588.26" y="116.60" width="4.76" height="9.80" fill="#c6e0ec"/>
<rect x="588.26" y="125.90" width="4.76" height="70.60" fill="#257a52"/>
<rect x="588.26" y="196.00" width="4.76" height="7.00" fill="#f0a800"/>
<rect x="588.26" y="202.50" width="4.76" height="3.30" fill="#800080"/>
<rect x="588.26" y="205.30" width="4.76" height="25.00" fill="#c9a0dc"/>
<rect x="588.26" y="229.80" width="4.76" height="2.50" fill="#fdd0d0"/>
<rect x="588.26" y="231.80" width="4.76" height="8.30" fill="#cd3545"/>
<rect x="588.26" y="239.60" width="4.76" height="5.90" fill="#bf636f"/>
<rect x="592.42" y="51.00" width="4.76" height="55.90" fill="#a9a9a9"/>
<rect x="592.42" y="106.40" width="4.76" height="6.10" fill="#dadada"/>
<rect x="592.42" y="112.00" width="4.76" height="8.80" fill="#88afc6"/>
<rect x="592.42" y="120.30" width="4.76" height="25.40" fill="#1e5585"/>
<rect x="592.42" y="145.20" width="4.76" height="6.30" fill="#0d2a6a"/>
<rect x="592.42" y="151.00" width="4.76" height="16.90" fill="#c6e0ec"/>
<rect x="592.42" y="167.40" width="4.76" height="30.00" fill="#96c2a4"/>
<rect x="592.42" y="196.90" width="4.76" height="6.10" fill="#2e8b36"/>
<rect x="592.42" y="202.50" width="4.76" height="1.50" fill="#1ab4e8"/>
<rect x="592.42" y="203.50" width="4.76" height="10.40" fill="#fde6cc"/>
<rect x="592.42" y="213.40" width="4.76" height="5.10" fill="#fd7f00"/>
<rect x="592.42" y="218.00" width="4.76" height="6.50" fill="#f44a3a"/>
<rect x="592.42" y="224.00" width="4.76" height="4.40" fill="#800080"/>
<rect x="592.42" y="227.90" width="4.76" height="7.30" fill="#ffffff"/>
<rect x="592.42" y="234.70" width="4.76" height="10.80" fill="#cd3545"/>
<rect x="596.58" y="51.00" width="4.76" height="24.50" fill="#a9a9a9"/>
<rect x="596.58" y="75.00" width="4.76" height="10.70" fill="#dadada"/>
<rect x="596.58" y="85.20" width="4.76" height="10.60" fill="#88afc6"/>
<rect x="596.58" y="95.30" width="4.76" height="29.20" fill="#1e5585"/>
<rect x="596.58" y="124.00" width="4.76" height="3.30" fill="#0d2a6a"/>
<rect x="596.58" y="126.80" width="4.76" height="17.10" fill="#96c2a4"/>
<rect x="596.58" y="143.40" width="4.76" height="3.30" fill="#2e8b36"/>
<rect x="596.58" y="146.20" width="4.76" height="8.80" fill="#fde6cc"/>
<rect x="596.58" y="154.50" width="4.76" height="5.10" fill="#fde68a"/>
<rect x="596.58" y="159.10" width="4.76" height="3.40" fill="#fd7f00"/>
<rect x="596.58" y="162.00" width="4.76" height="5.90" fill="#800080"/>
<rect x="596.58" y="167.40" width="4.76" height="3.30" fill="#c9a0dc"/>
<rect x="596.58" y="170.20" width="4.76" height="4.20" fill="#ffffff"/>
<rect x="596.58" y="173.90" width="4.76" height="67.20" fill="#cd3545"/>
<rect x="596.58" y="240.60" width="4.76" height="4.90" fill="#bf636f"/>
<rect x="600.75" y="51.00" width="4.76" height="169.50" fill="#a9a9a9"/>
<rect x="600.75" y="220.00" width="4.76" height="2.50" fill="#386c95"/>
<rect x="600.75" y="222.00" width="4.76" height="6.40" fill="#c6e0ec"/>
<rect x="600.75" y="227.90" width="4.76" height="5.40" fill="#96c2a4"/>
<rect x="600.75" y="232.80" width="4.76" height="7.30" fill="#2e8b36"/>
<rect x="600.75" y="239.60" width="4.76" height="2.50" fill="#fbd01e"/>
<rect x="600.75" y="241.60" width="4.76" height="3.90" fill="#cd3545"/>
<rect x="604.91" y="51.00" width="4.76" height="194.50" fill="#a9a9a9"/>
<rect x="609.07" y="51.00" width="4.76" height="44.80" fill="#a9a9a9"/>
<rect x="609.07" y="95.30" width="4.76" height="2.40" fill="#dadada"/>
<rect x="609.07" y="97.20" width="4.76" height="25.50" fill="#88afc6"/>
<rect x="609.07" y="122.20" width="4.76" height="15.20" fill="#1774a2"/>
<rect x="609.07" y="136.90" width="4.76" height="15.30" fill="#1e5585"/>
<rect x="609.07" y="151.70" width="4.76" height="6.00" fill="#c6e0ec"/>
<rect x="609.07" y="157.20" width="4.76" height="29.20" fill="#96c2a4"/>
<rect x="609.07" y="185.90" width="4.76" height="4.10" fill="#2e8b36"/>
<rect x="609.07" y="189.50" width="4.76" height="12.50" fill="#fde6cc"/>
<rect x="609.07" y="201.50" width="4.76" height="3.30" fill="#fd7f00"/>
<rect x="609.07" y="204.30" width="4.76" height="30.90" fill="#800080"/>
<rect x="609.07" y="234.70" width="4.76" height="3.50" fill="#c9a0dc"/>
<rect x="609.07" y="237.70" width="4.76" height="5.30" fill="#ffffff"/>
<rect x="609.07" y="242.50" width="4.76" height="3.00" fill="#cd3545"/>
<rect x="613.23" y="51.00" width="4.76" height="35.60" fill="#a9a9a9"/>
<rect x="613.23" y="86.10" width="4.76" height="14.40" fill="#88afc6"/>
<rect x="613.23" y="100.00" width="4.76" height="5.10" fill="#1774a2"/>
<rect x="613.23" y="104.60" width="4.76" height="12.50" fill="#1e5585"/>
<rect x="613.23" y="116.60" width="4.76" height="4.20" fill="#c6e0ec"/>
<rect x="613.23" y="120.30" width="4.76" height="7.90" fill="#0d2a6a"/>
<rect x="613.23" y="127.70" width="4.76" height="4.20" fill="#c6e0ec"/>
<rect x="613.23" y="131.40" width="4.76" height="47.60" fill="#96c2a4"/>
<rect x="613.23" y="178.50" width="4.76" height="4.20" fill="#2e8b36"/>
<rect x="613.23" y="182.20" width="4.76" height="3.30" fill="#fde6cc"/>
<rect x="613.23" y="185.00" width="4.76" height="4.10" fill="#fd7f00"/>
<rect x="613.23" y="188.60" width="4.76" height="2.40" fill="#fbd01e"/>
<rect x="613.23" y="190.50" width="4.76" height="8.80" fill="#800080"/>
<rect x="613.23" y="198.80" width="4.76" height="6.90" fill="#ffffff"/>
<rect x="613.23" y="205.20" width="4.76" height="40.30" fill="#cd3545"/>
<rect x="617.40" y="51.00" width="4.76" height="39.30" fill="#a9a9a9"/>
<rect x="617.40" y="89.80" width="4.76" height="5.10" fill="#dadada"/>
<rect x="617.40" y="94.40" width="4.76" height="7.90" fill="#88afc6"/>
<rect x="617.40" y="101.80" width="4.76" height="8.70" fill="#1774a2"/>
<rect x="617.40" y="110.00" width="4.76" height="13.50" fill="#1e5585"/>
<rect x="617.40" y="123.00" width="4.76" height="5.20" fill="#c6e0ec"/>
<rect x="617.40" y="127.70" width="4.76" height="6.00" fill="#0d2a6a"/>
<rect x="617.40" y="133.20" width="4.76" height="43.00" fill="#96c2a4"/>
<rect x="617.40" y="175.70" width="4.76" height="3.30" fill="#2e8b36"/>
<rect x="617.40" y="178.50" width="4.76" height="9.70" fill="#fde6cc"/>
<rect x="617.40" y="187.70" width="4.76" height="3.30" fill="#fbd01e"/>
<rect x="617.40" y="190.50" width="4.76" height="3.20" fill="#fd7f00"/>
<rect x="617.40" y="193.20" width="4.76" height="11.30" fill="#800080"/>
<rect x="617.40" y="204.00" width="4.76" height="10.50" fill="#ffffff"/>
<rect x="617.40" y="214.00" width="4.76" height="28.50" fill="#cd3545"/>
<rect x="617.40" y="242.00" width="4.76" height="3.50" fill="#bf636f"/>
<rect x="621.56" y="51.00" width="4.76" height="37.40" fill="#a9a9a9"/>
<rect x="621.56" y="87.90" width="4.76" height="2.40" fill="#dadada"/>
<rect x="621.56" y="89.80" width="4.76" height="10.70" fill="#6e6e6e"/>
<rect x="621.56" y="100.00" width="4.76" height="6.90" fill="#88afc6"/>
<rect x="621.56" y="106.40" width="4.76" height="4.10" fill="#1774a2"/>
<rect x="621.56" y="110.00" width="4.76" height="12.70" fill="#1e5585"/>
<rect x="621.56" y="122.20" width="4.76" height="3.30" fill="#c6e0ec"/>
<rect x="621.56" y="125.00" width="4.76" height="6.00" fill="#0d2a6a"/>
<rect x="621.56" y="130.50" width="4.76" height="4.20" fill="#c6e0ec"/>
<rect x="621.56" y="134.20" width="4.76" height="41.10" fill="#96c2a4"/>
<rect x="621.56" y="174.80" width="4.76" height="7.90" fill="#fde6cc"/>
<rect x="621.56" y="182.20" width="4.76" height="4.20" fill="#fd7f00"/>
<rect x="621.56" y="185.90" width="4.76" height="9.60" fill="#800080"/>
<rect x="621.56" y="195.00" width="4.76" height="6.10" fill="#ffffff"/>
<rect x="621.56" y="200.60" width="4.76" height="26.10" fill="#cd3545"/>
<rect x="621.56" y="226.20" width="4.76" height="14.20" fill="#bf636f"/>
<rect x="621.56" y="239.90" width="4.76" height="5.60" fill="#d9b9bf"/>
<rect x="625.72" y="51.00" width="4.76" height="42.10" fill="#a9a9a9"/>
<rect x="625.72" y="92.60" width="4.76" height="4.10" fill="#dadada"/>
<rect x="625.72" y="96.20" width="4.76" height="7.90" fill="#88afc6"/>
<rect x="625.72" y="103.60" width="4.76" height="11.70" fill="#1774a2"/>
<rect x="625.72" y="114.80" width="4.76" height="20.70" fill="#1e5585"/>
<rect x="625.72" y="135.00" width="4.76" height="8.90" fill="#c6e0ec"/>
<rect x="625.72" y="143.40" width="4.76" height="6.10" fill="#0d2a6a"/>
<rect x="625.72" y="149.00" width="4.76" height="2.30" fill="#c6e0ec"/>
<rect x="625.72" y="150.80" width="4.76" height="31.90" fill="#96c2a4"/>
<rect x="625.72" y="182.20" width="4.76" height="8.80" fill="#2e8b36"/>
<rect x="625.72" y="190.50" width="4.76" height="6.90" fill="#fde6cc"/>
<rect x="625.72" y="196.90" width="4.76" height="6.10" fill="#fde68a"/>
<rect x="625.72" y="202.50" width="4.76" height="3.20" fill="#fd7f00"/>
<rect x="625.72" y="205.20" width="4.76" height="12.00" fill="#800080"/>
<rect x="625.72" y="216.70" width="4.76" height="7.90" fill="#ffffff"/>
<rect x="625.72" y="224.10" width="4.76" height="21.40" fill="#cd3545"/>
<rect x="629.88" y="51.00" width="4.76" height="39.30" fill="#a9a9a9"/>
<rect x="629.88" y="89.80" width="4.76" height="2.30" fill="#dadada"/>
<rect x="629.88" y="91.60" width="4.76" height="6.10" fill="#88afc6"/>
<rect x="629.88" y="97.20" width="4.76" height="9.70" fill="#1774a2"/>
<rect x="629.88" y="106.40" width="4.76" height="15.30" fill="#0d2a6a"/>
<rect x="629.88" y="121.20" width="4.76" height="4.20" fill="#c6e0ec"/>
<rect x="629.88" y="124.90" width="4.76" height="35.60" fill="#96c2a4"/>
<rect x="629.88" y="160.00" width="4.76" height="4.20" fill="#2e8b36"/>
<rect x="629.88" y="163.70" width="4.76" height="6.00" fill="#1ab4e8"/>
<rect x="629.88" y="169.20" width="4.76" height="7.90" fill="#fde6cc"/>
<rect x="629.88" y="176.60" width="4.76" height="6.10" fill="#fbd01e"/>
<rect x="629.88" y="182.20" width="4.76" height="6.00" fill="#fd7f00"/>
<rect x="629.88" y="187.70" width="4.76" height="7.80" fill="#800080"/>
<rect x="629.88" y="195.00" width="4.76" height="6.10" fill="#ffffff"/>
<rect x="629.88" y="200.60" width="4.76" height="6.10" fill="#fdd0d0"/>
<rect x="629.88" y="206.20" width="4.76" height="39.30" fill="#cd3545"/>
<rect x="634.05" y="51.00" width="4.76" height="42.10" fill="#a9a9a9"/>
<rect x="634.05" y="92.60" width="4.76" height="5.10" fill="#729db9"/>
<rect x="634.05" y="97.20" width="4.76" height="8.30" fill="#1774a2"/>
<rect x="634.05" y="105.00" width="4.76" height="18.50" fill="#0d2a6a"/>
<rect x="634.05" y="123.00" width="4.76" height="8.00" fill="#c6e0ec"/>
<rect x="634.05" y="130.50" width="4.76" height="37.40" fill="#96c2a4"/>
<rect x="634.05" y="167.40" width="4.76" height="1.40" fill="#2e8b36"/>
<rect x="634.05" y="168.30" width="4.76" height="12.50" fill="#fde6cc"/>
<rect x="634.05" y="180.30" width="4.76" height="4.20" fill="#f44a3a"/>
<rect x="634.05" y="184.00" width="4.76" height="7.90" fill="#800080"/>
<rect x="634.05" y="191.40" width="4.76" height="9.70" fill="#ffffff"/>
<rect x="634.05" y="200.60" width="4.76" height="7.90" fill="#fdd0d0"/>
<rect x="634.05" y="208.00" width="4.76" height="33.40" fill="#cd3545"/>
<rect x="634.05" y="240.90" width="4.76" height="4.60" fill="#bf636f"/>
<rect x="638.21" y="51.00" width="4.76" height="54.10" fill="#a9a9a9"/>
<rect x="638.21" y="104.60" width="4.76" height="2.30" fill="#dadada"/>
<rect x="638.21" y="106.40" width="4.76" height="45.80" fill="#88afc6"/>
<rect x="638.21" y="151.70" width="4.76" height="6.00" fill="#1e5585"/>
<rect x="638.21" y="157.20" width="4.76" height="5.30" fill="#c6e0ec"/>
<rect x="638.21" y="162.00" width="4.76" height="7.70" fill="#0d2a6a"/>
<rect x="638.21" y="169.20" width="4.76" height="7.90" fill="#c6e0ec"/>
<rect x="638.21" y="176.60" width="4.76" height="24.50" fill="#96c2a4"/>
<rect x="638.21" y="200.60" width="4.76" height="5.20" fill="#2e8b36"/>
<rect x="638.21" y="205.30" width="4.76" height="3.20" fill="#1ab4e8"/>
<rect x="638.21" y="208.00" width="4.76" height="8.50" fill="#fde68a"/>
<rect x="638.21" y="216.00" width="4.76" height="5.90" fill="#fd7f00"/>
<rect x="638.21" y="221.40" width="4.76" height="7.40" fill="#f44a3a"/>
<rect x="638.21" y="228.30" width="4.76" height="1.60" fill="#800080"/>
<rect x="638.21" y="229.40" width="4.76" height="5.70" fill="#fdd0d0"/>
<rect x="638.21" y="234.60" width="4.76" height="6.80" fill="#cd3545"/>
<rect x="638.21" y="240.90" width="4.76" height="4.60" fill="#bf636f"/>
<rect x="642.37" y="51.00" width="4.76" height="24.50" fill="#a9a9a9"/>
<rect x="642.37" y="75.00" width="4.76" height="2.40" fill="#dadada"/>
<rect x="642.37" y="76.90" width="4.76" height="2.30" fill="#6e6e6e"/>
<rect x="642.37" y="78.70" width="4.76" height="55.00" fill="#1774a2"/>
<rect x="642.37" y="133.20" width="4.76" height="4.30" fill="#c6e0ec"/>
<rect x="642.37" y="137.00" width="4.76" height="6.00" fill="#0d2a6a"/>
<rect x="642.37" y="142.50" width="4.76" height="6.00" fill="#c6e0ec"/>
<rect x="642.37" y="148.00" width="4.76" height="47.50" fill="#96c2a4"/>
<rect x="642.37" y="195.00" width="4.76" height="8.00" fill="#2e8b36"/>
<rect x="642.37" y="202.50" width="4.76" height="11.50" fill="#fde6cc"/>
<rect x="642.37" y="213.50" width="4.76" height="2.40" fill="#fd7f00"/>
<rect x="642.37" y="215.40" width="4.76" height="7.10" fill="#800080"/>
<rect x="642.37" y="222.00" width="4.76" height="7.30" fill="#c9a0dc"/>
<rect x="642.37" y="228.80" width="4.76" height="5.30" fill="#ffffff"/>
<rect x="642.37" y="233.60" width="4.76" height="11.90" fill="#cd3545"/>
<rect x="646.54" y="51.00" width="4.76" height="44.80" fill="#a9a9a9"/>
<rect x="646.54" y="95.30" width="4.76" height="4.60" fill="#dadada"/>
<rect x="646.54" y="99.40" width="4.76" height="9.40" fill="#6e6e6e"/>
<rect x="646.54" y="108.30" width="4.76" height="2.20" fill="#729db9"/>
<rect x="646.54" y="110.00" width="4.76" height="21.90" fill="#1e5585"/>
<rect x="646.54" y="131.40" width="4.76" height="7.00" fill="#0d2a6a"/>
<rect x="646.54" y="137.90" width="4.76" height="6.00" fill="#c6e0ec"/>
<rect x="646.54" y="143.40" width="4.76" height="65.10" fill="#96c2a4"/>
<rect x="646.54" y="208.00" width="4.76" height="3.80" fill="#2e8b36"/>
<rect x="646.54" y="211.30" width="4.76" height="6.60" fill="#fd7f00"/>
<rect x="646.54" y="217.40" width="4.76" height="5.10" fill="#f44a3a"/>
<rect x="646.54" y="222.00" width="4.76" height="4.70" fill="#fd7f00"/>
<rect x="646.54" y="226.20" width="4.76" height="4.20" fill="#800080"/>
<rect x="646.54" y="229.90" width="4.76" height="3.10" fill="#fdd0d0"/>
<rect x="646.54" y="232.50" width="4.76" height="10.00" fill="#cd3545"/>
<rect x="646.54" y="242.00" width="4.76" height="3.50" fill="#bf636f"/>
<rect x="650.70" y="51.00" width="4.76" height="40.20" fill="#a9a9a9"/>
<rect x="650.70" y="90.70" width="4.76" height="4.20" fill="#dadada"/>
<rect x="650.70" y="94.40" width="4.76" height="4.10" fill="#1774a2"/>
<rect x="650.70" y="98.00" width="4.76" height="10.80" fill="#0d2a6a"/>
<rect x="650.70" y="108.30" width="4.76" height="7.00" fill="#c6e0ec"/>
<rect x="650.70" y="114.80" width="4.76" height="29.10" fill="#96c2a4"/>
<rect x="650.70" y="143.40" width="4.76" height="2.30" fill="#2e8b36"/>
<rect x="650.70" y="145.20" width="4.76" height="66.60" fill="#c4e2b4"/>
<rect x="650.70" y="211.30" width="4.76" height="3.20" fill="#1ab4e8"/>
<rect x="650.70" y="214.00" width="4.76" height="7.90" fill="#fde68a"/>
<rect x="650.70" y="221.40" width="4.76" height="1.10" fill="#fd7f00"/>
<rect x="650.70" y="222.00" width="4.76" height="3.70" fill="#fbd01e"/>
<rect x="650.70" y="225.20" width="4.76" height="7.80" fill="#fd7f00"/>
<rect x="650.70" y="232.50" width="4.76" height="5.80" fill="#fdd0d0"/>
<rect x="650.70" y="237.80" width="4.76" height="7.70" fill="#cd3545"/>
<rect x="654.86" y="51.00" width="4.76" height="34.70" fill="#a9a9a9"/>
<rect x="654.86" y="85.20" width="4.76" height="2.30" fill="#dadada"/>
<rect x="654.86" y="87.00" width="4.76" height="12.50" fill="#88afc6"/>
<rect x="654.86" y="99.00" width="4.76" height="40.30" fill="#386c95"/>
<rect x="654.86" y="138.80" width="4.76" height="4.20" fill="#1774a2"/>
<rect x="654.86" y="142.50" width="4.76" height="11.60" fill="#1e5585"/>
<rect x="654.86" y="153.60" width="4.76" height="5.90" fill="#0d2a6a"/>
<rect x="654.86" y="159.00" width="4.76" height="6.50" fill="#c6e0ec"/>
<rect x="654.86" y="165.00" width="4.76" height="15.80" fill="#96c2a4"/>
<rect x="654.86" y="180.30" width="4.76" height="14.40" fill="#1ab4e8"/>
<rect x="654.86" y="194.20" width="4.76" height="6.00" fill="#fde6cc"/>
<rect x="654.86" y="199.70" width="4.76" height="3.30" fill="#fd7f00"/>
<rect x="654.86" y="202.50" width="4.76" height="8.70" fill="#800080"/>
<rect x="654.86" y="210.70" width="4.76" height="3.20" fill="#ffffff"/>
<rect x="654.86" y="213.40" width="4.76" height="25.90" fill="#cd3545"/>
<rect x="654.86" y="238.80" width="4.76" height="4.70" fill="#bf636f"/>
<rect x="654.86" y="243.00" width="4.76" height="2.50" fill="#d9b9bf"/>
<rect x="659.02" y="51.00" width="4.76" height="36.50" fill="#a9a9a9"/>
<rect x="659.02" y="87.00" width="4.76" height="4.80" fill="#dadada"/>
<rect x="659.02" y="91.30" width="4.76" height="3.60" fill="#6e6e6e"/>
<rect x="659.02" y="94.40" width="4.76" height="7.90" fill="#88afc6"/>
<rect x="659.02" y="101.80" width="4.76" height="3.30" fill="#1774a2"/>
<rect x="659.02" y="104.60" width="4.76" height="16.20" fill="#1e5585"/>
<rect x="659.02" y="120.30" width="4.76" height="7.90" fill="#0d2a6a"/>
<rect x="659.02" y="127.70" width="4.76" height="5.10" fill="#c6e0ec"/>
<rect x="659.02" y="132.30" width="4.76" height="45.70" fill="#96c2a4"/>
<rect x="659.02" y="177.50" width="4.76" height="3.30" fill="#2e8b36"/>
<rect x="659.02" y="180.30" width="4.76" height="6.20" fill="#1ab4e8"/>
<rect x="659.02" y="186.00" width="4.76" height="9.50" fill="#fbd01e"/>
<rect x="659.02" y="195.00" width="4.76" height="6.10" fill="#fd7f00"/>
<rect x="659.02" y="200.60" width="4.76" height="7.90" fill="#800080"/>
<rect x="659.02" y="208.00" width="4.76" height="9.90" fill="#ffffff"/>
<rect x="659.02" y="217.40" width="4.76" height="23.50" fill="#cd3545"/>
<rect x="659.02" y="240.40" width="4.76" height="5.10" fill="#bf636f"/>
<rect x="663.19" y="51.00" width="4.76" height="34.70" fill="#a9a9a9"/>
<rect x="663.19" y="85.20" width="4.76" height="10.60" fill="#dadada"/>
<rect x="663.19" y="95.30" width="4.76" height="9.80" fill="#88afc6"/>
<rect x="663.19" y="104.60" width="4.76" height="3.30" fill="#1774a2"/>
<rect x="663.19" y="107.40" width="4.76" height="7.90" fill="#1e5585"/>
<rect x="663.19" y="114.80" width="4.76" height="9.70" fill="#0d2a6a"/>
<rect x="663.19" y="124.00" width="4.76" height="6.00" fill="#c6e0ec"/>
<rect x="663.19" y="129.50" width="4.76" height="31.00" fill="#96c2a4"/>
<rect x="663.19" y="160.00" width="4.76" height="6.00" fill="#1ab4e8"/>
<rect x="663.19" y="165.50" width="4.76" height="6.00" fill="#fde68a"/>
<rect x="663.19" y="171.00" width="4.76" height="4.30" fill="#fbd01e"/>
<rect x="663.19" y="174.80" width="4.76" height="6.00" fill="#fd7f00"/>
<rect x="663.19" y="180.30" width="4.76" height="10.70" fill="#800080"/>
<rect x="663.19" y="190.50" width="4.76" height="6.90" fill="#ffffff"/>
<rect x="663.19" y="196.90" width="4.76" height="44.00" fill="#cd3545"/>
<rect x="663.19" y="240.40" width="4.76" height="5.10" fill="#bf636f"/>
<rect x="667.35" y="51.00" width="4.76" height="37.40" fill="#a9a9a9"/>
<rect x="667.35" y="87.90" width="4.76" height="6.10" fill="#6e6e6e"/>
<rect x="667.35" y="93.50" width="4.76" height="7.90" fill="#88afc6"/>
<rect x="667.35" y="100.90" width="4.76" height="7.00" fill="#1e5585"/>
<rect x="667.35" y="107.40" width="4.76" height="7.90" fill="#0d2a6a"/>
<rect x="667.35" y="114.80" width="4.76" height="4.20" fill="#c6e0ec"/>
<rect x="667.35" y="118.50" width="4.76" height="32.80" fill="#96c2a4"/>
<rect x="667.35" y="150.80" width="4.76" height="7.70" fill="#fd7f00"/>
<rect x="667.35" y="158.00" width="4.76" height="10.80" fill="#ffffff"/>
<rect x="667.35" y="168.30" width="4.76" height="62.60" fill="#cd3545"/>
<rect x="667.35" y="230.40" width="4.76" height="15.10" fill="#bf636f"/>
<rect x="671.51" y="51.00" width="4.76" height="30.00" fill="#a9a9a9"/>
<rect x="671.51" y="80.50" width="4.76" height="2.40" fill="#6e6e6e"/>
<rect x="671.51" y="82.40" width="4.76" height="5.10" fill="#88afc6"/>
<rect x="671.51" y="87.00" width="4.76" height="6.10" fill="#1774a2"/>
<rect x="671.51" y="92.60" width="4.76" height="26.40" fill="#1e5585"/>
<rect x="671.51" y="118.50" width="4.76" height="16.20" fill="#0d2a6a"/>
<rect x="671.51" y="134.20" width="4.76" height="3.30" fill="#c6e0ec"/>
<rect x="671.51" y="137.00" width="4.76" height="56.70" fill="#96c2a4"/>
<rect x="671.51" y="193.20" width="4.76" height="3.30" fill="#2e8b36"/>
<rect x="671.51" y="196.00" width="4.76" height="7.00" fill="#fde6cc"/>
<rect x="671.51" y="202.50" width="4.76" height="7.00" fill="#fde68a"/>
<rect x="671.51" y="209.00" width="4.76" height="6.90" fill="#fd7f00"/>
<rect x="671.51" y="215.40" width="4.76" height="5.10" fill="#800080"/>
<rect x="671.51" y="220.00" width="4.76" height="2.50" fill="#ffffff"/>
<rect x="671.51" y="222.00" width="4.76" height="4.70" fill="#fdd0d0"/>
<rect x="671.51" y="226.20" width="4.76" height="19.30" fill="#cd3545"/>
<rect x="675.67" y="51.00" width="4.76" height="36.50" fill="#a9a9a9"/>
<rect x="675.67" y="87.00" width="4.76" height="7.00" fill="#dadada"/>
<rect x="675.67" y="93.50" width="4.76" height="7.90" fill="#6e6e6e"/>
<rect x="675.67" y="100.90" width="4.76" height="3.60" fill="#88afc6"/>
<rect x="675.67" y="104.00" width="4.76" height="15.00" fill="#1774a2"/>
<rect x="675.67" y="118.50" width="4.76" height="11.50" fill="#1e5585"/>
<rect x="675.67" y="129.50" width="4.76" height="6.00" fill="#0d2a6a"/>
<rect x="675.67" y="135.00" width="4.76" height="2.50" fill="#c6e0ec"/>
<rect x="675.67" y="137.00" width="4.76" height="56.70" fill="#96c2a4"/>
<rect x="675.67" y="193.20" width="4.76" height="3.30" fill="#2e8b36"/>
<rect x="675.67" y="196.00" width="4.76" height="7.00" fill="#fde6cc"/>
<rect x="675.67" y="202.50" width="4.76" height="4.70" fill="#fbd01e"/>
<rect x="675.67" y="206.70" width="4.76" height="7.20" fill="#fd7f00"/>
<rect x="675.67" y="213.40" width="4.76" height="7.10" fill="#800080"/>
<rect x="675.67" y="220.00" width="4.76" height="8.80" fill="#ffffff"/>
<rect x="675.67" y="228.30" width="4.76" height="2.60" fill="#fdd0d0"/>
<rect x="675.67" y="230.40" width="4.76" height="6.80" fill="#cd3545"/>
<rect x="675.67" y="236.70" width="4.76" height="8.80" fill="#bf636f"/>
<rect x="679.84" y="51.00" width="4.16" height="33.70" fill="#a9a9a9"/>
<rect x="679.84" y="84.20" width="4.16" height="2.40" fill="#dadada"/>
<rect x="679.84" y="86.10" width="4.16" height="19.00" fill="#88afc6"/>
<rect x="679.84" y="104.60" width="4.16" height="14.40" fill="#1774a2"/>
<rect x="679.84" y="118.50" width="4.16" height="9.70" fill="#0d2a6a"/>
<rect x="679.84" y="127.70" width="4.16" height="4.20" fill="#c6e0ec"/>
<rect x="679.84" y="131.40" width="4.16" height="40.10" fill="#96c2a4"/>
<rect x="679.84" y="171.00" width="4.16" height="3.40" fill="#2e8b36"/>
<rect x="679.84" y="173.90" width="4.16" height="14.30" fill="#fde6cc"/>
<rect x="679.84" y="187.70" width="4.16" height="4.20" fill="#fbd01e"/>
<rect x="679.84" y="191.40" width="4.16" height="5.10" fill="#fd7f00"/>
<rect x="679.84" y="196.00" width="4.16" height="21.90" fill="#800080"/>
<rect x="679.84" y="217.40" width="4.16" height="5.10" fill="#c9a0dc"/>
<rect x="679.84" y="222.00" width="4.16" height="2.60" fill="#800080"/>
<rect x="679.84" y="224.10" width="4.16" height="5.80" fill="#ffffff"/>
<rect x="679.84" y="229.40" width="4.16" height="16.10" fill="#cd3545"/>
</svg>
<svg width="685" height="352" viewBox="0 0 685 352">
<rect x="14.10" y="259.60" width="10.9" height="10.8" fill="#dadada" stroke="#d9d9d9" stroke-width="0.5"/>
<rect x="14.10" y="272.00" width="10.9" height="10.8" fill="#6e6e6e" stroke="#d9d9d9" stroke-width="0.5"/>
<rect x="14.10" y="293.70" width="10.9" height="10.8" fill="#88afc6" stroke="#d9d9d9" stroke-width="0.5"/>
<rect x="14.10" y="306.10" width="10.9" height="10.8" fill="#729db9" stroke="#d9d9d9" stroke-width="0.5"/>
<rect x="14.10" y="318.50" width="10.9" height="10.8" fill="#588aad" stroke="#d9d9d9" stroke-width="0.5"/>
<rect x="14.10" y="330.90" width="10.9" height="10.8" fill="#386c95" stroke="#d9d9d9" stroke-width="0.5"/>
<rect x="148.30" y="251.00" width="10.9" height="10.8" fill="#1774a2" stroke="#d9d9d9" stroke-width="0.5"/>
<rect x="148.30" y="263.40" width="10.9" height="10.8" fill="#1e5585" stroke="#d9d9d9" stroke-width="0.5"/>
<rect x="148.30" y="275.80" width="10.9" height="10.8" fill="#9bbdd4" stroke="#d9d9d9" stroke-width="0.5"/>
<rect x="148.30" y="288.20" width="10.9" height="10.8" fill="#0d2a6a" stroke="#d9d9d9" stroke-width="0.5"/>
<rect x="148.30" y="300.60" width="10.9" height="10.8" fill="#c6e0ec" stroke="#d9d9d9" stroke-width="0.5"/>
<rect x="148.30" y="313.00" width="10.9" height="10.8" fill="#1ab4e8" stroke="#d9d9d9" stroke-width="0.5"/>
<rect x="148.30" y="336.00" width="10.9" height="10.8" fill="#96c2a4" stroke="#d9d9d9" stroke-width="0.5"/>
<rect x="279.80" y="259.60" width="10.9" height="10.8" fill="#2e8b36" stroke="#d9d9d9" stroke-width="0.5"/>
<rect x="279.80" y="272.00" width="10.9" height="10.8" fill="#257a52" stroke="#d9d9d9" stroke-width="0.5"/>
<rect x="279.80" y="284.40" width="10.9" height="10.8" fill="#c4e2b4" stroke="#d9d9d9" stroke-width="0.5"/>
<rect x="279.80" y="307.90" width="10.9" height="10.8" fill="#fde6cc" stroke="#d9d9d9" stroke-width="0.5"/>
<rect x="279.80" y="330.30" width="10.9" height="10.8" fill="#fde68a" stroke="#d9d9d9" stroke-width="0.5"/>
<rect x="432.00" y="259.60" width="10.9" height="10.8" fill="#fbd01e" stroke="#d9d9d9" stroke-width="0.5"/>
<rect x="432.00" y="281.50" width="10.9" height="10.8" fill="#f0a800" stroke="#d9d9d9" stroke-width="0.5"/>
<rect x="432.00" y="304.20" width="10.9" height="10.8" fill="#fd7f00" stroke="#d9d9d9" stroke-width="0.5"/>
<rect x="432.00" y="316.60" width="10.9" height="10.8" fill="#f44a3a" stroke="#d9d9d9" stroke-width="0.5"/>
<rect x="432.00" y="329.00" width="10.9" height="10.8" fill="#800080" stroke="#d9d9d9" stroke-width="0.5"/>
<rect x="581.60" y="251.00" width="10.9" height="10.8" fill="#c9a0dc" stroke="#d9d9d9" stroke-width="0.5"/>
<rect x="581.60" y="263.40" width="10.9" height="10.8" fill="#ffffff" stroke="#d9d9d9" stroke-width="0.5"/>
<rect x="581.60" y="275.80" width="10.9" height="10.8" fill="#fdd0d0" stroke="#d9d9d9" stroke-width="0.5"/>
<rect x="581.60" y="288.20" width="10.9" height="10.8" fill="#f89a9a" stroke="#d9d9d9" stroke-width="0.5"/>
<rect x="581.60" y="300.60" width="10.9" height="10.8" fill="#cd3545" stroke="#d9d9d9" stroke-width="0.5"/>
<rect x="581.60" y="313.00" width="10.9" height="10.8" fill="#bf636f" stroke="#d9d9d9" stroke-width="0.5"/>
<rect x="581.60" y="334.90" width="10.9" height="10.8" fill="#d9b9bf" stroke="#d9d9d9" stroke-width="0.5"/>
<rect x="0" y="0" width="685" height="1.1" fill="#111"/>
<rect x="0" y="0" width="1.2" height="352" fill="#111"/>
<rect x="683.9" y="0" width="1.1" height="352" fill="#111"/>
<rect x="14" y="27.55" width="670.5" height="1.3" fill="#1a1a1a"/>
<rect x="14" y="50.55" width="670.5" height="1.3" fill="#1a1a1a"/>
<rect x="13.5" y="244.90" width="671.0" height="1.4" fill="#1a1a1a"/>
<rect x="13" y="0" width="2" height="51" fill="#6e6e6e"/>
<rect x="13.60" y="50.5" width="1.4" height="195.8" fill="#1a1a1a"/>
<rect x="221.55" y="27.8" width="1.3" height="218.5" fill="#1a1a1a"/>
<rect x="283.85" y="27.8" width="1.3" height="218.5" fill="#1a1a1a"/>
<rect x="283.85" y="0" width="1.3" height="28" fill="#1a1a1a"/>
<rect x="388.25" y="27.8" width="1.3" height="218.5" fill="#1a1a1a"/>
<rect x="491.95" y="0" width="1.3" height="246.3" fill="#1a1a1a"/>
<rect x="575.85" y="27.8" width="1.3" height="218.5" fill="#1a1a1a"/>
<rect x="11.8" y="96.50" width="2" height="0.6" fill="#999"/>
<rect x="11.8" y="146.50" width="2" height="0.6" fill="#999"/>
<rect x="11.8" y="196.50" width="2" height="0.6" fill="#999"/>
</svg>
<div style="position:absolute;left:0;top:0;width:685px;height:352px;will-change:transform">
<div class="t" style="left:13.80px;top:251.16px;font-size:8.2px;color:#1a1a1a">Verrucomicrobiota</div>
<div class="t" style="left:28.70px;top:262.60px;font-size:6.5px;color:#000">Rubritaleaceae</div>
<div class="t" style="left:28.70px;top:275.00px;font-size:6.5px;color:#000">Chthoniobacteraceae</div>
<div class="t" style="left:13.80px;top:285.36px;font-size:8.2px;color:#1a1a1a">Pseudomonadota</div>
<div class="t" style="left:28.70px;top:296.70px;font-size:6.5px;color:#000">Moraxellaceae</div>
<div class="t" style="left:28.70px;top:309.10px;font-size:6.5px;color:#000">Halieaceae</div>
<div class="t" style="left:28.70px;top:321.50px;font-size:6.5px;color:#000">Legionellaceae</div>
<div class="t" style="left:28.70px;top:333.90px;font-size:6.5px;color:#000">Vibrionaceae</div>
<div class="t" style="left:162.90px;top:254.00px;font-size:6.5px;color:#000">Coxiellaceae</div>
<div class="t" style="left:162.90px;top:266.40px;font-size:6.5px;color:#000">Paracoccaceae</div>
<div class="t" style="left:162.90px;top:278.80px;font-size:6.5px;color:#000">Rhizobiaceae</div>
<div class="t" style="left:162.90px;top:291.20px;font-size:6.5px;color:#000">Methyloligellaceae</div>
<div class="t" style="left:162.90px;top:303.60px;font-size:6.5px;color:#000">Hyphomicrobiaceae</div>
<div class="t" style="left:162.90px;top:316.00px;font-size:6.5px;color:#000">Desulfobulbaceae</div>
<div class="t" style="left:148.00px;top:326.66px;font-size:8.2px;color:#1a1a1a">Planctomycetota</div>
<div class="t" style="left:162.90px;top:339.00px;font-size:6.5px;color:#000">Pirellulaceae</div>
<div class="t" style="left:279.50px;top:251.16px;font-size:8.2px;color:#1a1a1a">Bacillota</div>
<div class="t" style="left:294.40px;top:262.60px;font-size:6.5px;color:#000">Clostridiaceae</div>
<div class="t" style="left:294.40px;top:275.00px;font-size:6.5px;color:#000">Mycoplasmataceae</div>
<div class="t" style="left:294.40px;top:287.40px;font-size:6.5px;color:#000">Lactobacillales_unclassified</div>
<div class="t" style="left:279.50px;top:298.36px;font-size:8.2px;color:#1a1a1a">Cyanobacteriota</div>
<div class="t" style="left:294.40px;top:310.90px;font-size:6.5px;color:#000">Synechococcaceae</div>
<div class="t" style="left:279.50px;top:321.46px;font-size:8.2px;color:#1a1a1a">Chloroflexota</div>
<div class="t" style="left:294.40px;top:333.30px;font-size:6.5px;color:#000">Chloroflexota_KD4−96</div>
<div class="t" style="left:431.70px;top:251.16px;font-size:8.2px;color:#1a1a1a">Bacteroidota</div>
<div class="t" style="left:446.60px;top:262.60px;font-size:6.5px;color:#000">Flavobacteriaceae</div>
<div class="t" style="left:431.70px;top:273.21px;font-size:8.2px;color:#1a1a1a">Unclassified</div>
<div class="t" style="left:446.60px;top:284.50px;font-size:6.5px;color:#000">Bacteria_unclassified</div>
<div class="t" style="left:431.70px;top:295.31px;font-size:8.2px;color:#1a1a1a">Actinomycetota</div>
<div class="t" style="left:446.60px;top:307.20px;font-size:6.5px;color:#000">Solirubrobacterales_67−14</div>
<div class="t" style="left:446.60px;top:319.60px;font-size:6.5px;color:#000">Gaiellales_uncultured</div>
<div class="t" style="left:446.60px;top:332.00px;font-size:6.5px;color:#000">PeM15_fa</div>
<div class="t" style="left:596.20px;top:254.00px;font-size:6.5px;color:#000">Mycobacteriaceae</div>
<div class="t" style="left:596.20px;top:266.40px;font-size:6.5px;color:#000">Actinomycetota_unclassified</div>
<div class="t" style="left:596.20px;top:278.80px;font-size:6.5px;color:#000">Microtrichales_uncultured</div>
<div class="t" style="left:596.20px;top:291.20px;font-size:6.5px;color:#000">Microtrichaceae</div>
<div class="t" style="left:596.20px;top:303.60px;font-size:6.5px;color:#000">Ilumatobacteraceae</div>
<div class="t" style="left:596.20px;top:316.00px;font-size:6.5px;color:#000">Actinomarinales_uncultured</div>
<div class="t" style="left:581.30px;top:326.66px;font-size:8.2px;color:#1a1a1a">Acidobacteriota</div>
<div class="t" style="left:596.20px;top:337.90px;font-size:6.5px;color:#000">Thermoanaerobaculaceae</div>
<div class="t" style="left:-49.099999999999994px;width:400px;text-align:center;top:7.34px;font-size:14.6px;font-style:italic;transform:scaleX(1.05);transform-origin:200.00px 0;color:#1a1a1a">B. luteum</div>
<div class="t" style="left:190.5px;width:400px;text-align:center;top:7.34px;font-size:14.6px;font-style:italic;transform:scaleX(1.05);transform-origin:200.00px 0;color:#1a1a1a">L. limanda</div>
<div class="t" style="left:389.20000000000005px;width:400px;text-align:center;top:7.34px;font-size:14.6px;font-style:italic;transform:scaleX(1.01);transform-origin:200.00px 0;color:#1a1a1a">P. platessa</div>
<div class="t" style="left:-81.5px;width:400px;text-align:center;top:33.84px;font-size:13.3px;color:#1a1a1a">female</div>
<div class="t" style="left:53.80000000000001px;width:400px;text-align:center;top:33.84px;font-size:13.3px;color:#1a1a1a">male</div>
<div class="t" style="left:137.2px;width:400px;text-align:center;top:33.84px;font-size:13.3px;color:#1a1a1a">female</div>
<div class="t" style="left:241.2px;width:400px;text-align:center;top:33.84px;font-size:13.3px;color:#1a1a1a">male</div>
<div class="t" style="left:335.0px;width:400px;text-align:center;top:33.84px;font-size:13.3px;color:#1a1a1a">female</div>
<div class="t" style="left:430.79999999999995px;width:400px;text-align:center;top:33.84px;font-size:13.3px;color:#1a1a1a">male</div>
<div class="t" style="left:3.7px;top:95.80px;font-size:3.4px;color:#6a6a6a">0.75</div>
<div class="t" style="left:3.7px;top:145.80px;font-size:3.4px;color:#6a6a6a">0.50</div>
<div class="t" style="left:3.7px;top:195.80px;font-size:3.4px;color:#6a6a6a">0.25</div>
<div class="t" style="left:3.7px;top:245.80px;font-size:3.4px;color:#6a6a6a">0.00</div>
</div>
</body></html>
